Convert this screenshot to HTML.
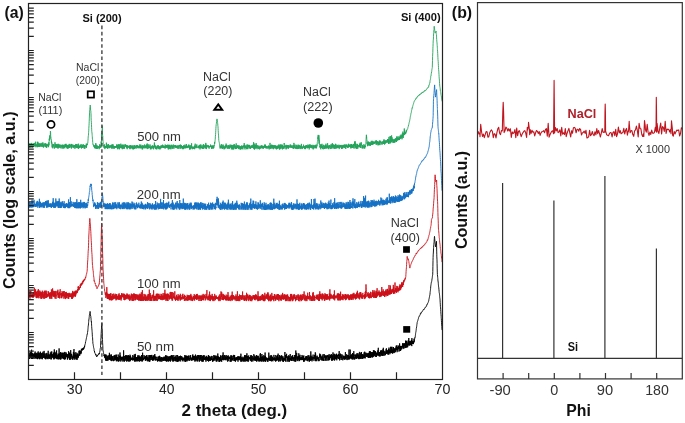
<!DOCTYPE html><html><head><meta charset="utf-8"><style>
html,body{margin:0;padding:0;background:#fff;width:685px;height:423px;overflow:hidden}
svg{display:block;font-family:"Liberation Sans",sans-serif;will-change:transform}
</style></head><body>
<svg width="685" height="423" viewBox="0 0 685 423">
<rect width="685" height="423" fill="#fff"/>
<g fill="none" stroke-linejoin="round" stroke-width="0.9">
<path stroke="#22a35a" d="M28.6,143.8 28.7,145.8 28.8,143.7 29.0,145.2 29.1,143.8 29.2,143.7 29.3,147.1 29.4,146.5 29.6,147.7 29.7,145.0 29.8,145.4 29.9,145.5 30.0,143.3 30.2,146.1 30.3,146.1 30.4,144.1 30.5,144.6 30.6,144.2 30.8,147.6 30.9,145.2 31.0,145.4 31.1,146.3 31.2,143.4 31.4,146.7 31.5,145.3 31.6,145.3 31.7,142.9 31.8,145.9 32.0,143.9 32.1,143.8 32.2,143.8 32.3,147.7 32.4,145.3 32.6,145.9 32.7,146.0 32.8,146.7 32.9,145.2 33.0,144.7 33.2,144.6 33.3,145.7 33.4,145.6 33.5,144.3 33.6,143.4 33.8,146.8 33.9,146.1 34.0,145.2 34.1,144.8 34.2,146.2 34.4,144.5 34.5,144.9 34.6,142.9 34.7,146.2 34.8,145.8 35.0,144.7 35.1,145.7 35.2,144.5 35.3,146.0 35.4,145.0 35.6,144.3 35.7,141.7 35.8,145.4 35.9,147.2 36.0,144.5 36.2,144.7 36.3,146.1 36.4,145.7 36.5,144.6 36.6,144.7 36.8,146.2 36.9,145.4 37.0,145.8 37.1,146.3 37.2,143.7 37.4,147.2 37.5,144.7 37.6,141.9 37.7,146.9 37.8,141.8 38.0,143.4 38.1,145.5 38.2,146.6 38.3,146.0 38.4,145.1 38.6,143.4 38.7,144.2 38.8,146.8 38.9,143.5 39.0,146.4 39.2,144.5 39.3,144.5 39.4,146.8 39.5,146.1 39.6,145.1 39.8,144.1 39.9,143.2 40.0,146.1 40.1,146.9 40.2,145.6 40.4,144.9 40.5,144.0 40.6,145.3 40.7,145.5 40.8,145.5 41.0,146.0 41.1,142.9 41.2,146.2 41.3,145.7 41.4,146.5 41.6,146.2 41.7,144.5 41.8,146.2 41.9,146.4 42.0,144.6 42.2,142.9 42.3,144.4 42.4,145.6 42.5,144.3 42.6,144.3 42.8,146.6 42.9,142.4 43.0,147.1 43.1,145.8 43.2,145.4 43.4,145.1 43.5,147.5 43.6,145.6 43.7,146.9 43.8,145.8 44.0,144.1 44.1,143.5 44.2,145.7 44.3,144.2 44.4,145.1 44.6,144.6 44.7,144.8 44.8,143.9 44.9,143.6 45.0,146.6 45.2,147.1 45.3,144.5 45.4,143.4 45.5,143.4 45.6,146.9 45.8,143.8 45.9,144.8 46.0,144.6 46.1,144.1 46.2,143.8 46.4,147.7 46.5,144.9 46.6,144.2 46.7,147.7 46.8,146.4 47.0,145.9 47.1,145.0 47.2,145.3 47.3,145.5 47.4,144.6 47.6,145.7 47.7,145.8 47.8,146.3 47.9,143.8 48.0,145.8 48.2,145.1 48.3,144.8 48.4,147.2 48.5,146.2 48.6,144.0 48.6,146.5 48.8,142.3 48.9,145.2 49.0,142.9 49.1,141.2 49.2,138.7 49.4,140.1 49.5,140.5 49.6,138.2 49.7,139.0 49.8,135.5 50.0,138.4 50.1,135.1 50.2,134.8 50.3,134.7 50.4,132.1 50.4,131.2 50.6,132.5 50.7,136.2 50.8,136.6 50.9,137.0 51.0,139.6 51.2,139.6 51.2,139.4 51.3,141.0 51.4,142.7 51.5,140.8 51.6,143.6 51.8,142.5 51.9,143.2 52.0,143.4 52.1,144.5 52.2,147.5 52.2,144.1 52.4,147.2 52.5,146.1 52.6,147.1 52.7,147.1 52.8,148.3 53.0,147.8 53.1,147.3 53.2,145.2 53.3,145.4 53.4,144.1 53.6,144.4 53.7,146.4 53.8,146.6 53.9,144.4 54.0,144.9 54.2,146.3 54.3,147.1 54.4,148.6 54.5,146.8 54.6,146.6 54.8,146.5 54.9,145.3 55.0,142.3 55.1,147.1 55.2,146.9 55.4,147.6 55.5,146.6 55.6,144.3 55.7,147.0 55.8,144.6 56.0,145.0 56.1,147.3 56.2,146.7 56.3,145.5 56.4,146.7 56.6,144.2 56.7,147.7 56.8,145.1 56.9,144.7 57.0,147.4 57.2,146.1 57.3,146.3 57.4,145.7 57.5,145.7 57.6,145.4 57.8,147.8 57.9,143.9 58.0,148.7 58.1,144.0 58.2,143.9 58.4,146.2 58.5,147.5 58.6,145.9 58.7,146.6 58.8,144.9 59.0,145.8 59.1,147.9 59.2,146.2 59.3,144.6 59.4,145.1 59.6,146.9 59.7,147.4 59.8,145.9 59.9,145.9 60.0,144.6 60.0,145.9 60.2,145.3 60.3,144.9 60.4,146.1 60.5,146.4 60.6,147.3 60.8,147.9 60.9,146.2 61.0,145.8 61.1,148.5 61.2,147.4 61.4,147.1 61.5,146.1 61.6,146.0 61.7,144.9 61.8,145.7 62.0,145.9 62.1,146.3 62.2,146.6 62.3,144.6 62.4,146.9 62.6,145.1 62.7,145.6 62.8,148.6 62.9,146.2 63.0,148.1 63.2,147.9 63.3,145.6 63.4,147.0 63.5,144.8 63.6,145.3 63.8,146.3 63.9,148.6 64.0,146.7 64.1,146.4 64.2,145.8 64.4,145.9 64.5,147.8 64.6,147.2 64.7,145.3 64.8,147.2 65.0,146.2 65.1,144.0 65.2,146.9 65.3,144.7 65.4,145.4 65.6,146.7 65.7,144.2 65.8,143.9 65.9,146.2 66.0,143.9 66.2,148.3 66.3,147.7 66.4,145.0 66.5,145.7 66.6,146.4 66.8,145.8 66.9,147.2 67.0,146.8 67.1,146.1 67.2,146.9 67.4,145.9 67.5,146.7 67.6,148.7 67.7,144.9 67.8,146.6 68.0,145.3 68.1,148.6 68.2,145.3 68.3,145.5 68.4,147.1 68.6,146.8 68.7,147.8 68.8,147.1 68.9,145.0 69.0,144.6 69.2,145.6 69.3,143.9 69.4,145.0 69.5,147.7 69.6,146.9 69.8,148.0 69.9,147.3 70.0,145.9 70.1,145.8 70.2,146.3 70.4,147.2 70.5,146.4 70.6,145.1 70.7,145.7 70.8,145.1 71.0,145.6 71.1,143.9 71.2,145.2 71.3,144.3 71.4,148.6 71.6,144.4 71.7,145.8 71.8,144.2 71.9,147.5 72.0,147.9 72.2,146.7 72.3,147.0 72.4,146.8 72.5,146.3 72.6,145.1 72.8,144.7 72.9,144.8 73.0,144.7 73.1,146.7 73.2,147.1 73.4,145.6 73.5,145.9 73.6,147.3 73.7,148.1 73.8,146.9 74.0,145.1 74.1,147.3 74.2,145.8 74.3,145.5 74.4,146.5 74.6,146.7 74.7,145.2 74.8,145.8 74.9,148.8 75.0,147.7 75.2,146.5 75.3,146.0 75.4,144.8 75.5,146.0 75.6,147.2 75.8,144.0 75.9,144.0 76.0,144.9 76.1,148.1 76.2,146.6 76.4,145.9 76.5,147.5 76.6,147.2 76.7,144.4 76.8,145.2 77.0,144.1 77.1,147.7 77.2,146.8 77.3,147.8 77.4,146.9 77.6,145.5 77.7,145.9 77.8,147.7 77.9,146.2 78.0,145.9 78.2,148.6 78.3,143.7 78.4,146.2 78.5,145.6 78.6,148.8 78.8,146.7 78.9,145.7 79.0,145.8 79.1,146.1 79.2,147.5 79.4,146.4 79.5,147.2 79.6,147.9 79.7,145.9 79.8,146.7 80.0,146.0 80.1,145.6 80.2,144.7 80.3,147.3 80.4,145.1 80.6,146.8 80.7,146.9 80.8,147.5 80.9,145.8 81.0,146.7 81.2,144.2 81.3,146.3 81.4,146.6 81.5,148.5 81.6,146.2 81.8,147.5 81.9,146.6 82.0,147.4 82.1,147.2 82.2,147.2 82.4,145.0 82.5,147.7 82.6,145.6 82.7,147.7 82.8,147.9 83.0,146.0 83.1,144.2 83.2,145.9 83.3,145.9 83.4,144.8 83.6,145.6 83.7,145.6 83.8,147.5 83.9,148.2 84.0,148.4 84.2,145.6 84.3,146.1 84.4,147.1 84.5,145.0 84.6,145.9 84.8,148.9 84.9,146.9 85.0,145.8 85.1,147.2 85.2,146.6 85.4,145.9 85.5,145.6 85.6,145.3 85.7,145.5 85.8,145.8 86.0,146.6 86.1,147.1 86.2,147.7 86.3,143.6 86.4,147.7 86.5,147.7 86.6,146.0 86.7,145.1 86.8,144.9 86.9,144.0 87.0,145.2 87.2,144.2 87.3,144.7 87.4,143.5 87.5,143.7 87.6,143.4 87.8,143.2 87.8,142.9 87.9,141.4 88.0,140.3 88.1,138.8 88.2,136.9 88.4,135.7 88.5,133.9 88.6,132.6 88.7,131.1 88.8,130.2 88.8,128.7 89.0,125.7 89.1,123.8 89.2,121.7 89.3,118.9 89.4,116.0 89.6,112.9 89.6,112.0 89.7,111.0 89.8,109.8 89.9,107.9 90.0,107.0 90.2,106.2 90.2,105.1 90.3,106.5 90.4,106.5 90.5,107.9 90.6,110.2 90.8,110.8 90.9,111.5 90.9,112.8 91.0,113.4 91.1,117.2 91.2,120.4 91.4,122.3 91.5,124.7 91.6,127.7 91.7,129.8 91.7,130.1 91.8,131.7 92.0,133.0 92.1,134.2 92.2,135.5 92.3,136.7 92.4,139.1 92.6,139.8 92.7,142.1 92.8,142.7 92.9,144.2 93.0,144.4 93.2,144.0 93.3,144.5 93.4,144.9 93.5,146.0 93.6,145.7 93.8,145.6 93.9,146.9 94.0,146.8 94.1,146.8 94.2,146.0 94.4,147.3 94.5,147.9 94.6,145.9 94.7,145.3 94.8,147.8 95.0,145.3 95.1,147.8 95.2,148.7 95.3,146.9 95.4,148.1 95.6,147.0 95.7,145.9 95.8,143.1 95.9,146.1 96.0,144.6 96.2,145.7 96.3,148.2 96.4,147.0 96.5,146.6 96.6,148.9 96.8,145.4 96.9,146.2 97.0,147.4 97.1,147.6 97.2,145.7 97.4,145.8 97.5,148.7 97.6,148.0 97.7,147.8 97.8,148.4 98.0,147.9 98.1,147.3 98.2,147.1 98.3,146.7 98.4,147.5 98.6,146.7 98.7,147.7 98.8,147.0 98.9,146.0 99.0,147.4 99.2,149.2 99.3,147.7 99.4,146.9 99.5,147.7 99.6,144.4 99.8,147.5 99.9,146.1 100.0,146.6 100.1,147.8 100.2,147.2 100.4,144.7 100.5,145.5 100.6,147.4 100.7,145.8 100.8,146.4 101.0,147.4 101.0,147.0 101.1,146.5 101.2,141.6 101.3,143.6 101.4,141.0 101.6,140.1 101.7,134.6 101.7,137.7 101.8,133.2 101.9,135.0 102.0,130.8 102.2,129.7 102.2,128.7 102.3,125.6 102.4,131.3 102.5,133.9 102.6,135.7 102.8,135.9 102.8,138.0 102.9,139.2 103.0,141.2 103.1,141.7 103.2,144.1 103.4,145.6 103.5,145.1 103.6,146.2 103.7,146.5 103.8,145.6 104.0,147.0 104.1,147.8 104.2,147.1 104.3,146.9 104.4,148.0 104.6,144.4 104.7,147.5 104.8,146.4 104.9,149.1 105.0,146.1 105.2,147.9 105.3,147.5 105.4,146.0 105.5,147.5 105.6,147.5 105.8,147.8 105.9,146.4 106.0,146.0 106.1,146.2 106.2,147.1 106.4,142.7 106.5,146.2 106.6,147.9 106.7,147.3 106.8,145.6 107.0,146.1 107.1,147.9 107.2,147.0 107.3,146.7 107.4,148.6 107.6,144.6 107.7,144.8 107.8,148.7 107.9,146.1 108.0,145.8 108.2,147.5 108.3,147.7 108.4,144.0 108.5,145.8 108.6,146.8 108.8,147.3 108.9,147.4 109.0,146.8 109.1,146.9 109.2,146.9 109.4,148.2 109.5,145.7 109.6,145.7 109.7,146.3 109.8,147.8 110.0,146.4 110.1,145.0 110.2,147.1 110.3,146.2 110.4,145.8 110.6,146.4 110.7,146.0 110.8,146.6 110.9,147.4 111.0,148.1 111.2,147.3 111.3,147.0 111.4,144.8 111.5,147.4 111.6,148.4 111.8,145.0 111.9,144.7 112.0,146.7 112.1,146.8 112.2,148.7 112.4,147.0 112.5,144.5 112.6,145.2 112.7,147.7 112.8,147.0 113.0,146.2 113.1,144.4 113.2,147.6 113.3,147.4 113.4,146.7 113.6,146.0 113.7,145.9 113.8,148.6 113.9,147.4 114.0,146.4 114.2,148.7 114.3,146.7 114.4,147.1 114.5,146.1 114.6,147.6 114.8,146.6 114.9,148.0 115.0,148.0 115.1,146.7 115.2,147.0 115.4,146.2 115.5,147.7 115.6,146.5 115.7,146.7 115.8,147.0 116.0,146.1 116.1,146.1 116.2,146.2 116.3,147.5 116.4,147.6 116.6,146.2 116.7,144.4 116.8,147.3 116.9,145.6 117.0,146.9 117.2,148.2 117.3,147.4 117.4,146.3 117.5,149.2 117.6,144.7 117.8,147.6 117.9,147.5 118.0,146.9 118.1,145.6 118.2,148.4 118.4,147.6 118.5,144.5 118.6,147.6 118.7,144.8 118.8,147.6 119.0,144.7 119.1,149.2 119.2,148.6 119.3,144.3 119.4,149.2 119.6,145.9 119.7,147.6 119.8,145.7 119.9,148.1 120.0,147.7 120.2,146.2 120.3,146.8 120.4,146.0 120.5,146.5 120.6,146.2 120.8,143.7 120.9,147.9 121.0,146.2 121.1,148.2 121.2,147.6 121.4,146.1 121.5,148.1 121.6,146.7 121.7,145.3 121.8,147.9 122.0,145.5 122.1,144.4 122.2,144.6 122.3,149.2 122.4,145.6 122.6,148.0 122.7,148.6 122.8,145.3 122.9,146.3 123.0,146.6 123.2,145.1 123.3,147.4 123.4,147.0 123.5,148.4 123.6,148.5 123.8,147.2 123.9,144.5 124.0,145.3 124.1,148.8 124.2,146.7 124.4,148.1 124.5,146.8 124.6,148.2 124.7,146.8 124.8,145.2 125.0,144.6 125.1,144.4 125.2,146.6 125.3,146.6 125.4,146.0 125.6,144.5 125.7,146.3 125.8,146.5 125.9,146.5 126.0,145.9 126.2,146.9 126.3,147.0 126.4,145.3 126.5,147.5 126.6,145.5 126.8,148.3 126.9,145.1 127.0,145.1 127.1,148.3 127.2,149.2 127.4,148.4 127.5,148.2 127.6,145.5 127.7,146.7 127.8,146.9 128.0,146.2 128.1,146.1 128.2,147.1 128.3,147.4 128.4,147.3 128.6,147.3 128.7,146.3 128.8,147.5 128.9,146.7 129.0,145.7 129.2,147.9 129.3,148.2 129.4,145.7 129.5,147.6 129.6,145.8 129.8,148.4 129.9,146.3 130.0,149.2 130.1,146.3 130.2,145.7 130.4,146.8 130.5,145.2 130.6,146.0 130.7,147.3 130.8,146.4 131.0,148.6 131.1,146.3 131.2,147.2 131.3,145.9 131.4,147.4 131.6,145.6 131.7,146.0 131.8,147.8 131.9,147.5 132.0,146.3 132.2,145.9 132.3,148.5 132.4,147.1 132.5,145.8 132.6,147.1 132.8,149.3 132.9,146.2 133.0,147.7 133.1,145.3 133.2,148.1 133.4,147.4 133.5,147.6 133.6,149.3 133.7,147.6 133.8,147.8 134.0,147.7 134.1,148.4 134.2,146.8 134.3,149.0 134.4,145.1 134.6,147.8 134.7,147.1 134.8,146.7 134.9,146.3 135.0,146.7 135.2,146.2 135.3,146.8 135.4,148.1 135.5,147.6 135.6,146.9 135.8,148.1 135.9,145.4 136.0,147.3 136.1,148.7 136.2,148.3 136.4,145.6 136.5,146.7 136.6,146.0 136.7,146.6 136.8,146.7 137.0,145.0 137.1,147.4 137.2,147.0 137.3,145.4 137.4,145.0 137.6,147.7 137.7,147.3 137.8,146.2 137.9,148.1 138.0,148.3 138.2,146.3 138.3,146.1 138.4,147.5 138.5,146.0 138.6,147.8 138.8,145.7 138.9,147.4 139.0,148.2 139.1,147.4 139.2,147.0 139.4,147.4 139.5,146.0 139.6,147.0 139.7,148.1 139.8,144.4 140.0,148.0 140.1,146.6 140.2,146.3 140.3,148.4 140.4,145.4 140.6,146.9 140.7,147.6 140.8,147.4 140.9,144.7 141.0,147.9 141.2,146.7 141.3,146.4 141.4,146.4 141.5,147.8 141.6,146.6 141.8,146.5 141.9,145.8 142.0,145.8 142.1,149.3 142.2,147.3 142.4,148.8 142.5,146.9 142.6,149.3 142.7,146.6 142.8,145.0 143.0,147.6 143.1,146.3 143.2,147.1 143.3,147.4 143.4,147.1 143.6,146.3 143.7,146.7 143.8,148.3 143.9,146.4 144.0,145.6 144.2,147.6 144.3,145.5 144.4,145.9 144.5,145.6 144.6,144.5 144.8,145.3 144.9,148.2 145.0,147.7 145.1,148.3 145.2,147.4 145.4,147.8 145.5,145.7 145.6,147.9 145.7,145.7 145.8,146.2 146.0,146.6 146.1,146.0 146.2,146.1 146.3,146.5 146.4,145.5 146.6,148.2 146.7,144.5 146.8,145.7 146.9,146.0 147.0,147.0 147.2,143.5 147.3,149.1 147.4,145.9 147.5,146.5 147.6,147.1 147.8,144.7 147.9,147.0 148.0,147.7 148.1,148.4 148.2,148.3 148.4,148.5 148.5,146.0 148.6,146.7 148.7,145.9 148.8,144.4 149.0,147.8 149.1,146.6 149.2,147.8 149.3,146.7 149.4,147.9 149.6,147.4 149.7,146.4 149.8,145.7 149.9,145.9 150.0,145.4 150.2,144.6 150.3,149.3 150.4,147.8 150.5,147.0 150.6,148.2 150.8,148.2 150.9,146.4 151.0,147.2 151.1,149.3 151.2,146.6 151.4,146.5 151.5,146.3 151.6,146.6 151.7,147.2 151.8,146.6 152.0,148.4 152.1,147.2 152.2,148.2 152.3,145.2 152.4,146.1 152.6,146.8 152.7,146.1 152.8,146.9 152.9,146.4 153.0,146.9 153.2,148.4 153.3,146.6 153.4,145.9 153.5,148.5 153.6,149.3 153.8,146.0 153.9,148.3 154.0,147.1 154.1,145.6 154.2,145.8 154.4,142.5 154.5,146.5 154.6,144.4 154.7,146.8 154.8,145.3 155.0,146.7 155.1,147.3 155.2,146.9 155.3,147.5 155.4,145.8 155.6,148.9 155.7,147.1 155.8,145.8 155.9,146.7 156.0,147.1 156.2,149.3 156.3,146.9 156.4,148.3 156.5,147.0 156.6,148.6 156.8,146.8 156.9,149.3 157.0,146.6 157.1,147.9 157.2,147.3 157.4,145.4 157.5,146.9 157.6,147.7 157.7,146.1 157.8,147.7 158.0,146.4 158.1,147.3 158.2,145.8 158.3,148.7 158.4,145.3 158.6,145.8 158.7,148.3 158.8,147.0 158.9,147.5 159.0,146.6 159.2,149.3 159.3,146.2 159.4,148.1 159.5,148.4 159.6,148.1 159.8,148.3 159.9,148.2 160.0,146.5 160.1,146.5 160.2,149.3 160.4,146.7 160.5,147.2 160.6,148.0 160.7,147.9 160.8,147.0 161.0,145.4 161.1,147.0 161.2,147.4 161.3,148.2 161.4,146.3 161.6,146.0 161.7,146.5 161.8,145.3 161.9,147.3 162.0,148.0 162.2,146.7 162.3,146.6 162.4,147.1 162.5,144.7 162.6,146.1 162.8,145.2 162.9,146.9 163.0,147.9 163.1,147.0 163.2,146.1 163.4,146.1 163.5,146.4 163.6,147.9 163.7,145.6 163.8,147.7 164.0,147.7 164.1,146.5 164.2,147.4 164.3,146.4 164.4,146.7 164.6,147.6 164.7,146.3 164.8,146.6 164.9,148.4 165.0,148.0 165.2,144.5 165.3,147.0 165.4,148.3 165.5,146.9 165.6,146.0 165.8,145.9 165.9,145.2 166.0,147.1 166.1,146.4 166.2,147.1 166.4,147.9 166.5,145.0 166.6,145.6 166.7,146.9 166.8,145.5 167.0,147.0 167.1,145.8 167.2,146.9 167.3,148.0 167.4,145.0 167.6,146.1 167.7,144.9 167.8,147.2 167.9,146.2 168.0,144.6 168.2,149.3 168.3,147.3 168.4,145.3 168.5,146.6 168.6,146.6 168.8,149.3 168.9,146.6 169.0,146.2 169.1,145.0 169.2,148.3 169.4,148.3 169.5,147.2 169.6,144.8 169.7,148.5 169.8,146.3 170.0,146.8 170.1,147.1 170.2,147.2 170.3,148.7 170.4,145.9 170.6,146.8 170.7,145.8 170.8,145.5 170.9,149.3 171.0,145.8 171.2,144.7 171.3,144.8 171.4,146.7 171.5,145.6 171.6,145.6 171.8,146.6 171.9,147.4 172.0,148.4 172.1,147.3 172.2,147.1 172.4,148.6 172.5,146.4 172.6,147.0 172.7,148.3 172.8,145.3 173.0,147.7 173.1,145.1 173.2,144.7 173.3,144.5 173.4,145.9 173.6,147.0 173.7,146.5 173.8,146.7 173.9,148.8 174.0,147.1 174.2,145.2 174.3,146.4 174.4,147.2 174.5,147.2 174.6,146.7 174.8,146.5 174.9,145.7 175.0,145.2 175.1,146.1 175.2,146.2 175.4,145.4 175.5,147.2 175.6,145.2 175.7,145.9 175.8,147.8 176.0,147.8 176.1,145.8 176.2,147.5 176.3,146.9 176.4,147.9 176.6,145.9 176.7,147.6 176.8,146.3 176.9,145.8 177.0,147.3 177.2,146.3 177.3,148.5 177.4,147.1 177.5,145.6 177.6,145.8 177.8,147.3 177.9,147.2 178.0,145.7 178.1,146.4 178.2,148.8 178.4,146.3 178.5,145.8 178.6,147.1 178.7,145.5 178.8,146.9 179.0,146.7 179.1,146.8 179.2,148.6 179.3,147.7 179.4,146.9 179.6,145.0 179.7,145.8 179.8,145.3 179.9,145.9 180.0,146.1 180.2,146.5 180.3,144.5 180.4,146.0 180.5,146.1 180.6,148.7 180.8,145.6 180.9,146.3 181.0,145.1 181.1,145.1 181.2,147.4 181.4,145.8 181.5,145.5 181.6,147.3 181.7,148.0 181.8,146.6 182.0,146.4 182.1,148.7 182.2,146.2 182.3,147.6 182.4,148.1 182.6,147.1 182.7,146.0 182.8,149.2 182.9,147.2 183.0,147.5 183.2,146.9 183.3,146.0 183.4,149.1 183.5,147.3 183.6,146.4 183.8,145.2 183.9,147.2 184.0,148.3 184.1,147.5 184.2,145.5 184.4,147.1 184.5,147.8 184.6,148.0 184.7,146.7 184.8,148.2 185.0,144.6 185.1,145.8 185.2,148.4 185.3,147.5 185.4,146.3 185.6,146.9 185.7,146.6 185.8,147.8 185.9,145.7 186.0,148.0 186.2,147.3 186.3,147.2 186.4,144.0 186.5,147.4 186.6,147.8 186.8,146.4 186.9,148.2 187.0,146.3 187.1,147.8 187.2,146.9 187.4,147.2 187.5,146.9 187.6,147.5 187.7,145.9 187.8,146.9 188.0,145.7 188.1,145.7 188.2,145.9 188.3,147.6 188.4,145.5 188.6,146.7 188.7,147.0 188.8,144.5 188.9,146.2 189.0,146.3 189.2,147.9 189.3,145.4 189.4,145.8 189.5,147.3 189.6,149.4 189.8,146.8 189.9,147.0 190.0,149.4 190.1,146.1 190.2,149.2 190.4,147.3 190.5,148.7 190.6,146.6 190.7,146.5 190.8,145.1 191.0,147.8 191.1,147.6 191.2,148.1 191.3,147.2 191.4,148.2 191.6,143.3 191.7,146.2 191.8,147.1 191.9,147.4 192.0,148.4 192.2,146.6 192.3,146.8 192.4,149.2 192.5,147.3 192.6,147.1 192.8,147.0 192.9,147.2 193.0,148.0 193.1,146.7 193.2,147.6 193.4,148.5 193.5,148.4 193.6,147.4 193.7,146.9 193.8,148.9 194.0,147.8 194.1,146.8 194.2,146.8 194.3,146.6 194.4,146.4 194.6,149.2 194.7,146.1 194.8,145.5 194.9,146.5 195.0,147.0 195.2,143.7 195.3,146.9 195.4,146.6 195.5,147.6 195.6,147.6 195.8,148.2 195.9,146.2 196.0,146.6 196.1,147.0 196.2,148.1 196.4,147.9 196.5,145.6 196.6,146.9 196.7,146.6 196.8,144.4 197.0,147.3 197.1,147.3 197.2,147.2 197.3,147.3 197.4,146.8 197.6,147.2 197.7,147.5 197.8,147.3 197.9,147.6 198.0,147.9 198.2,148.2 198.3,146.6 198.4,147.0 198.5,146.9 198.6,147.1 198.8,145.8 198.9,147.9 199.0,145.6 199.1,148.2 199.2,147.3 199.4,146.8 199.5,147.0 199.6,144.9 199.7,147.4 199.8,148.1 200.0,149.4 200.1,149.2 200.2,145.9 200.3,148.2 200.4,144.7 200.6,145.8 200.7,145.3 200.8,144.6 200.9,146.4 201.0,146.7 201.2,146.3 201.3,146.3 201.4,147.4 201.5,148.2 201.6,146.9 201.8,148.1 201.9,147.4 202.0,146.3 202.1,144.8 202.2,147.0 202.4,148.7 202.5,146.9 202.6,147.1 202.7,148.3 202.8,148.1 203.0,146.5 203.1,146.2 203.2,148.8 203.3,148.2 203.4,148.7 203.6,144.1 203.7,146.5 203.8,146.8 203.9,145.4 204.0,145.1 204.2,147.2 204.3,146.4 204.4,145.6 204.5,146.1 204.6,146.0 204.8,148.3 204.9,147.6 205.0,147.5 205.1,146.0 205.2,146.6 205.4,144.6 205.5,148.2 205.6,145.6 205.7,147.2 205.8,142.9 206.0,146.8 206.1,148.6 206.2,147.6 206.3,147.2 206.4,149.1 206.6,146.9 206.7,144.8 206.8,146.9 206.9,145.8 207.0,147.1 207.2,147.4 207.3,147.0 207.4,146.7 207.5,146.4 207.6,145.4 207.8,145.8 207.9,145.3 208.0,146.1 208.1,146.4 208.2,147.1 208.4,147.0 208.5,146.6 208.6,145.4 208.7,147.5 208.8,146.6 209.0,147.6 209.1,148.7 209.2,147.4 209.3,147.2 209.4,146.2 209.6,146.0 209.7,147.2 209.8,146.7 209.9,146.6 210.0,146.2 210.2,146.3 210.3,147.1 210.4,146.7 210.5,144.6 210.6,146.2 210.8,146.0 210.9,146.7 211.0,147.1 211.1,145.9 211.2,146.8 211.4,145.7 211.5,148.1 211.6,149.0 211.7,146.2 211.8,147.9 212.0,146.5 212.1,146.6 212.2,145.4 212.3,145.7 212.4,148.2 212.6,146.8 212.7,146.0 212.8,147.6 212.9,145.6 213.0,148.9 213.2,147.7 213.3,146.0 213.4,146.8 213.5,147.5 213.6,146.6 213.8,148.1 213.9,145.4 214.0,145.1 214.1,146.3 214.2,144.9 214.4,144.3 214.5,144.3 214.6,141.9 214.7,143.7 214.8,142.0 215.0,141.6 215.1,140.2 215.2,139.6 215.3,138.0 215.4,136.2 215.6,134.5 215.7,132.3 215.8,130.3 215.9,128.4 216.0,126.4 216.2,124.6 216.2,124.5 216.3,124.1 216.4,123.2 216.5,121.7 216.6,121.2 216.8,119.9 216.9,119.2 217.0,118.9 217.1,119.0 217.2,120.1 217.4,121.1 217.5,122.0 217.6,122.6 217.7,123.8 217.8,123.9 217.8,125.2 218.0,126.6 218.1,128.5 218.2,130.5 218.3,132.2 218.4,133.9 218.6,135.9 218.7,138.2 218.8,140.3 218.9,140.8 219.0,141.5 219.2,142.1 219.3,142.8 219.4,143.4 219.5,144.3 219.6,145.2 219.8,146.4 219.9,146.4 220.0,147.4 220.1,148.5 220.2,145.8 220.4,146.5 220.5,147.7 220.6,147.2 220.7,145.7 220.8,146.1 221.0,148.0 221.1,146.3 221.2,148.4 221.3,144.1 221.4,147.7 221.6,146.9 221.7,146.2 221.8,146.8 221.9,147.6 222.0,146.4 222.2,144.8 222.3,147.2 222.4,148.9 222.5,147.4 222.6,148.0 222.8,146.6 222.9,148.2 223.0,147.2 223.1,146.1 223.2,144.6 223.4,145.2 223.5,147.8 223.6,147.0 223.7,146.6 223.8,148.2 224.0,147.7 224.1,149.4 224.2,147.9 224.3,147.3 224.4,148.5 224.6,146.4 224.7,147.1 224.8,148.9 224.9,147.4 225.0,147.1 225.2,145.7 225.3,145.3 225.4,146.3 225.5,148.2 225.6,147.9 225.8,147.3 225.9,145.6 226.0,147.2 226.1,143.6 226.2,147.5 226.4,145.7 226.5,146.5 226.6,144.9 226.7,147.0 226.8,146.7 227.0,145.2 227.1,145.7 227.2,146.3 227.3,148.9 227.4,147.6 227.6,147.3 227.7,146.8 227.8,147.7 227.9,146.8 228.0,147.0 228.2,145.6 228.3,147.1 228.4,146.9 228.5,148.5 228.6,145.6 228.8,146.5 228.9,145.1 229.0,146.7 229.1,146.9 229.2,149.0 229.4,148.5 229.5,146.1 229.6,147.3 229.7,146.4 229.8,148.1 230.0,144.6 230.1,145.4 230.2,147.4 230.3,146.2 230.4,146.0 230.6,145.7 230.7,146.9 230.8,147.2 230.9,146.7 231.0,144.7 231.2,147.1 231.3,149.1 231.4,149.4 231.5,148.9 231.6,145.0 231.8,147.3 231.9,146.8 232.0,148.4 232.1,146.6 232.2,146.5 232.4,147.4 232.5,149.4 232.6,148.3 232.7,145.0 232.8,148.7 233.0,147.9 233.1,147.4 233.2,147.1 233.3,149.4 233.4,144.7 233.6,146.0 233.7,145.4 233.8,149.3 233.9,148.1 234.0,146.2 234.2,147.2 234.3,144.1 234.4,146.8 234.5,147.1 234.6,147.8 234.8,145.8 234.9,146.0 235.0,146.8 235.1,145.3 235.2,148.6 235.4,147.8 235.5,148.5 235.6,146.0 235.7,149.1 235.8,146.4 236.0,148.6 236.1,147.1 236.2,143.4 236.3,146.2 236.4,148.6 236.6,146.8 236.7,148.3 236.8,146.9 236.9,148.1 237.0,147.1 237.2,146.2 237.3,147.6 237.4,146.6 237.5,148.1 237.6,145.1 237.8,148.0 237.9,147.5 238.0,146.2 238.1,147.8 238.2,146.4 238.4,146.8 238.5,148.5 238.6,146.5 238.7,149.1 238.8,145.0 239.0,145.6 239.1,148.3 239.2,148.4 239.3,147.1 239.4,146.3 239.6,146.5 239.7,146.6 239.8,146.6 239.9,149.4 240.0,146.5 240.2,146.2 240.3,146.2 240.4,146.3 240.5,149.4 240.6,146.8 240.8,147.2 240.9,146.5 241.0,149.4 241.1,148.7 241.2,146.9 241.4,147.0 241.5,148.7 241.6,145.5 241.7,146.4 241.8,147.3 242.0,146.7 242.1,146.4 242.2,146.0 242.3,148.8 242.4,146.0 242.6,146.8 242.7,145.8 242.8,148.7 242.9,149.4 243.0,147.0 243.2,146.6 243.3,146.7 243.4,145.7 243.5,145.9 243.6,147.1 243.8,145.4 243.9,146.0 244.0,147.5 244.1,147.7 244.2,143.1 244.4,147.2 244.5,146.7 244.6,146.1 244.7,144.9 244.8,148.7 245.0,149.4 245.1,146.6 245.2,146.9 245.3,147.9 245.4,147.4 245.6,146.7 245.7,147.4 245.8,145.4 245.9,147.7 246.0,146.6 246.2,146.9 246.3,146.8 246.4,149.2 246.5,147.0 246.6,146.9 246.8,146.3 246.9,144.6 247.0,147.4 247.1,148.3 247.2,148.5 247.4,148.0 247.5,149.0 247.6,148.9 247.7,144.6 247.8,149.2 248.0,145.7 248.1,146.7 248.2,147.5 248.3,145.4 248.4,146.6 248.6,146.5 248.7,145.6 248.8,145.3 248.9,146.7 249.0,144.8 249.2,146.1 249.3,145.0 249.4,148.1 249.5,145.0 249.6,146.7 249.8,147.3 249.9,148.0 250.0,146.9 250.1,149.0 250.2,146.6 250.4,146.7 250.5,148.6 250.6,148.3 250.7,146.5 250.8,148.2 251.0,147.5 251.1,147.8 251.2,145.2 251.3,146.6 251.4,147.1 251.6,146.4 251.7,147.3 251.8,147.3 251.9,147.3 252.0,147.7 252.2,145.5 252.3,147.5 252.4,147.8 252.5,145.9 252.6,145.6 252.8,144.8 252.9,147.9 253.0,146.9 253.1,147.3 253.2,147.7 253.4,144.7 253.5,147.8 253.6,142.2 253.7,147.0 253.8,148.6 254.0,146.7 254.1,148.6 254.2,146.8 254.3,149.4 254.4,145.3 254.6,149.4 254.7,146.3 254.8,143.6 254.9,147.0 255.0,147.5 255.2,147.0 255.3,146.0 255.4,148.1 255.5,144.9 255.6,148.5 255.8,146.3 255.9,145.8 256.0,148.0 256.1,148.2 256.2,143.2 256.4,144.8 256.5,147.9 256.6,145.8 256.7,146.0 256.8,146.1 257.0,146.7 257.1,149.2 257.2,145.0 257.3,145.6 257.4,146.8 257.6,147.7 257.7,147.4 257.8,147.1 257.9,147.4 258.0,145.9 258.2,145.7 258.3,146.2 258.4,146.3 258.5,147.4 258.6,148.9 258.8,145.8 258.9,145.9 259.0,146.1 259.1,147.9 259.2,148.2 259.4,149.4 259.5,148.6 259.6,146.9 259.7,148.6 259.8,147.1 260.0,147.2 260.1,145.7 260.2,145.9 260.3,145.8 260.4,148.5 260.6,147.9 260.7,148.3 260.8,146.7 260.9,146.5 261.0,147.5 261.2,146.8 261.3,146.2 261.4,146.1 261.5,148.2 261.6,145.3 261.8,147.5 261.9,146.1 262.0,148.0 262.1,145.6 262.2,146.6 262.4,146.1 262.5,146.3 262.6,146.8 262.7,148.5 262.8,146.1 263.0,145.8 263.1,147.1 263.2,148.2 263.3,146.7 263.4,148.6 263.6,147.3 263.7,146.1 263.8,146.5 263.9,147.8 264.0,146.6 264.2,146.1 264.3,147.8 264.4,146.0 264.5,145.4 264.6,146.7 264.8,146.9 264.9,144.4 265.0,145.2 265.1,146.1 265.2,147.1 265.4,144.8 265.5,146.4 265.6,148.2 265.7,147.9 265.8,145.7 266.0,147.0 266.1,148.1 266.2,148.2 266.3,146.3 266.4,147.3 266.6,146.0 266.7,147.0 266.8,147.7 266.9,147.2 267.0,148.8 267.2,148.0 267.3,146.9 267.4,146.2 267.5,146.9 267.6,147.2 267.8,147.1 267.9,147.3 268.0,147.8 268.1,148.1 268.2,148.4 268.4,145.5 268.5,147.5 268.6,147.2 268.7,146.1 268.8,148.0 269.0,148.0 269.1,146.3 269.2,149.4 269.3,148.2 269.4,146.5 269.6,146.4 269.7,147.3 269.8,146.5 269.9,146.0 270.0,142.9 270.2,148.3 270.3,148.1 270.4,148.5 270.5,147.0 270.6,148.6 270.8,145.1 270.9,147.9 271.0,146.0 271.1,147.0 271.2,145.0 271.4,147.2 271.5,147.6 271.6,144.7 271.7,145.4 271.8,146.7 272.0,148.9 272.1,147.5 272.2,147.3 272.3,144.9 272.4,147.5 272.6,145.4 272.7,147.7 272.8,147.3 272.9,145.3 273.0,147.4 273.2,145.0 273.3,148.2 273.4,149.2 273.5,146.7 273.6,146.1 273.8,146.6 273.9,147.0 274.0,148.6 274.1,146.1 274.2,147.3 274.4,147.7 274.5,146.2 274.6,145.4 274.7,147.7 274.8,147.7 275.0,145.1 275.1,145.3 275.2,147.5 275.3,145.6 275.4,147.7 275.6,147.9 275.7,147.0 275.8,148.7 275.9,148.9 276.0,146.9 276.2,147.2 276.3,146.1 276.4,149.4 276.5,147.3 276.6,146.3 276.8,145.9 276.9,147.9 277.0,146.6 277.1,146.4 277.2,145.5 277.4,146.2 277.5,148.7 277.6,146.2 277.7,147.4 277.8,147.9 278.0,148.7 278.1,146.4 278.2,146.1 278.3,147.1 278.4,147.9 278.6,145.7 278.7,145.8 278.8,147.2 278.9,144.5 279.0,147.6 279.2,144.8 279.3,148.4 279.4,146.4 279.5,149.4 279.6,147.0 279.8,149.4 279.9,146.9 280.0,146.2 280.1,146.4 280.2,147.9 280.4,148.7 280.5,148.1 280.6,144.5 280.7,148.4 280.8,148.4 281.0,144.7 281.1,146.6 281.2,146.7 281.3,146.8 281.4,146.8 281.6,145.7 281.7,147.6 281.8,148.0 281.9,148.4 282.0,144.5 282.2,148.5 282.3,145.8 282.4,149.4 282.5,145.2 282.6,146.5 282.8,146.0 282.9,148.7 283.0,146.7 283.1,146.5 283.2,146.7 283.4,147.7 283.5,148.4 283.6,147.2 283.7,148.6 283.8,148.0 284.0,145.9 284.1,147.0 284.2,143.0 284.3,146.8 284.4,147.2 284.6,146.4 284.7,147.2 284.8,147.3 284.9,148.5 285.0,146.9 285.2,146.2 285.3,147.0 285.4,146.8 285.5,146.6 285.6,147.0 285.8,145.5 285.9,145.9 286.0,144.8 286.1,149.4 286.2,147.6 286.4,148.3 286.5,146.4 286.6,145.4 286.7,147.6 286.8,145.9 287.0,148.4 287.1,145.6 287.2,147.6 287.3,146.8 287.4,146.2 287.6,145.4 287.7,145.7 287.8,146.0 287.9,145.3 288.0,146.7 288.2,148.5 288.3,145.1 288.4,146.8 288.5,148.5 288.6,146.2 288.8,146.3 288.9,147.3 289.0,146.6 289.1,146.9 289.2,146.5 289.4,146.3 289.5,145.6 289.6,146.9 289.7,147.2 289.8,147.6 290.0,146.5 290.1,146.1 290.2,144.5 290.3,147.7 290.4,146.9 290.6,144.9 290.7,146.7 290.8,144.9 290.9,146.9 291.0,146.2 291.2,146.6 291.3,146.6 291.4,147.2 291.5,147.1 291.6,146.3 291.8,146.3 291.9,148.0 292.0,145.3 292.1,147.7 292.2,147.0 292.4,147.6 292.5,147.1 292.6,146.9 292.7,147.4 292.8,148.3 293.0,146.1 293.1,145.6 293.2,145.1 293.3,148.3 293.4,146.7 293.6,147.3 293.7,145.3 293.8,148.9 293.9,142.9 294.0,144.7 294.2,144.8 294.3,147.0 294.4,146.2 294.5,147.1 294.6,147.9 294.8,145.9 294.9,146.6 295.0,147.0 295.1,144.6 295.2,146.7 295.4,148.3 295.5,147.0 295.6,147.1 295.7,148.6 295.8,147.2 296.0,148.3 296.1,147.6 296.2,147.0 296.3,147.6 296.4,145.3 296.6,146.0 296.7,146.8 296.8,148.9 296.9,146.7 297.0,144.7 297.2,149.1 297.3,146.7 297.4,146.5 297.5,146.5 297.6,146.2 297.8,145.9 297.9,145.8 298.0,146.7 298.1,148.8 298.2,145.6 298.4,145.4 298.5,148.4 298.6,148.1 298.7,144.7 298.8,145.9 299.0,148.5 299.1,148.8 299.2,148.0 299.3,146.4 299.4,146.8 299.6,147.3 299.7,145.2 299.8,147.2 299.9,147.3 300.0,147.3 300.2,146.8 300.3,149.1 300.4,148.6 300.5,145.9 300.6,146.3 300.8,146.5 300.9,145.8 301.0,148.1 301.1,147.5 301.2,146.3 301.4,143.9 301.5,147.5 301.6,147.2 301.7,147.3 301.8,148.5 302.0,149.1 302.1,147.7 302.2,146.5 302.3,148.6 302.4,147.1 302.6,148.2 302.7,147.7 302.8,146.7 302.9,146.5 303.0,146.4 303.2,146.9 303.3,147.2 303.4,147.7 303.5,144.7 303.6,145.5 303.8,145.9 303.9,147.0 304.0,147.8 304.1,146.5 304.2,146.7 304.4,148.8 304.5,147.0 304.6,146.2 304.7,147.7 304.8,148.2 305.0,147.1 305.1,149.2 305.2,145.7 305.3,145.7 305.4,148.5 305.6,146.8 305.7,145.8 305.8,148.4 305.9,148.2 306.0,147.5 306.2,145.4 306.3,146.2 306.4,145.0 306.5,145.4 306.6,145.9 306.8,147.9 306.9,146.5 307.0,146.2 307.1,146.5 307.2,146.0 307.4,146.1 307.5,148.3 307.6,148.1 307.7,145.6 307.8,145.8 308.0,144.5 308.1,146.8 308.2,147.6 308.3,145.2 308.4,147.7 308.6,147.3 308.7,147.7 308.8,146.5 308.9,146.6 309.0,145.3 309.2,149.4 309.3,148.6 309.4,146.9 309.5,145.9 309.6,147.8 309.8,144.5 309.9,146.7 310.0,144.5 310.1,147.5 310.2,147.4 310.4,146.6 310.5,147.5 310.6,147.2 310.7,146.3 310.8,145.9 311.0,145.2 311.1,147.2 311.2,144.9 311.3,147.3 311.4,146.7 311.6,147.6 311.7,146.7 311.8,147.3 311.9,145.4 312.0,147.4 312.2,148.5 312.3,147.8 312.4,147.5 312.5,147.1 312.6,147.3 312.8,145.1 312.9,144.8 313.0,145.3 313.1,148.7 313.2,149.4 313.4,145.3 313.5,148.3 313.6,147.7 313.7,146.8 313.8,147.0 314.0,146.7 314.1,148.4 314.2,146.8 314.3,146.3 314.4,146.4 314.6,146.8 314.7,145.2 314.8,146.4 314.9,146.4 315.0,147.6 315.2,147.1 315.3,147.7 315.4,144.8 315.5,147.8 315.6,146.9 315.8,148.2 315.9,146.0 316.0,147.2 316.1,147.4 316.2,148.4 316.4,146.8 316.5,147.7 316.6,147.4 316.7,146.5 316.8,144.6 316.8,146.4 317.0,145.8 317.1,144.5 317.2,144.6 317.3,142.5 317.4,141.6 317.6,141.4 317.6,141.0 317.7,140.2 317.8,140.3 317.9,137.3 318.0,138.8 318.2,134.9 318.2,136.5 318.3,136.0 318.4,138.7 318.5,137.3 318.6,137.9 318.8,138.8 318.9,140.4 318.9,135.2 319.0,140.1 319.1,143.7 319.2,140.1 319.4,143.1 319.5,144.9 319.6,144.8 319.7,144.6 319.8,147.3 319.8,146.5 320.0,147.0 320.1,146.7 320.2,147.4 320.3,147.7 320.4,147.7 320.6,144.4 320.7,149.0 320.8,149.3 320.9,148.2 321.0,147.9 321.2,144.5 321.3,148.0 321.4,146.6 321.5,145.8 321.6,146.4 321.8,147.5 321.9,144.4 322.0,143.8 322.1,146.0 322.2,146.6 322.4,145.8 322.5,148.5 322.6,148.0 322.7,148.5 322.8,146.3 323.0,146.0 323.1,147.4 323.2,149.3 323.3,146.7 323.4,146.6 323.6,144.8 323.7,146.3 323.8,146.9 323.9,146.9 324.0,147.3 324.2,148.5 324.3,146.3 324.4,148.6 324.5,147.4 324.6,145.6 324.8,146.8 324.9,147.1 325.0,149.0 325.1,145.9 325.2,147.2 325.4,145.0 325.5,146.1 325.6,145.8 325.7,148.2 325.8,145.2 326.0,143.7 326.1,147.5 326.2,146.1 326.3,146.9 326.4,147.4 326.6,148.4 326.7,145.4 326.8,147.4 326.9,146.0 327.0,148.4 327.2,146.2 327.3,147.7 327.4,147.4 327.5,145.8 327.6,143.2 327.8,147.7 327.9,147.5 328.0,147.0 328.1,146.0 328.2,146.2 328.4,148.7 328.5,147.9 328.6,147.0 328.7,145.9 328.8,149.2 329.0,145.0 329.1,146.9 329.2,146.5 329.3,147.6 329.4,147.8 329.6,147.7 329.7,145.8 329.8,145.0 329.9,146.1 330.0,146.9 330.2,146.0 330.3,147.9 330.4,148.9 330.5,148.8 330.6,147.3 330.8,145.2 330.9,144.8 331.0,144.3 331.1,145.9 331.2,148.6 331.4,148.8 331.5,146.3 331.6,145.3 331.7,147.5 331.8,148.0 332.0,146.9 332.1,144.2 332.2,147.0 332.3,143.1 332.4,144.3 332.6,146.8 332.7,146.5 332.8,147.1 332.9,148.5 333.0,147.2 333.2,146.4 333.3,147.2 333.4,144.7 333.5,144.7 333.6,146.3 333.8,145.6 333.9,144.5 334.0,148.6 334.1,147.0 334.2,147.9 334.4,145.0 334.5,145.7 334.6,145.2 334.7,147.2 334.8,149.0 335.0,146.2 335.1,145.2 335.2,145.9 335.3,147.1 335.4,146.9 335.6,143.8 335.7,147.7 335.8,146.3 335.9,148.8 336.0,147.6 336.2,147.4 336.3,146.8 336.4,146.9 336.5,146.7 336.6,148.0 336.8,144.6 336.9,145.3 337.0,148.3 337.1,145.4 337.2,146.9 337.4,146.2 337.5,145.5 337.6,146.3 337.7,145.9 337.8,147.8 338.0,146.3 338.1,146.2 338.2,145.5 338.3,148.0 338.4,146.2 338.6,146.1 338.7,146.0 338.8,145.7 338.9,144.7 339.0,146.5 339.2,149.1 339.3,148.7 339.4,146.1 339.5,147.4 339.6,147.5 339.8,145.2 339.9,147.0 340.0,147.0 340.1,147.3 340.2,145.4 340.4,147.4 340.5,146.3 340.6,146.4 340.7,145.4 340.8,145.9 341.0,146.5 341.1,144.9 341.2,146.5 341.3,145.8 341.4,146.3 341.6,149.0 341.7,147.9 341.8,146.8 341.9,145.6 342.0,145.2 342.2,145.1 342.3,148.1 342.4,147.3 342.5,146.1 342.6,148.6 342.8,145.3 342.9,145.5 343.0,146.5 343.1,147.3 343.2,145.2 343.4,144.9 343.5,146.1 343.6,146.9 343.7,145.9 343.8,145.2 344.0,148.1 344.1,144.8 344.2,146.5 344.3,145.3 344.4,146.7 344.6,147.7 344.7,147.4 344.8,147.0 344.9,147.4 345.0,144.2 345.2,145.5 345.3,146.6 345.4,145.3 345.5,147.1 345.6,148.5 345.8,149.0 345.9,147.6 346.0,145.7 346.1,145.7 346.2,145.0 346.4,146.1 346.5,146.8 346.6,144.5 346.7,144.7 346.8,146.8 347.0,144.7 347.1,147.0 347.2,146.1 347.3,147.9 347.4,147.0 347.6,147.3 347.7,146.1 347.8,147.0 347.9,145.7 348.0,146.0 348.2,146.3 348.3,146.0 348.4,147.7 348.5,143.8 348.6,145.4 348.8,146.4 348.9,145.3 349.0,146.2 349.1,145.7 349.2,146.6 349.4,144.6 349.5,145.5 349.6,147.0 349.7,146.2 349.8,145.7 350.0,146.9 350.1,144.8 350.2,145.9 350.3,147.5 350.4,147.6 350.6,147.0 350.7,146.2 350.8,144.3 350.9,148.5 351.0,147.5 351.2,146.9 351.3,144.0 351.4,146.5 351.5,146.0 351.6,145.0 351.8,147.9 351.9,144.2 352.0,147.8 352.1,146.8 352.2,145.2 352.4,147.5 352.5,145.9 352.6,145.6 352.7,145.8 352.8,147.6 353.0,147.4 353.1,146.3 353.2,145.6 353.3,146.5 353.4,143.9 353.6,146.8 353.7,146.5 353.8,148.4 353.9,146.9 354.0,145.9 354.2,144.2 354.3,145.9 354.4,145.1 354.5,145.0 354.6,141.6 354.8,145.2 354.9,146.3 355.0,148.5 355.1,145.6 355.2,141.3 355.4,147.5 355.5,145.3 355.6,143.9 355.7,145.2 355.8,143.9 356.0,146.9 356.1,146.0 356.2,147.3 356.3,147.7 356.4,147.0 356.6,145.8 356.7,148.8 356.8,146.2 356.9,148.8 357.0,143.8 357.2,147.5 357.3,145.4 357.4,147.4 357.5,146.3 357.6,144.2 357.8,148.6 357.9,147.8 358.0,145.3 358.1,146.0 358.2,146.6 358.4,146.1 358.5,145.9 358.6,145.4 358.7,145.3 358.8,146.3 359.0,146.8 359.1,145.5 359.2,147.3 359.3,145.3 359.4,145.2 359.6,147.0 359.7,144.2 359.8,145.9 359.9,145.8 360.0,142.8 360.2,147.2 360.3,144.5 360.4,147.1 360.5,147.0 360.6,147.9 360.8,144.7 360.9,143.5 361.0,144.5 361.1,144.9 361.2,142.2 361.4,144.8 361.5,145.0 361.6,145.0 361.7,144.5 361.8,146.3 362.0,148.3 362.1,147.4 362.2,145.7 362.3,145.0 362.4,148.0 362.6,146.6 362.7,145.6 362.8,148.2 362.9,148.2 363.0,148.7 363.2,147.4 363.3,147.5 363.4,147.6 363.5,146.4 363.6,146.9 363.8,146.2 363.9,144.2 364.0,145.6 364.1,147.9 364.2,145.9 364.4,145.2 364.5,147.5 364.6,146.4 364.7,148.7 364.8,147.2 365.0,145.6 365.1,146.9 365.2,146.9 365.3,146.3 365.4,147.2 365.6,146.2 365.6,145.2 365.7,145.1 365.8,143.6 365.9,143.3 366.0,141.1 366.2,137.5 366.3,136.7 366.4,134.8 366.5,138.2 366.6,136.6 366.8,139.4 366.9,140.2 367.0,140.1 367.1,144.1 367.2,144.0 367.2,142.4 367.4,143.8 367.5,143.0 367.6,146.2 367.7,144.0 367.8,143.2 368.0,142.2 368.1,141.4 368.2,145.0 368.3,143.1 368.4,141.9 368.6,142.6 368.7,145.6 368.8,145.2 368.9,142.8 369.0,142.1 369.2,143.9 369.3,144.7 369.4,144.0 369.5,143.9 369.6,144.3 369.8,142.6 369.9,144.2 370.0,146.0 370.1,141.9 370.2,145.7 370.4,145.5 370.5,143.3 370.6,143.7 370.7,144.1 370.8,142.9 371.0,144.4 371.1,143.7 371.2,143.8 371.3,140.9 371.4,142.6 371.6,144.2 371.7,144.9 371.8,143.4 371.9,143.0 372.0,144.7 372.2,140.8 372.3,144.9 372.4,141.9 372.5,141.7 372.6,143.1 372.8,142.2 372.9,143.8 373.0,141.8 373.1,144.5 373.2,142.8 373.4,141.6 373.5,143.0 373.6,143.7 373.7,142.5 373.8,142.7 374.0,143.5 374.1,142.9 374.2,141.5 374.3,142.9 374.4,143.6 374.6,142.7 374.7,143.3 374.8,142.2 374.9,142.8 375.0,142.3 375.2,143.1 375.3,140.9 375.4,140.7 375.5,141.1 375.6,142.7 375.8,140.8 375.9,140.8 376.0,144.4 376.1,143.4 376.2,143.2 376.4,144.7 376.5,140.4 376.6,142.9 376.7,143.4 376.8,143.8 377.0,142.0 377.1,144.0 377.2,142.5 377.3,142.8 377.4,141.9 377.6,142.4 377.7,141.0 377.8,142.8 377.9,145.3 378.0,142.3 378.2,143.0 378.3,142.0 378.4,142.5 378.5,142.8 378.6,142.3 378.8,145.2 378.9,142.5 379.0,144.9 379.1,141.9 379.2,140.9 379.4,143.1 379.5,143.5 379.6,142.1 379.7,142.9 379.8,140.4 380.0,145.1 380.0,143.6 380.1,142.8 380.2,143.0 380.3,143.2 380.4,141.9 380.6,141.7 380.7,140.9 380.8,142.0 380.9,141.7 381.0,141.7 381.2,142.8 381.3,142.7 381.4,143.6 381.5,142.5 381.6,142.4 381.8,142.2 381.9,143.7 382.0,144.8 382.1,142.3 382.2,141.9 382.4,142.0 382.5,142.0 382.6,142.8 382.7,141.3 382.8,141.8 383.0,143.8 383.1,142.5 383.2,143.6 383.3,142.6 383.4,144.0 383.6,140.6 383.7,141.4 383.8,141.2 383.9,142.2 384.0,139.3 384.2,142.8 384.3,142.6 384.4,143.0 384.5,144.5 384.6,141.8 384.8,141.5 384.9,144.1 385.0,140.0 385.1,141.0 385.2,142.4 385.4,143.2 385.5,141.6 385.6,142.5 385.7,141.6 385.8,143.2 386.0,142.3 386.1,143.0 386.2,140.7 386.3,140.1 386.4,141.2 386.6,141.1 386.7,141.4 386.8,142.0 386.9,141.3 387.0,142.4 387.2,141.1 387.3,140.5 387.4,140.8 387.5,139.0 387.6,141.5 387.8,140.7 387.9,142.1 388.0,141.2 388.1,143.0 388.2,141.8 388.4,139.2 388.5,144.0 388.6,140.7 388.7,142.2 388.8,140.7 389.0,136.9 389.1,140.8 389.2,142.2 389.3,140.6 389.4,140.9 389.6,142.2 389.7,141.2 389.8,142.8 389.9,143.8 390.0,139.6 390.2,136.0 390.3,141.4 390.4,142.9 390.5,136.7 390.6,139.1 390.8,139.1 390.9,142.6 391.0,142.7 391.1,141.5 391.2,141.1 391.4,138.8 391.5,141.8 391.6,135.4 391.7,141.1 391.8,140.9 392.0,137.3 392.1,141.0 392.2,140.0 392.3,141.5 392.4,141.5 392.6,140.5 392.7,138.9 392.8,140.9 392.9,141.0 393.0,143.0 393.2,141.1 393.3,140.8 393.4,140.6 393.5,142.6 393.6,141.1 393.8,141.1 393.9,139.0 394.0,142.1 394.1,140.1 394.2,141.9 394.4,141.2 394.5,142.6 394.6,140.1 394.7,139.7 394.8,140.7 395.0,142.4 395.0,138.8 395.1,140.2 395.2,141.3 395.3,139.3 395.4,140.0 395.6,139.0 395.7,138.4 395.8,140.9 395.9,138.7 396.0,140.6 396.2,138.4 396.3,141.8 396.4,141.1 396.5,141.9 396.6,140.2 396.8,140.0 396.9,136.5 397.0,139.0 397.1,136.6 397.2,138.3 397.4,140.7 397.5,138.7 397.6,139.0 397.7,139.8 397.8,138.8 398.0,139.9 398.1,140.1 398.2,137.9 398.3,138.9 398.4,138.6 398.6,138.1 398.7,140.1 398.8,136.4 398.9,137.4 399.0,138.1 399.2,139.9 399.3,138.5 399.4,138.5 399.5,139.9 399.6,137.6 399.8,136.8 399.9,137.9 400.0,137.7 400.1,138.2 400.2,135.5 400.4,138.0 400.5,136.6 400.6,138.9 400.7,138.9 400.8,137.7 401.0,134.6 401.1,136.8 401.2,136.2 401.3,137.6 401.4,136.8 401.4,137.5 401.6,137.8 401.7,136.5 401.8,135.3 401.9,136.2 402.0,139.3 402.2,135.3 402.3,133.5 402.4,137.4 402.5,135.1 402.6,136.8 402.8,134.5 402.9,131.6 403.0,134.7 403.1,133.2 403.2,138.0 403.4,133.4 403.5,135.2 403.6,135.7 403.7,135.7 403.8,133.7 404.0,134.7 404.1,134.4 404.2,134.6 404.3,128.5 404.4,135.0 404.6,130.4 404.7,131.3 404.8,131.5 404.9,133.9 405.0,134.3 405.2,132.4 405.3,132.8 405.4,132.5 405.5,133.6 405.6,132.7 405.7,133.8 405.8,132.1 405.9,132.9 406.0,131.4 406.1,131.5 406.2,130.6 406.4,131.2 406.5,131.9 406.6,130.1 406.7,130.6 406.8,130.2 407.0,130.1 407.1,129.9 407.2,129.1 407.3,129.2 407.4,129.1 407.6,128.8 407.7,128.5 407.8,128.2 407.9,127.7 408.0,127.1 408.2,126.8 408.3,126.3 408.4,126.0 408.5,125.0 408.6,124.8 408.8,124.3 408.9,123.7 409.0,123.4 409.1,122.8 409.2,122.5 409.4,122.1 409.5,121.7 409.6,121.0 409.7,120.4 409.8,119.5 410.0,119.3 410.1,118.4 410.2,117.5 410.3,117.3 410.4,116.4 410.6,115.9 410.6,115.5 410.7,115.0 410.8,114.4 410.9,114.0 411.0,113.3 411.2,113.0 411.3,112.4 411.4,111.7 411.5,110.9 411.6,110.4 411.8,109.9 411.9,109.3 412.0,108.8 412.1,108.2 412.1,108.4 412.2,108.0 412.4,107.1 412.5,107.3 412.6,106.8 412.7,106.3 412.8,105.7 413.0,105.4 413.1,105.1 413.2,104.7 413.3,104.3 413.4,104.0 413.6,103.4 413.7,102.8 413.8,102.5 413.9,102.3 414.0,101.8 414.2,101.4 414.2,101.2 414.3,101.2 414.4,100.9 414.5,100.8 414.6,100.8 414.8,100.4 414.9,100.2 415.0,100.1 415.1,99.9 415.2,99.9 415.4,99.4 415.5,99.6 415.6,99.5 415.7,98.9 415.8,98.7 416.0,98.7 416.1,98.9 416.2,98.5 416.3,98.2 416.4,97.8 416.6,98.1 416.7,97.7 416.8,97.7 416.9,97.4 417.0,97.2 417.2,97.2 417.3,96.8 417.4,96.9 417.5,96.6 417.6,96.2 417.7,96.5 417.8,96.2 417.9,96.2 418.0,95.9 418.1,95.8 418.2,95.6 418.4,95.7 418.5,95.4 418.6,95.4 418.7,95.6 418.8,95.3 419.0,95.5 419.1,95.1 419.2,95.1 419.3,94.7 419.4,94.7 419.6,94.7 419.7,94.4 419.8,94.9 419.9,94.6 420.0,94.2 420.2,94.2 420.3,94.0 420.4,94.1 420.5,94.0 420.6,94.0 420.8,93.9 420.9,93.8 421.0,93.4 421.1,93.6 421.2,93.3 421.4,93.6 421.5,93.1 421.6,93.2 421.7,92.9 421.8,93.0 422.0,92.7 422.0,93.0 422.1,92.7 422.2,92.8 422.3,92.8 422.4,92.5 422.6,92.2 422.7,92.4 422.8,92.3 422.9,92.5 423.0,91.9 423.2,92.2 423.3,91.9 423.4,92.0 423.5,91.9 423.6,91.6 423.8,91.7 423.9,91.7 424.0,91.6 424.1,91.6 424.2,91.5 424.4,91.2 424.5,91.1 424.6,90.6 424.7,91.0 424.8,91.0 425.0,90.9 425.1,91.1 425.2,90.8 425.3,90.6 425.4,90.5 425.5,90.5 425.6,90.6 425.7,90.7 425.8,90.2 425.9,89.9 426.0,89.9 426.2,89.8 426.3,89.7 426.4,89.4 426.5,89.5 426.6,89.1 426.8,88.9 426.9,88.8 427.0,88.8 427.1,88.6 427.2,88.3 427.4,88.1 427.5,88.2 427.6,88.0 427.7,87.8 427.8,87.8 428.0,87.7 428.1,87.2 428.2,87.3 428.3,87.0 428.4,87.2 428.4,87.0 428.6,86.6 428.7,85.9 428.8,86.2 428.9,85.3 429.0,84.9 429.2,84.9 429.3,84.7 429.4,84.0 429.5,83.7 429.6,83.4 429.8,82.9 429.8,83.0 429.9,82.4 430.0,81.6 430.1,80.5 430.2,80.1 430.4,79.5 430.5,79.0 430.5,78.8 430.6,78.2 430.7,77.3 430.8,76.2 431.0,76.0 431.1,74.9 431.2,74.2 431.3,73.5 431.4,73.0 431.6,71.9 431.7,71.4 431.8,70.4 431.9,69.7 432.0,68.8 432.2,68.2 432.3,67.5 432.3,67.4 432.4,64.0 432.5,60.4 432.6,56.4 432.8,52.6 432.9,49.0 432.9,48.2 433.0,46.4 433.1,43.7 433.2,40.9 433.4,39.1 433.5,36.3 433.6,33.8 433.7,32.5 433.8,31.0 434.0,29.7 434.1,28.1 434.2,26.3 434.3,27.2 434.4,28.2 434.6,29.1 434.7,30.3 434.8,30.7 434.9,31.6 435.0,32.5 435.1,33.1 435.2,32.9 435.3,32.6 435.4,32.7 435.5,32.5 435.6,32.3 435.8,31.9 435.9,31.6 436.0,31.5 436.1,31.0 436.1,31.8 436.2,33.3 436.4,34.5 436.5,36.1 436.6,37.9 436.7,39.5 436.8,41.1 437.0,42.9 437.1,44.2 437.2,45.4 437.3,47.2 437.4,48.4 437.4,49.4 437.6,51.2 437.7,53.4 437.8,55.1 437.9,57.4 438.0,59.6 438.2,61.5 438.3,63.7 438.4,65.5 438.5,67.6 438.5,67.8 438.6,69.5 438.8,71.1 438.9,72.9 439.0,74.7 439.1,76.3 439.2,78.1 439.4,80.1 439.5,81.8 439.6,83.4 439.7,85.0 439.8,86.2 439.8,86.2 440.0,87.4 440.1,88.0 440.2,88.9 440.3,90.0 440.4,91.0 440.5,91.4 440.6,91.7 440.7,92.6 440.8,92.9 440.9,93.9 441.0,94.6 441.2,95.3 441.2,95.7 441.3,96.0 441.4,96.9 441.5,97.7 441.6,98.7 441.8,99.8 441.9,100.4 442.0,101.3 442.1,101.3"/>
<path stroke="#1470c4" d="M28.6,201.9 28.7,205.2 28.8,206.6 29.0,204.8 29.1,203.7 29.2,202.2 29.3,206.0 29.4,206.4 29.6,207.6 29.7,206.0 29.8,203.7 29.9,203.2 30.0,206.7 30.2,203.5 30.3,205.6 30.4,204.4 30.5,203.7 30.6,207.2 30.8,205.9 30.9,205.1 31.0,202.4 31.1,206.0 31.2,207.7 31.4,205.3 31.5,203.8 31.6,203.2 31.7,204.3 31.8,203.9 32.0,201.2 32.1,199.6 32.2,202.6 32.3,205.7 32.4,202.2 32.6,206.9 32.7,202.4 32.8,207.5 32.9,204.3 33.0,204.3 33.2,204.3 33.3,206.9 33.4,205.9 33.5,204.4 33.6,206.0 33.8,204.0 33.9,205.0 34.0,199.8 34.1,200.9 34.2,201.0 34.4,206.5 34.5,205.0 34.6,203.9 34.7,203.7 34.8,203.7 35.0,203.7 35.1,205.6 35.2,206.2 35.3,207.0 35.4,204.0 35.6,205.1 35.7,206.3 35.8,204.4 35.9,203.8 36.0,204.9 36.2,206.9 36.3,201.7 36.4,201.7 36.5,202.5 36.6,206.1 36.8,203.2 36.9,203.9 37.0,204.5 37.1,204.7 37.2,206.0 37.4,200.9 37.5,205.3 37.6,203.0 37.7,203.1 37.8,207.7 38.0,204.1 38.1,204.1 38.2,203.7 38.3,205.7 38.4,204.4 38.6,203.8 38.7,203.7 38.8,201.7 38.9,204.5 39.0,205.2 39.2,206.1 39.3,207.4 39.4,198.8 39.5,207.8 39.6,205.5 39.8,206.8 39.9,201.8 40.0,204.8 40.1,201.9 40.2,202.5 40.4,207.1 40.5,201.9 40.6,205.0 40.7,202.9 40.8,207.3 41.0,204.4 41.1,204.7 41.2,203.1 41.3,204.5 41.4,205.8 41.6,204.9 41.7,205.5 41.8,207.3 41.9,203.8 42.0,206.2 42.2,203.8 42.3,206.3 42.4,202.6 42.5,203.7 42.6,203.8 42.8,203.4 42.9,206.2 43.0,205.3 43.1,206.3 43.2,207.8 43.4,206.1 43.5,202.9 43.6,207.3 43.7,207.3 43.8,202.1 44.0,203.1 44.1,205.1 44.2,204.5 44.3,203.3 44.4,203.4 44.6,207.8 44.7,203.9 44.8,202.7 44.9,202.9 45.0,202.0 45.2,202.2 45.3,205.5 45.4,201.8 45.5,204.6 45.6,201.1 45.8,205.1 45.9,204.1 46.0,203.0 46.1,205.0 46.2,201.2 46.4,205.6 46.5,201.8 46.6,207.2 46.7,206.9 46.8,207.8 47.0,200.5 47.1,206.9 47.2,203.9 47.3,202.8 47.4,206.1 47.6,207.2 47.7,206.3 47.8,205.4 47.9,201.0 48.0,207.3 48.2,200.1 48.3,201.8 48.4,205.3 48.5,203.9 48.6,206.6 48.8,203.7 48.9,205.1 49.0,204.0 49.1,206.0 49.2,206.7 49.4,206.7 49.5,204.9 49.6,207.0 49.7,204.1 49.8,204.1 50.0,203.3 50.1,204.1 50.2,206.7 50.3,204.9 50.4,205.9 50.6,206.7 50.7,203.8 50.8,206.3 50.9,203.6 51.0,207.5 51.2,204.5 51.3,204.4 51.4,205.0 51.5,207.9 51.6,206.0 51.8,206.8 51.9,205.1 52.0,206.3 52.1,203.1 52.2,203.8 52.4,206.8 52.5,204.2 52.6,204.3 52.7,201.8 52.8,204.7 53.0,202.7 53.1,204.6 53.2,198.2 53.3,205.5 53.4,203.1 53.6,207.2 53.7,207.9 53.8,204.9 53.9,207.0 54.0,206.2 54.2,206.1 54.3,205.9 54.4,203.4 54.5,206.0 54.6,204.6 54.8,207.9 54.9,202.6 55.0,206.6 55.1,207.9 55.2,205.4 55.4,203.6 55.5,207.1 55.6,206.7 55.7,206.5 55.8,198.5 56.0,203.8 56.1,206.6 56.2,202.6 56.3,204.7 56.4,202.7 56.6,204.3 56.7,205.4 56.8,204.8 56.9,201.1 57.0,201.1 57.2,206.0 57.3,202.0 57.4,203.3 57.5,201.5 57.6,204.9 57.8,205.8 57.9,206.1 58.0,204.9 58.1,207.4 58.2,204.6 58.4,208.0 58.5,201.2 58.6,204.2 58.7,203.7 58.8,205.1 59.0,201.4 59.1,205.1 59.2,198.5 59.3,204.5 59.4,205.7 59.6,203.9 59.7,207.3 59.8,208.0 59.9,204.7 60.0,203.3 60.2,208.0 60.3,207.7 60.4,203.9 60.5,208.0 60.6,208.0 60.8,201.8 60.9,206.6 61.0,205.5 61.1,203.0 61.2,208.0 61.4,206.7 61.5,203.8 61.6,205.3 61.7,207.0 61.8,206.3 62.0,202.2 62.1,204.8 62.2,203.6 62.3,201.2 62.4,204.1 62.6,204.5 62.7,205.9 62.8,206.2 62.9,203.9 63.0,203.9 63.2,203.0 63.3,204.9 63.4,208.0 63.5,204.1 63.6,206.6 63.8,207.0 63.9,204.1 64.0,204.5 64.1,201.2 64.2,205.5 64.4,207.6 64.5,204.1 64.6,208.1 64.7,208.1 64.8,206.1 65.0,206.4 65.1,206.1 65.2,204.0 65.3,204.5 65.4,208.1 65.6,204.6 65.7,205.4 65.8,205.8 65.9,207.1 66.0,203.4 66.2,206.8 66.3,204.8 66.4,206.4 66.5,206.5 66.6,203.1 66.8,204.2 66.9,204.3 67.0,206.2 67.1,204.9 67.2,206.3 67.4,204.2 67.5,204.5 67.6,204.2 67.7,206.7 67.8,203.7 68.0,208.1 68.1,203.8 68.2,204.7 68.3,208.1 68.4,202.1 68.6,199.4 68.7,207.9 68.8,204.0 68.9,202.8 69.0,207.1 69.2,208.1 69.3,207.4 69.4,204.0 69.5,202.2 69.6,204.3 69.8,208.1 69.9,204.4 70.0,207.0 70.1,205.7 70.2,206.1 70.4,197.2 70.5,201.3 70.6,204.6 70.7,206.9 70.8,205.1 71.0,205.9 71.1,204.1 71.2,201.3 71.3,205.4 71.4,206.2 71.6,205.0 71.7,204.2 71.8,206.4 71.9,205.9 72.0,205.9 72.2,205.7 72.3,204.2 72.4,205.4 72.5,204.1 72.6,205.8 72.8,205.8 72.9,205.7 73.0,204.9 73.1,201.9 73.2,206.3 73.4,207.0 73.5,205.6 73.6,204.8 73.7,205.9 73.8,205.2 74.0,205.7 74.1,202.7 74.2,206.8 74.3,203.2 74.4,203.5 74.6,203.4 74.7,203.8 74.8,208.0 74.9,202.2 75.0,204.8 75.2,206.4 75.3,207.8 75.4,206.8 75.5,203.9 75.6,203.5 75.8,206.4 75.9,202.1 76.0,208.2 76.1,203.1 76.2,202.7 76.4,208.2 76.5,204.2 76.6,203.3 76.7,204.5 76.8,199.2 77.0,202.8 77.1,206.9 77.2,203.5 77.3,206.7 77.4,208.3 77.6,206.7 77.7,202.6 77.8,205.9 77.9,203.5 78.0,206.2 78.2,205.0 78.3,204.9 78.4,207.8 78.5,205.5 78.6,208.3 78.8,202.1 78.9,206.3 79.0,203.6 79.1,203.6 79.2,202.4 79.4,206.7 79.5,202.6 79.6,207.8 79.7,206.7 79.8,205.8 80.0,208.3 80.1,204.7 80.2,202.7 80.3,205.3 80.4,208.3 80.6,204.7 80.7,199.8 80.8,206.4 80.9,202.9 81.0,206.3 81.2,208.0 81.3,207.3 81.4,202.7 81.5,202.8 81.6,206.2 81.8,203.7 81.9,206.3 82.0,205.3 82.1,206.5 82.2,203.8 82.4,202.5 82.5,207.0 82.6,205.1 82.7,206.4 82.8,204.4 83.0,208.3 83.1,204.9 83.2,204.1 83.3,205.7 83.4,202.9 83.6,207.4 83.7,207.1 83.8,202.5 83.9,205.8 84.0,201.9 84.2,207.5 84.3,203.8 84.4,202.0 84.5,205.3 84.6,207.1 84.8,206.2 84.9,206.2 85.0,206.5 85.1,208.4 85.2,208.0 85.4,205.6 85.5,204.8 85.6,204.8 85.7,203.2 85.8,207.8 86.0,205.4 86.1,203.8 86.2,202.7 86.3,206.9 86.4,204.5 86.6,207.4 86.7,203.4 86.8,203.7 86.9,206.8 87.0,207.9 87.2,204.5 87.3,205.4 87.4,204.9 87.5,206.1 87.5,205.1 87.6,205.1 87.8,205.4 87.9,202.1 88.0,202.9 88.1,201.9 88.2,199.3 88.4,200.8 88.5,199.6 88.6,198.1 88.7,197.5 88.8,196.8 89.0,195.9 89.0,195.5 89.1,194.8 89.2,194.6 89.3,192.8 89.4,192.3 89.6,191.4 89.7,190.7 89.8,190.1 89.9,187.9 90.0,187.6 90.2,185.8 90.2,186.6 90.3,186.3 90.4,185.2 90.5,185.0 90.6,184.7 90.8,184.1 90.8,184.5 90.9,183.8 91.0,185.4 91.1,184.7 91.2,184.2 91.4,184.6 91.5,186.4 91.5,186.7 91.6,186.8 91.7,190.1 91.8,190.6 92.0,192.1 92.1,192.6 92.2,194.6 92.3,195.1 92.4,197.2 92.5,197.1 92.6,199.1 92.7,199.5 92.8,199.6 92.9,200.9 93.0,199.6 93.2,202.6 93.3,203.0 93.4,203.8 93.5,204.7 93.6,204.6 93.8,207.1 93.8,204.8 93.9,205.3 94.0,205.1 94.1,205.9 94.2,204.1 94.4,203.7 94.5,204.9 94.6,205.6 94.7,202.3 94.8,206.0 95.0,205.4 95.1,203.7 95.2,205.8 95.3,205.8 95.4,203.7 95.6,208.8 95.7,205.2 95.8,208.8 95.9,205.8 96.0,206.8 96.2,205.1 96.3,207.2 96.4,206.5 96.5,205.4 96.6,206.2 96.8,205.3 96.9,207.7 97.0,205.8 97.1,208.9 97.2,207.6 97.4,202.4 97.5,207.1 97.6,202.5 97.7,204.8 97.8,206.6 98.0,206.5 98.1,205.0 98.2,208.6 98.3,205.9 98.4,207.9 98.6,208.9 98.7,207.1 98.8,202.9 98.9,204.9 99.0,205.6 99.2,205.0 99.3,206.3 99.4,207.4 99.5,206.1 99.6,205.5 99.8,203.7 99.9,206.1 100.0,202.6 100.1,206.2 100.2,207.5 100.4,205.8 100.5,207.2 100.6,205.4 100.7,201.8 100.8,207.6 101.0,202.1 101.1,206.1 101.2,205.3 101.3,206.5 101.4,206.6 101.6,207.1 101.6,205.5 101.7,205.5 101.8,202.7 101.9,199.5 102.0,197.5 102.1,197.8 102.2,196.4 102.3,194.9 102.4,193.6 102.5,192.8 102.5,193.7 102.6,195.2 102.8,196.7 102.9,198.2 103.0,199.3 103.1,200.6 103.2,200.7 103.4,202.7 103.5,202.8 103.6,205.8 103.7,204.6 103.8,207.2 103.8,205.0 104.0,206.7 104.1,202.9 104.2,203.3 104.3,204.0 104.4,205.5 104.6,207.0 104.7,204.7 104.8,205.4 104.9,205.1 105.0,206.5 105.2,209.1 105.3,204.4 105.4,206.3 105.5,204.4 105.6,203.8 105.8,206.1 105.9,209.1 106.0,203.7 106.1,208.4 106.2,206.7 106.4,204.8 106.5,204.1 106.6,206.7 106.7,208.0 106.8,209.1 107.0,206.9 107.1,206.3 107.2,206.6 107.3,204.2 107.4,209.1 107.6,206.0 107.7,203.1 107.8,207.4 107.9,204.1 108.0,209.1 108.2,205.6 108.3,204.0 108.4,204.8 108.5,209.1 108.6,209.0 108.8,207.5 108.9,207.5 109.0,205.4 109.1,207.5 109.2,207.3 109.4,206.2 109.5,205.1 109.6,203.1 109.7,205.7 109.8,209.2 110.0,207.0 110.1,206.8 110.2,208.9 110.3,203.3 110.4,209.1 110.6,206.6 110.7,206.4 110.8,208.5 110.9,205.1 111.0,205.3 111.2,205.9 111.3,206.1 111.4,209.2 111.5,205.9 111.6,208.2 111.8,209.1 111.9,206.1 112.0,209.2 112.1,204.3 112.2,206.9 112.4,206.5 112.5,205.3 112.6,203.3 112.7,206.7 112.8,202.3 113.0,203.9 113.1,209.2 113.2,205.8 113.3,205.2 113.4,208.9 113.6,206.1 113.7,205.8 113.8,204.2 113.9,202.8 114.0,204.6 114.2,208.0 114.3,208.5 114.4,207.4 114.5,206.8 114.6,207.9 114.8,202.3 114.9,203.7 115.0,207.5 115.1,205.8 115.2,208.3 115.4,208.2 115.5,204.1 115.6,206.9 115.7,202.3 115.8,204.3 116.0,207.8 116.1,204.0 116.2,207.4 116.3,205.0 116.4,206.9 116.6,207.7 116.7,206.6 116.8,209.2 116.9,208.0 117.0,207.9 117.2,206.6 117.3,207.4 117.4,207.0 117.5,207.1 117.6,206.6 117.8,204.2 117.9,202.4 118.0,206.4 118.1,207.0 118.2,207.5 118.4,204.9 118.5,206.5 118.6,204.4 118.7,206.9 118.8,208.3 119.0,206.3 119.1,202.5 119.2,205.7 119.3,202.4 119.4,207.2 119.6,208.7 119.7,206.3 119.8,205.0 119.9,206.8 120.0,204.9 120.2,205.7 120.3,204.9 120.4,207.1 120.5,208.6 120.6,209.2 120.8,204.6 120.9,206.8 121.0,206.1 121.1,206.6 121.2,205.7 121.4,204.8 121.5,204.8 121.6,204.7 121.7,206.4 121.8,208.6 122.0,207.9 122.1,205.9 122.2,206.9 122.3,202.7 122.4,207.8 122.6,208.8 122.7,206.8 122.8,209.1 122.9,208.3 123.0,206.7 123.2,205.5 123.3,206.4 123.4,208.2 123.5,206.9 123.6,202.4 123.8,207.3 123.9,204.6 124.0,206.5 124.1,209.1 124.2,206.3 124.4,202.4 124.5,205.1 124.6,206.3 124.7,207.5 124.8,206.9 125.0,203.2 125.1,203.8 125.2,208.5 125.3,205.7 125.4,205.4 125.6,204.5 125.7,207.5 125.8,207.1 125.9,206.3 126.0,207.1 126.2,202.4 126.3,206.2 126.4,207.7 126.5,209.2 126.6,208.4 126.8,205.6 126.9,208.2 127.0,204.6 127.1,206.1 127.2,206.6 127.4,204.2 127.5,209.2 127.6,205.9 127.7,202.4 127.8,207.3 128.0,205.9 128.1,204.8 128.2,209.2 128.3,205.4 128.4,202.4 128.6,205.6 128.7,206.8 128.8,205.6 128.9,207.8 129.0,207.0 129.2,207.6 129.3,206.0 129.4,209.2 129.5,208.1 129.6,209.2 129.8,202.9 129.9,203.8 130.0,208.1 130.1,204.0 130.2,206.9 130.4,205.4 130.5,204.2 130.6,205.7 130.7,209.3 130.8,203.6 131.0,207.2 131.1,206.2 131.2,205.2 131.3,204.5 131.4,207.6 131.6,205.2 131.7,204.5 131.8,207.3 131.9,208.8 132.0,201.5 132.2,206.4 132.3,204.3 132.4,207.0 132.5,206.5 132.6,203.7 132.8,202.4 132.9,208.7 133.0,208.4 133.1,204.6 133.2,205.8 133.4,206.0 133.5,204.1 133.6,205.2 133.7,207.4 133.8,206.3 134.0,206.2 134.1,202.8 134.2,206.3 134.3,204.3 134.4,207.2 134.6,209.3 134.7,204.8 134.8,205.3 134.9,205.2 135.0,208.0 135.2,205.6 135.3,206.6 135.4,206.9 135.5,206.5 135.6,209.2 135.8,208.4 135.9,209.3 136.0,206.7 136.1,205.0 136.2,203.1 136.4,206.9 136.5,202.5 136.6,206.3 136.7,205.7 136.8,206.0 137.0,207.0 137.1,207.7 137.2,207.8 137.3,206.8 137.4,208.2 137.6,204.7 137.7,203.8 137.8,204.6 137.9,207.8 138.0,207.1 138.2,206.8 138.3,205.8 138.4,205.0 138.5,206.8 138.6,206.8 138.8,202.7 138.9,203.1 139.0,203.5 139.1,206.4 139.2,205.9 139.4,207.9 139.5,207.5 139.6,206.3 139.7,207.8 139.8,206.5 140.0,205.3 140.1,206.4 140.2,208.7 140.3,207.6 140.4,205.1 140.6,206.0 140.7,207.9 140.8,204.1 140.9,205.9 141.0,205.5 141.2,207.4 141.3,201.5 141.4,207.9 141.5,205.5 141.6,203.3 141.8,207.3 141.9,208.9 142.0,208.4 142.1,202.8 142.2,203.5 142.4,204.0 142.5,206.8 142.6,207.5 142.7,208.9 142.8,206.1 143.0,205.2 143.1,208.8 143.2,204.7 143.3,205.3 143.4,207.9 143.6,207.5 143.7,207.4 143.8,209.3 143.9,208.5 144.0,204.9 144.2,206.0 144.3,208.0 144.4,206.2 144.5,205.7 144.6,205.7 144.8,206.3 144.9,207.3 145.0,205.3 145.1,204.5 145.2,209.3 145.4,204.0 145.5,204.6 145.6,207.1 145.7,209.2 145.8,203.8 146.0,204.6 146.1,206.6 146.2,204.9 146.3,205.5 146.4,207.8 146.6,205.5 146.7,207.7 146.8,206.9 146.9,208.3 147.0,207.6 147.2,206.9 147.3,204.7 147.4,204.7 147.5,208.8 147.6,202.1 147.8,203.9 147.9,204.2 148.0,206.6 148.1,205.2 148.2,204.6 148.4,203.4 148.5,207.5 148.6,207.4 148.7,208.3 148.8,207.9 149.0,207.3 149.1,204.5 149.2,203.2 149.3,204.1 149.4,205.4 149.6,206.7 149.7,209.3 149.8,206.4 149.9,209.1 150.0,208.5 150.2,203.4 150.3,207.4 150.4,206.3 150.5,207.5 150.6,205.4 150.8,205.5 150.9,204.6 151.0,207.0 151.1,205.2 151.2,206.8 151.4,208.1 151.5,208.6 151.6,204.8 151.7,209.4 151.8,205.8 152.0,207.6 152.1,205.3 152.2,205.9 152.3,207.5 152.4,203.3 152.6,204.6 152.7,204.1 152.8,204.9 152.9,209.4 153.0,204.6 153.2,208.4 153.3,205.3 153.4,205.5 153.5,206.2 153.6,205.6 153.8,206.5 153.9,206.9 154.0,208.0 154.1,207.2 154.2,208.3 154.4,206.7 154.5,209.4 154.6,204.4 154.7,204.3 154.8,209.4 155.0,206.9 155.1,204.6 155.2,208.4 155.3,209.4 155.4,205.5 155.6,201.0 155.7,204.4 155.8,209.4 155.9,206.3 156.0,204.8 156.2,206.5 156.3,207.6 156.4,209.4 156.5,205.8 156.6,208.1 156.8,205.7 156.9,207.9 157.0,205.5 157.1,206.3 157.2,202.5 157.4,207.1 157.5,205.2 157.6,207.2 157.7,206.8 157.8,203.9 158.0,207.7 158.1,207.4 158.2,209.4 158.3,206.2 158.4,206.5 158.6,207.0 158.7,206.3 158.8,203.4 158.9,208.4 159.0,208.9 159.2,203.4 159.3,208.3 159.4,205.4 159.5,208.2 159.6,208.8 159.8,207.5 159.9,208.1 160.0,205.1 160.1,206.6 160.2,205.3 160.4,207.2 160.5,203.0 160.6,198.9 160.7,208.0 160.8,206.3 161.0,208.8 161.1,206.1 161.2,208.7 161.3,207.3 161.4,206.0 161.6,207.7 161.7,202.5 161.8,205.4 161.9,204.3 162.0,202.5 162.2,203.0 162.3,205.8 162.4,208.8 162.5,205.7 162.6,207.0 162.8,205.4 162.9,206.7 163.0,207.4 163.1,205.6 163.2,202.5 163.4,204.9 163.5,200.0 163.6,209.2 163.7,209.4 163.8,205.0 164.0,205.0 164.1,206.9 164.2,205.4 164.3,206.2 164.4,207.4 164.6,203.9 164.7,207.7 164.8,208.4 164.9,203.6 165.0,205.8 165.2,208.1 165.3,205.1 165.4,206.0 165.5,209.4 165.6,205.5 165.8,205.5 165.9,203.1 166.0,208.9 166.1,204.7 166.2,204.5 166.4,209.4 166.5,203.4 166.6,204.6 166.7,205.3 166.8,202.6 167.0,207.0 167.1,208.8 167.2,205.6 167.3,205.0 167.4,205.2 167.6,207.7 167.7,206.1 167.8,205.6 167.9,203.0 168.0,207.5 168.2,206.0 168.3,203.8 168.4,202.6 168.5,203.5 168.6,206.4 168.8,201.6 168.9,205.3 169.0,205.4 169.1,206.0 169.2,206.3 169.4,204.9 169.5,207.1 169.6,207.9 169.7,206.0 169.8,205.2 170.0,204.9 170.1,205.9 170.2,205.0 170.3,205.2 170.4,206.4 170.6,204.1 170.7,204.0 170.8,204.4 170.9,205.7 171.0,209.4 171.2,207.3 171.3,203.3 171.4,206.6 171.5,205.6 171.6,206.8 171.8,204.7 171.9,204.7 172.0,205.2 172.1,202.6 172.2,202.6 172.4,200.1 172.5,208.7 172.6,202.6 172.7,206.2 172.8,208.8 173.0,209.5 173.1,202.6 173.2,209.5 173.3,208.7 173.4,209.5 173.6,205.2 173.7,205.6 173.8,204.2 173.9,205.2 174.0,208.9 174.2,205.9 174.3,207.2 174.4,205.3 174.5,205.2 174.6,209.5 174.8,209.1 174.9,208.5 175.0,206.8 175.1,205.4 175.2,204.1 175.4,204.7 175.5,202.8 175.6,207.6 175.7,208.4 175.8,208.2 176.0,206.6 176.1,204.7 176.2,202.6 176.3,208.1 176.4,206.7 176.6,205.5 176.7,207.8 176.8,209.5 176.9,206.7 177.0,204.9 177.2,201.0 177.3,206.2 177.4,203.6 177.5,206.7 177.6,203.8 177.8,207.6 177.9,205.8 178.0,205.1 178.1,204.8 178.2,205.1 178.4,203.3 178.5,208.2 178.6,205.3 178.7,204.0 178.8,207.8 179.0,207.6 179.1,206.6 179.2,209.4 179.3,206.5 179.4,207.9 179.6,209.3 179.7,203.4 179.8,200.0 179.9,209.5 180.0,204.6 180.2,206.9 180.3,204.4 180.4,208.4 180.5,203.0 180.6,204.8 180.8,207.5 180.9,207.8 181.0,206.2 181.1,206.0 181.2,206.4 181.4,207.7 181.5,204.5 181.6,207.5 181.7,203.3 181.8,208.3 182.0,209.2 182.1,205.6 182.2,203.2 182.3,208.7 182.4,206.7 182.6,204.8 182.7,206.1 182.8,205.7 182.9,208.8 183.0,208.3 183.2,205.8 183.3,198.6 183.4,208.3 183.5,207.0 183.6,206.1 183.8,207.0 183.9,205.2 184.0,203.7 184.1,207.4 184.2,209.0 184.4,206.1 184.5,209.2 184.6,208.1 184.7,202.8 184.8,209.5 185.0,203.2 185.1,206.7 185.2,209.5 185.3,208.0 185.4,204.8 185.6,209.5 185.7,208.1 185.8,203.3 185.9,204.8 186.0,204.7 186.2,205.5 186.3,205.7 186.4,208.6 186.5,203.7 186.6,204.8 186.8,208.0 186.9,207.1 187.0,209.5 187.1,208.5 187.2,204.4 187.4,203.4 187.5,207.1 187.6,204.9 187.7,207.5 187.8,203.1 188.0,209.5 188.1,206.5 188.2,207.1 188.3,208.4 188.4,205.5 188.6,205.5 188.7,205.4 188.8,205.0 188.9,206.4 189.0,207.4 189.2,205.5 189.3,205.6 189.4,203.8 189.5,209.5 189.6,206.6 189.8,209.5 189.9,209.5 190.0,208.2 190.1,205.7 190.2,202.7 190.4,205.9 190.5,206.6 190.6,206.1 190.7,203.7 190.8,207.7 191.0,208.3 191.1,206.3 191.2,202.7 191.3,209.1 191.4,206.1 191.6,204.9 191.7,205.3 191.8,206.2 191.9,206.9 192.0,207.2 192.2,205.8 192.3,207.2 192.4,207.7 192.5,207.0 192.6,207.6 192.8,207.9 192.9,206.8 193.0,209.5 193.1,208.1 193.2,206.0 193.4,207.0 193.5,205.6 193.6,206.3 193.7,208.9 193.8,205.7 194.0,207.0 194.1,209.6 194.2,205.0 194.3,207.4 194.4,208.0 194.6,207.5 194.7,208.6 194.8,202.7 194.9,208.4 195.0,207.8 195.2,202.7 195.3,207.1 195.4,205.1 195.5,205.1 195.6,208.0 195.8,202.7 195.9,205.1 196.0,202.7 196.1,204.3 196.2,209.0 196.4,204.4 196.5,205.9 196.6,204.5 196.7,207.0 196.8,202.6 197.0,209.6 197.1,206.9 197.2,206.3 197.3,206.3 197.4,204.7 197.6,206.0 197.7,205.4 197.8,206.5 197.9,202.7 198.0,208.2 198.2,208.5 198.3,202.7 198.4,209.6 198.5,205.1 198.6,204.0 198.8,209.6 198.9,206.4 199.0,207.1 199.1,205.2 199.2,204.3 199.4,207.9 199.5,207.4 199.6,203.4 199.7,208.9 199.8,204.9 200.0,209.6 200.1,207.4 200.2,209.3 200.3,205.7 200.4,205.3 200.6,209.6 200.7,202.3 200.8,207.5 200.9,207.6 201.0,202.8 201.2,202.5 201.3,208.2 201.4,205.8 201.5,207.2 201.6,204.6 201.8,205.4 201.9,207.9 202.0,206.5 202.1,207.4 202.2,204.7 202.4,202.9 202.5,208.4 202.6,206.4 202.7,209.5 202.8,209.6 203.0,206.3 203.1,206.5 203.2,209.0 203.3,207.9 203.4,206.4 203.6,204.7 203.7,206.7 203.8,205.5 203.9,203.1 204.0,205.6 204.2,206.9 204.3,206.4 204.4,204.2 204.5,207.3 204.6,204.1 204.8,209.6 204.9,206.6 205.0,207.0 205.1,209.6 205.2,206.4 205.4,204.7 205.5,208.8 205.6,208.2 205.7,203.7 205.8,206.9 206.0,207.3 206.1,206.2 206.2,209.6 206.3,207.9 206.4,209.6 206.6,208.1 206.7,206.5 206.8,207.9 206.9,206.7 207.0,206.6 207.2,208.0 207.3,208.1 207.4,207.4 207.5,204.4 207.6,206.7 207.8,208.0 207.9,205.8 208.0,204.7 208.1,209.6 208.2,207.6 208.4,206.8 208.5,205.1 208.6,202.7 208.7,207.5 208.8,207.2 209.0,206.7 209.1,207.4 209.2,209.6 209.3,205.4 209.4,205.2 209.6,207.4 209.7,209.6 209.8,204.8 209.9,207.0 210.0,209.6 210.2,205.7 210.3,206.7 210.4,207.3 210.5,205.6 210.6,202.7 210.8,207.8 210.9,208.0 211.0,205.8 211.1,206.8 211.2,208.7 211.4,203.7 211.5,208.2 211.6,209.6 211.7,207.6 211.8,205.7 212.0,203.3 212.1,207.1 212.2,208.9 212.3,206.8 212.4,204.1 212.6,202.5 212.7,204.5 212.8,209.5 212.9,208.3 213.0,204.1 213.2,204.8 213.3,205.4 213.4,205.1 213.5,204.8 213.6,206.3 213.8,204.1 213.9,206.7 214.0,205.8 214.1,203.7 214.2,208.5 214.4,208.5 214.5,207.0 214.6,206.6 214.7,209.0 214.8,205.9 215.0,206.5 215.1,207.2 215.2,207.7 215.3,209.6 215.4,205.4 215.6,202.8 215.7,208.5 215.8,207.0 215.9,208.1 216.0,204.2 216.0,205.2 216.2,204.0 216.3,204.7 216.4,203.6 216.5,204.3 216.6,199.2 216.8,200.8 216.9,201.6 217.0,201.3 217.1,200.9 217.1,196.8 217.2,201.0 217.4,202.5 217.5,205.3 217.6,199.3 217.7,203.5 217.8,204.4 218.0,201.7 218.1,206.0 218.2,207.0 218.3,208.0 218.4,198.4 218.6,205.4 218.7,201.6 218.8,207.0 218.9,206.1 219.0,205.4 219.2,205.3 219.3,208.2 219.4,208.9 219.5,208.3 219.6,204.9 219.8,205.7 219.9,207.6 220.0,206.3 220.1,206.4 220.2,209.6 220.4,208.7 220.5,209.7 220.6,208.6 220.7,202.8 220.8,206.0 221.0,209.3 221.1,206.1 221.2,204.5 221.3,207.9 221.4,204.4 221.6,207.8 221.7,206.3 221.8,204.6 221.9,205.8 222.0,209.7 222.2,205.8 222.3,204.5 222.4,202.2 222.5,208.9 222.6,208.0 222.8,202.2 222.9,207.3 223.0,205.6 223.1,200.6 223.2,207.9 223.4,206.5 223.5,208.0 223.6,204.9 223.7,205.4 223.8,209.0 224.0,207.1 224.1,206.4 224.2,207.2 224.3,202.8 224.4,209.7 224.6,204.4 224.7,203.9 224.8,202.8 224.9,205.5 225.0,204.3 225.2,206.8 225.3,202.8 225.4,203.3 225.5,203.4 225.6,207.0 225.8,208.7 225.9,206.9 226.0,209.1 226.1,206.1 226.2,205.7 226.4,209.4 226.5,204.9 226.6,204.7 226.7,207.3 226.8,206.6 227.0,205.8 227.1,203.7 227.2,207.4 227.3,204.7 227.4,209.7 227.6,206.2 227.7,207.6 227.8,207.3 227.9,206.4 228.0,202.6 228.2,206.0 228.3,205.7 228.4,199.7 228.5,207.8 228.6,204.1 228.8,202.8 228.9,206.1 229.0,209.7 229.1,207.4 229.2,204.5 229.4,205.3 229.5,204.8 229.6,206.6 229.7,205.9 229.8,208.5 230.0,205.2 230.1,208.9 230.2,207.4 230.3,209.2 230.4,204.0 230.6,205.7 230.7,209.6 230.8,204.4 230.9,203.5 231.0,206.0 231.2,206.6 231.3,209.6 231.4,207.6 231.5,205.1 231.6,205.1 231.8,208.9 231.9,205.3 232.0,204.7 232.1,205.7 232.2,202.8 232.4,206.4 232.5,207.7 232.6,201.1 232.7,205.8 232.8,209.7 233.0,205.9 233.1,204.5 233.2,205.0 233.3,207.3 233.4,209.6 233.6,207.6 233.7,209.7 233.8,204.9 233.9,205.5 234.0,206.6 234.2,207.1 234.3,209.7 234.4,207.8 234.5,208.4 234.6,204.6 234.8,206.1 234.9,203.7 235.0,208.8 235.1,208.2 235.2,208.0 235.4,202.8 235.5,205.4 235.6,206.9 235.7,209.7 235.8,205.3 236.0,203.7 236.1,205.0 236.2,209.6 236.3,205.9 236.4,207.0 236.6,207.3 236.7,204.4 236.8,200.7 236.9,207.1 237.0,202.8 237.2,207.5 237.3,205.7 237.4,206.3 237.5,208.1 237.6,204.7 237.8,206.4 237.9,205.5 238.0,207.9 238.1,205.0 238.2,206.7 238.4,207.3 238.5,207.9 238.6,209.3 238.7,204.8 238.8,206.5 239.0,209.2 239.1,207.4 239.2,205.9 239.3,206.8 239.4,204.4 239.6,207.5 239.7,208.2 239.8,209.7 239.9,206.8 240.0,206.0 240.2,205.6 240.3,206.5 240.4,206.4 240.5,206.7 240.6,207.3 240.8,207.4 240.9,207.4 241.0,209.5 241.1,206.9 241.2,202.8 241.4,204.6 241.5,203.7 241.6,206.4 241.7,208.9 241.8,208.7 242.0,206.6 242.1,209.7 242.2,205.4 242.3,206.2 242.4,203.2 242.6,205.9 242.7,207.6 242.8,206.7 242.9,204.0 243.0,206.9 243.2,204.8 243.3,203.8 243.4,209.7 243.5,207.3 243.6,204.1 243.8,203.9 243.9,205.4 244.0,208.3 244.1,207.5 244.2,206.7 244.4,201.6 244.5,203.2 244.6,207.2 244.7,208.7 244.8,209.7 245.0,207.3 245.1,205.5 245.2,208.3 245.3,207.0 245.4,209.7 245.6,208.9 245.7,204.4 245.8,208.0 245.9,206.0 246.0,207.9 246.2,209.4 246.3,209.7 246.4,202.8 246.5,206.3 246.6,204.5 246.8,207.0 246.9,203.0 247.0,202.2 247.1,206.9 247.2,202.8 247.4,206.0 247.5,204.5 247.6,209.7 247.7,209.7 247.8,206.7 248.0,206.5 248.1,207.1 248.2,209.7 248.3,207.0 248.4,206.9 248.6,205.2 248.7,207.2 248.8,206.3 248.9,207.1 249.0,207.9 249.2,208.0 249.3,205.4 249.4,203.4 249.5,205.2 249.6,207.2 249.8,204.7 249.9,204.8 250.0,206.3 250.1,204.6 250.2,209.7 250.4,202.0 250.5,208.4 250.6,206.3 250.7,205.5 250.8,198.6 251.0,208.7 251.1,205.8 251.2,206.5 251.3,209.7 251.4,209.5 251.6,204.0 251.7,208.4 251.8,206.4 251.9,207.0 252.0,209.7 252.2,207.2 252.3,207.7 252.4,206.1 252.5,204.8 252.6,206.9 252.8,206.9 252.9,203.3 253.0,206.0 253.1,200.5 253.2,207.6 253.4,206.7 253.5,207.9 253.6,202.3 253.7,201.0 253.8,204.4 254.0,207.5 254.1,207.4 254.2,208.6 254.3,206.5 254.4,204.6 254.6,208.6 254.7,205.1 254.8,204.2 254.9,208.0 255.0,206.9 255.2,208.5 255.3,205.1 255.4,207.3 255.5,204.2 255.6,206.5 255.8,206.4 255.9,201.4 256.0,206.9 256.1,206.9 256.2,204.8 256.4,207.7 256.5,208.8 256.6,206.9 256.7,207.4 256.8,209.1 257.0,204.8 257.1,208.9 257.2,206.9 257.3,208.3 257.4,209.7 257.6,209.0 257.7,206.2 257.8,207.5 257.9,206.9 258.0,202.3 258.2,206.4 258.3,204.9 258.4,206.5 258.5,203.1 258.6,202.8 258.8,209.0 258.9,209.1 259.0,205.0 259.1,207.2 259.2,208.0 259.4,204.5 259.5,204.3 259.6,205.2 259.7,205.5 259.8,206.5 260.0,205.3 260.1,207.5 260.2,205.3 260.3,200.3 260.4,206.3 260.6,206.6 260.7,208.8 260.8,207.9 260.9,205.0 261.0,206.8 261.2,205.8 261.3,207.0 261.4,204.0 261.5,207.1 261.6,206.7 261.8,207.4 261.9,209.7 262.0,206.0 262.1,205.0 262.2,202.8 262.4,206.5 262.5,203.5 262.6,205.9 262.7,207.1 262.8,204.2 263.0,207.0 263.1,207.0 263.2,209.7 263.3,206.9 263.4,206.5 263.6,206.2 263.7,208.6 263.8,208.4 263.9,206.0 264.0,208.0 264.2,202.3 264.3,207.7 264.4,209.7 264.5,203.8 264.6,209.7 264.8,206.4 264.9,207.7 265.0,205.0 265.1,206.8 265.2,208.6 265.4,204.7 265.5,209.7 265.6,205.2 265.7,207.3 265.8,209.7 266.0,202.8 266.1,209.7 266.2,207.5 266.3,209.1 266.4,206.8 266.6,206.1 266.7,205.7 266.8,209.3 266.9,205.5 267.0,205.2 267.2,207.8 267.3,206.6 267.4,205.4 267.5,208.7 267.6,207.7 267.8,205.6 267.9,209.7 268.0,204.1 268.1,206.3 268.2,205.1 268.4,204.4 268.5,205.9 268.6,208.4 268.7,206.7 268.8,206.4 269.0,209.4 269.1,207.4 269.2,205.7 269.3,209.0 269.4,205.8 269.6,206.1 269.7,209.4 269.8,205.7 269.9,207.7 270.0,202.9 270.2,207.1 270.3,205.8 270.4,209.3 270.5,202.6 270.6,206.1 270.8,209.7 270.9,206.7 271.0,205.8 271.1,209.5 271.2,205.5 271.4,209.3 271.5,207.8 271.6,202.8 271.7,208.2 271.8,207.3 272.0,209.7 272.1,206.1 272.2,206.6 272.3,206.9 272.4,209.7 272.6,207.2 272.7,209.7 272.8,206.8 272.9,204.1 273.0,205.8 273.2,206.4 273.3,203.9 273.4,206.6 273.5,204.9 273.6,208.9 273.8,198.7 273.9,205.7 274.0,207.9 274.1,206.7 274.2,207.4 274.4,206.3 274.5,209.2 274.6,207.3 274.7,203.4 274.8,202.8 275.0,207.3 275.1,204.5 275.2,207.4 275.3,207.3 275.4,206.2 275.6,208.3 275.7,206.0 275.8,208.4 275.9,207.2 276.0,204.8 276.2,207.7 276.3,207.9 276.4,205.7 276.5,206.8 276.6,203.1 276.8,206.2 276.9,207.8 277.0,208.1 277.1,202.8 277.2,207.1 277.4,206.2 277.5,204.6 277.6,208.8 277.7,205.9 277.8,208.0 278.0,207.6 278.1,208.7 278.2,208.8 278.3,207.1 278.4,204.4 278.6,206.2 278.7,204.0 278.8,205.0 278.9,209.7 279.0,207.9 279.2,203.7 279.3,207.4 279.4,200.7 279.5,209.7 279.6,203.6 279.8,207.5 279.9,206.5 280.0,208.2 280.1,205.8 280.2,205.3 280.4,209.5 280.5,209.1 280.6,209.0 280.7,208.2 280.8,205.6 281.0,205.9 281.1,208.2 281.2,206.8 281.3,208.2 281.4,206.8 281.6,209.3 281.7,209.5 281.8,205.8 281.9,205.2 282.0,204.3 282.2,204.6 282.3,207.7 282.4,208.7 282.5,209.3 282.6,203.7 282.8,204.4 282.9,206.0 283.0,206.5 283.1,207.4 283.2,205.7 283.4,206.5 283.5,205.5 283.6,208.1 283.7,205.0 283.8,207.5 284.0,203.4 284.1,203.7 284.2,207.9 284.3,205.5 284.4,206.7 284.6,207.9 284.7,209.7 284.8,202.9 284.9,207.9 285.0,203.2 285.2,206.3 285.3,204.2 285.4,209.0 285.5,205.2 285.6,206.7 285.8,204.0 285.9,207.0 286.0,207.4 286.1,206.3 286.2,204.4 286.4,206.5 286.5,209.0 286.6,206.7 286.7,206.7 286.8,205.1 287.0,205.2 287.1,206.0 287.2,206.1 287.3,205.7 287.4,206.6 287.6,207.5 287.7,205.3 287.8,207.1 287.9,205.5 288.0,208.3 288.2,205.1 288.3,206.6 288.4,204.4 288.5,205.1 288.6,206.4 288.8,207.2 288.9,207.0 289.0,202.8 289.1,208.2 289.2,208.6 289.4,202.9 289.5,206.7 289.6,204.2 289.7,207.3 289.8,207.5 290.0,205.8 290.1,206.3 290.2,206.3 290.3,205.0 290.4,206.7 290.6,205.2 290.7,203.6 290.8,204.4 290.9,207.4 291.0,207.0 291.2,206.7 291.3,208.9 291.4,202.0 291.5,209.4 291.6,204.8 291.8,206.8 291.9,205.7 292.0,208.8 292.1,209.4 292.2,206.8 292.4,209.8 292.5,205.4 292.6,207.1 292.7,205.8 292.8,209.8 293.0,207.7 293.1,209.6 293.2,208.8 293.3,203.4 293.4,208.6 293.6,204.9 293.7,206.8 293.8,206.9 293.9,206.0 294.0,208.2 294.2,203.7 294.3,206.0 294.4,206.3 294.5,208.1 294.6,207.5 294.8,207.5 294.9,205.2 295.0,206.1 295.1,209.2 295.2,206.6 295.4,203.8 295.5,204.9 295.6,205.3 295.7,207.4 295.8,206.6 296.0,204.8 296.1,206.6 296.2,206.9 296.3,207.7 296.4,204.6 296.6,205.7 296.7,209.2 296.8,207.6 296.9,202.6 297.0,199.4 297.2,209.3 297.3,203.9 297.4,208.3 297.5,203.6 297.6,206.2 297.8,206.2 297.9,204.8 298.0,207.8 298.1,208.6 298.2,207.1 298.4,204.4 298.5,203.9 298.6,209.8 298.7,204.1 298.8,207.4 299.0,206.2 299.1,209.8 299.2,204.4 299.3,209.3 299.4,206.2 299.6,208.5 299.7,204.9 299.8,202.8 299.9,205.7 300.0,204.7 300.0,208.6 300.2,206.0 300.3,206.5 300.4,208.3 300.5,206.5 300.6,206.0 300.8,206.7 300.9,205.9 301.0,206.9 301.1,208.5 301.2,206.3 301.4,209.7 301.5,207.8 301.6,203.5 301.7,205.1 301.8,208.6 302.0,207.7 302.1,205.2 302.2,209.3 302.3,207.7 302.4,209.2 302.6,207.2 302.7,206.2 302.8,207.5 302.9,206.6 303.0,203.8 303.2,205.6 303.3,203.4 303.4,204.7 303.5,206.0 303.6,203.2 303.8,208.7 303.9,206.6 304.0,206.0 304.1,208.1 304.2,203.4 304.4,204.0 304.5,208.8 304.6,204.5 304.7,209.4 304.8,205.9 305.0,205.1 305.1,208.8 305.2,205.9 305.3,205.0 305.4,205.7 305.6,208.4 305.7,205.5 305.8,204.9 305.9,209.6 306.0,207.1 306.2,208.5 306.3,204.1 306.4,205.1 306.5,206.7 306.6,209.6 306.8,208.4 306.9,208.5 307.0,208.8 307.1,206.9 307.2,206.7 307.4,209.2 307.5,203.5 307.6,205.8 307.7,206.9 307.8,206.2 308.0,203.9 308.1,203.3 308.2,202.9 308.3,206.4 308.4,204.5 308.6,209.4 308.7,204.9 308.8,205.7 308.9,207.2 309.0,204.5 309.2,206.5 309.3,206.2 309.4,202.6 309.5,206.4 309.6,204.9 309.8,203.6 309.9,204.8 310.0,208.4 310.1,206.5 310.2,209.5 310.4,205.4 310.5,209.6 310.6,205.7 310.7,209.5 310.8,204.6 311.0,206.0 311.1,207.8 311.2,204.2 311.3,205.2 311.4,199.0 311.6,203.9 311.7,205.1 311.8,207.9 311.9,207.3 312.0,206.4 312.2,206.6 312.3,206.7 312.4,209.0 312.5,208.8 312.6,205.3 312.8,205.1 312.9,209.0 313.0,205.8 313.1,208.4 313.2,206.5 313.4,204.3 313.5,206.7 313.6,209.5 313.7,208.5 313.8,208.3 314.0,199.0 314.1,205.3 314.2,207.5 314.3,204.4 314.4,206.4 314.6,206.7 314.7,202.9 314.8,207.7 314.9,207.0 315.0,198.6 315.2,204.3 315.3,209.4 315.4,208.6 315.5,204.6 315.6,206.6 315.8,206.4 315.9,205.1 316.0,206.0 316.1,208.8 316.2,205.6 316.4,205.0 316.5,204.3 316.6,206.0 316.7,203.1 316.8,206.8 317.0,209.4 317.1,205.4 317.2,207.6 317.3,205.0 317.4,208.4 317.6,206.6 317.7,203.7 317.8,204.4 317.9,205.4 318.0,208.4 318.2,209.3 318.3,207.7 318.4,206.2 318.5,207.0 318.6,209.4 318.8,205.7 318.9,205.8 319.0,205.3 319.1,205.3 319.2,203.8 319.4,205.4 319.5,208.3 319.6,207.7 319.7,206.5 319.8,205.0 320.0,207.6 320.1,209.3 320.2,208.2 320.3,206.3 320.4,206.5 320.6,207.2 320.7,204.5 320.8,200.5 320.9,204.6 321.0,208.5 321.2,207.0 321.3,205.9 321.4,203.3 321.5,206.0 321.6,207.7 321.8,206.9 321.9,202.3 322.0,206.5 322.1,207.1 322.2,204.9 322.4,205.2 322.5,204.9 322.6,206.4 322.7,208.0 322.8,205.8 323.0,204.0 323.1,204.7 323.2,204.9 323.3,202.9 323.4,207.7 323.6,206.2 323.7,205.9 323.8,206.0 323.9,205.6 324.0,208.2 324.2,203.3 324.3,206.6 324.4,206.6 324.5,209.0 324.6,205.8 324.8,206.5 324.9,203.9 325.0,205.6 325.1,204.3 325.2,208.1 325.4,207.1 325.5,207.8 325.6,202.7 325.7,207.9 325.8,207.5 326.0,203.1 326.1,206.1 326.2,204.2 326.3,204.5 326.4,206.0 326.6,207.8 326.7,205.3 326.8,208.3 326.9,209.2 327.0,206.9 327.2,204.6 327.3,205.1 327.4,204.3 327.5,204.0 327.6,208.7 327.8,209.2 327.9,206.8 328.0,208.2 328.1,208.0 328.2,202.4 328.4,206.4 328.5,208.6 328.6,203.0 328.7,204.2 328.8,205.6 329.0,200.6 329.1,207.2 329.2,203.2 329.3,205.2 329.4,206.3 329.6,208.1 329.7,206.7 329.8,206.3 329.9,205.1 330.0,204.1 330.2,209.1 330.3,204.8 330.4,203.6 330.5,204.0 330.6,203.9 330.8,203.7 330.9,199.5 331.0,207.3 331.1,206.1 331.2,205.8 331.4,208.6 331.5,209.1 331.6,206.0 331.7,209.1 331.8,205.2 332.0,206.5 332.1,205.1 332.2,206.6 332.3,208.2 332.4,206.3 332.6,203.3 332.7,208.7 332.8,204.2 332.9,206.3 333.0,207.6 333.2,205.4 333.3,205.2 333.4,206.7 333.5,205.5 333.6,206.6 333.8,207.4 333.9,206.5 334.0,202.2 334.1,206.0 334.2,205.9 334.4,202.1 334.5,209.0 334.6,198.4 334.7,198.1 334.8,206.5 335.0,204.1 335.1,204.9 335.2,206.3 335.3,204.5 335.4,205.7 335.6,208.0 335.7,206.7 335.8,208.7 335.9,202.8 336.0,203.0 336.2,204.2 336.3,209.0 336.4,209.0 336.5,206.6 336.6,202.8 336.8,204.8 336.9,208.2 337.0,203.1 337.1,206.4 337.2,206.3 337.4,203.6 337.5,206.8 337.6,208.4 337.7,205.2 337.8,204.5 338.0,202.0 338.1,202.0 338.2,206.6 338.3,207.2 338.4,206.1 338.6,208.5 338.7,203.9 338.8,204.3 338.9,203.9 339.0,206.9 339.2,206.5 339.3,207.8 339.4,205.9 339.5,205.5 339.6,206.6 339.8,205.3 339.9,202.7 340.0,202.0 340.1,204.3 340.2,201.9 340.4,204.2 340.5,206.2 340.6,208.2 340.7,205.8 340.8,205.4 341.0,207.8 341.1,208.4 341.2,206.7 341.3,205.5 341.4,207.3 341.6,206.0 341.7,208.6 341.8,201.9 341.9,206.8 342.0,203.1 342.2,204.9 342.3,204.5 342.4,207.5 342.5,207.2 342.6,205.7 342.8,206.9 342.9,206.1 343.0,206.4 343.1,206.4 343.2,206.8 343.4,206.1 343.5,206.8 343.6,205.0 343.7,202.6 343.8,206.9 344.0,207.3 344.1,203.3 344.2,203.1 344.3,205.2 344.4,206.1 344.6,207.4 344.7,204.5 344.8,204.2 344.9,207.0 345.0,208.8 345.2,206.6 345.3,206.5 345.4,205.7 345.5,208.8 345.6,205.6 345.8,208.6 345.9,203.7 346.0,206.3 346.1,204.4 346.2,202.2 346.4,208.6 346.5,206.0 346.6,206.3 346.7,208.8 346.8,203.4 347.0,204.6 347.1,205.4 347.2,206.9 347.3,205.8 347.4,207.4 347.6,205.6 347.7,208.7 347.8,207.6 347.9,201.8 348.0,208.7 348.2,204.2 348.3,206.6 348.4,204.3 348.5,207.7 348.6,202.0 348.8,205.9 348.9,206.4 349.0,203.9 349.1,208.7 349.2,208.2 349.4,204.5 349.5,208.7 349.6,206.3 349.7,202.7 349.8,201.7 350.0,200.0 350.0,208.4 350.1,207.2 350.2,208.7 350.3,204.3 350.4,208.0 350.6,207.5 350.7,202.1 350.8,204.5 350.9,205.7 351.0,204.1 351.2,208.0 351.3,206.1 351.4,207.9 351.5,206.3 351.6,207.1 351.8,207.9 351.9,205.6 352.0,202.9 352.1,205.2 352.2,201.6 352.4,203.4 352.5,202.6 352.6,204.9 352.7,206.0 352.8,208.5 353.0,198.3 353.1,204.6 353.2,201.5 353.3,203.8 353.4,205.4 353.6,206.0 353.7,203.2 353.8,202.9 353.9,204.0 354.0,207.2 354.2,207.7 354.3,206.0 354.4,206.7 354.5,205.7 354.6,207.3 354.8,199.1 354.9,207.9 355.0,207.6 355.1,205.7 355.2,203.7 355.4,205.7 355.5,208.3 355.6,206.4 355.7,205.9 355.8,204.3 356.0,206.0 356.1,207.6 356.2,207.7 356.3,206.5 356.4,205.6 356.6,205.7 356.7,202.2 356.8,204.6 356.9,207.8 357.0,207.9 357.2,205.5 357.3,206.6 357.4,207.7 357.5,206.5 357.6,204.5 357.8,205.4 357.9,203.3 358.0,205.9 358.1,207.1 358.2,202.1 358.4,202.4 358.5,207.0 358.6,203.5 358.7,204.8 358.8,201.6 359.0,205.8 359.1,204.4 359.2,204.5 359.3,204.5 359.4,204.1 359.6,207.2 359.7,205.5 359.8,204.4 359.9,204.3 360.0,206.6 360.2,204.8 360.3,205.5 360.4,203.8 360.5,203.9 360.6,204.2 360.8,201.7 360.9,200.9 361.0,205.2 361.1,204.5 361.2,205.7 361.4,207.9 361.5,204.6 361.6,206.6 361.7,204.8 361.8,205.5 362.0,203.4 362.1,207.5 362.2,203.2 362.3,201.0 362.4,205.3 362.6,204.2 362.7,204.6 362.8,202.3 362.9,203.8 363.0,206.0 363.2,204.7 363.3,206.6 363.4,207.1 363.5,202.8 363.6,196.0 363.8,202.9 363.9,203.9 364.0,197.7 364.1,207.0 364.2,203.4 364.4,204.2 364.5,206.4 364.6,198.5 364.7,205.1 364.8,202.9 365.0,203.8 365.1,204.8 365.2,207.6 365.3,204.5 365.4,202.9 365.6,195.6 365.7,205.5 365.8,201.5 365.9,206.5 366.0,203.9 366.2,204.6 366.3,204.3 366.4,202.5 366.5,201.7 366.6,206.6 366.8,203.6 366.9,203.0 367.0,205.8 367.1,204.5 367.2,207.5 367.4,204.3 367.5,203.8 367.6,201.2 367.7,201.8 367.8,207.4 368.0,202.5 368.1,206.1 368.2,201.9 368.3,207.4 368.4,200.7 368.6,203.5 368.7,205.5 368.8,205.0 368.9,207.4 369.0,201.3 369.2,204.1 369.3,203.7 369.4,206.1 369.5,203.4 369.6,202.9 369.8,206.8 369.9,207.3 370.0,207.3 370.1,205.3 370.2,205.6 370.4,206.4 370.5,203.9 370.6,202.3 370.7,203.5 370.8,204.2 371.0,203.8 371.1,200.0 371.2,201.9 371.3,205.8 371.4,207.1 371.6,207.0 371.7,203.4 371.8,205.4 371.9,201.0 372.0,206.7 372.2,203.8 372.3,200.1 372.4,204.9 372.5,201.8 372.6,204.3 372.8,204.3 372.9,203.7 373.0,205.3 373.1,203.4 373.2,204.6 373.4,201.4 373.5,201.8 373.6,205.1 373.7,202.3 373.8,206.0 374.0,199.7 374.1,202.2 374.2,202.8 374.3,205.7 374.4,206.5 374.6,201.8 374.7,202.5 374.8,204.5 374.9,203.7 375.0,201.6 375.2,204.1 375.3,206.5 375.4,201.5 375.5,203.8 375.6,205.6 375.8,201.5 375.9,203.7 376.0,205.5 376.1,201.7 376.2,200.7 376.4,202.3 376.5,201.8 376.6,201.5 376.7,206.2 376.8,203.5 377.0,202.5 377.1,202.5 377.2,204.8 377.3,202.3 377.4,203.6 377.6,202.5 377.7,203.0 377.8,201.0 377.9,204.8 378.0,202.9 378.2,203.2 378.3,203.3 378.4,203.0 378.5,199.8 378.6,201.2 378.8,201.6 378.9,203.5 379.0,204.9 379.1,201.0 379.2,203.0 379.4,203.6 379.5,202.6 379.6,202.9 379.7,202.4 379.8,205.7 380.0,200.8 380.1,202.9 380.2,204.5 380.3,202.2 380.4,201.2 380.6,202.8 380.7,202.8 380.8,199.6 380.9,197.5 381.0,199.4 381.2,202.3 381.3,200.7 381.4,203.0 381.5,203.5 381.6,202.4 381.8,198.4 381.9,202.4 382.0,201.0 382.1,205.4 382.2,201.7 382.4,202.8 382.5,200.2 382.6,204.3 382.7,203.1 382.8,203.9 383.0,203.7 383.1,204.9 383.2,201.1 383.3,205.2 383.4,199.7 383.6,203.4 383.7,200.8 383.8,203.8 383.9,203.6 384.0,201.4 384.2,200.7 384.3,203.8 384.4,205.0 384.5,203.2 384.6,200.4 384.8,202.5 384.9,204.0 385.0,204.1 385.1,201.8 385.2,203.6 385.4,204.1 385.5,201.4 385.6,203.2 385.7,202.7 385.8,202.0 386.0,198.7 386.1,204.6 386.2,201.4 386.3,200.6 386.4,201.0 386.6,202.4 386.7,201.9 386.8,201.6 386.9,204.3 387.0,197.5 387.2,203.9 387.3,197.4 387.4,200.7 387.5,204.3 387.6,202.9 387.8,200.1 387.9,202.9 388.0,201.2 388.1,201.8 388.2,200.6 388.4,201.2 388.5,201.3 388.6,201.9 388.7,202.8 388.8,202.1 389.0,203.1 389.1,201.5 389.2,201.1 389.3,193.7 389.4,202.7 389.6,200.7 389.7,198.9 389.8,201.3 389.9,199.4 390.0,202.3 390.2,201.3 390.3,200.4 390.4,203.6 390.5,197.3 390.6,199.0 390.8,202.5 390.9,200.1 391.0,199.4 391.1,200.7 391.2,196.9 391.4,200.8 391.5,201.0 391.6,197.2 391.7,196.4 391.8,200.4 392.0,198.4 392.1,203.2 392.2,201.8 392.3,199.4 392.4,201.5 392.6,198.3 392.7,201.4 392.8,200.9 392.9,196.9 393.0,201.2 393.2,201.6 393.3,196.0 393.4,196.8 393.5,198.3 393.6,198.4 393.8,196.8 393.9,202.8 394.0,199.4 394.1,200.8 394.2,197.6 394.4,200.0 394.5,202.7 394.6,202.1 394.7,199.7 394.8,197.1 395.0,199.4 395.1,199.2 395.2,202.5 395.3,199.1 395.4,195.5 395.6,201.0 395.7,202.4 395.8,202.3 395.9,199.3 396.0,198.1 396.2,200.5 396.3,196.4 396.4,201.1 396.5,200.5 396.6,198.6 396.8,200.8 396.9,198.9 397.0,198.8 397.1,201.8 397.2,198.9 397.4,200.5 397.5,201.9 397.6,201.7 397.7,197.0 397.8,198.1 398.0,196.1 398.1,195.2 398.2,198.5 398.3,201.4 398.4,198.0 398.6,201.7 398.7,196.4 398.8,199.0 398.9,198.9 399.0,199.3 399.2,201.5 399.3,198.0 399.4,201.5 399.5,197.2 399.6,194.5 399.8,198.8 399.9,196.3 400.0,197.6 400.1,197.7 400.2,199.6 400.4,195.2 400.5,200.0 400.6,201.1 400.7,197.2 400.8,197.9 401.0,198.0 401.1,198.3 401.2,198.4 401.3,200.7 401.4,197.6 401.6,198.3 401.7,200.5 401.8,195.7 401.9,199.6 402.0,198.8 402.2,199.4 402.3,197.3 402.4,200.2 402.5,196.5 402.6,198.1 402.8,197.7 402.9,198.6 403.0,197.7 403.1,197.4 403.2,196.3 403.4,197.5 403.5,195.8 403.6,192.9 403.7,196.5 403.8,194.8 404.0,199.4 404.1,196.8 404.2,193.8 404.3,196.4 404.4,197.6 404.6,199.1 404.7,193.6 404.8,196.9 404.9,192.1 405.0,196.9 405.2,195.6 405.3,197.1 405.4,195.1 405.5,195.6 405.6,198.2 405.8,196.0 405.9,195.0 406.0,194.1 406.1,194.0 406.2,193.9 406.4,196.1 406.5,195.0 406.6,196.8 406.7,194.8 406.8,192.1 407.0,196.3 407.1,196.9 407.2,196.7 407.3,194.6 407.4,196.1 407.6,197.0 407.7,196.9 407.8,196.5 407.9,196.5 408.0,195.6 408.2,191.9 408.3,194.2 408.4,193.9 408.5,197.2 408.6,192.0 408.8,192.7 408.9,193.7 409.0,195.2 409.1,193.7 409.2,192.2 409.4,193.3 409.5,190.9 409.6,190.9 409.7,190.7 409.8,190.9 410.0,192.1 410.0,190.4 410.1,194.8 410.2,190.8 410.3,191.2 410.4,192.3 410.6,193.3 410.7,190.7 410.8,192.7 410.9,192.9 411.0,192.6 411.2,192.2 411.3,189.1 411.4,192.9 411.5,193.5 411.6,189.1 411.8,189.9 411.9,193.4 412.0,189.8 412.1,190.5 412.2,190.3 412.4,190.0 412.5,189.7 412.6,191.3 412.7,191.1 412.8,189.0 413.0,188.6 413.1,187.8 413.2,190.4 413.3,191.0 413.4,188.4 413.6,188.1 413.7,186.0 413.8,185.5 413.9,187.6 414.0,188.3 414.2,186.1 414.2,188.3 414.3,184.3 414.4,184.1 414.5,184.8 414.6,183.0 414.8,183.0 414.9,182.7 415.0,181.7 415.1,181.2 415.2,180.6 415.4,179.8 415.5,178.9 415.6,178.1 415.7,177.2 415.8,176.6 416.0,176.6 416.1,175.6 416.2,175.1 416.3,174.7 416.4,173.9 416.6,173.6 416.7,173.2 416.8,172.3 416.9,172.0 417.0,171.3 417.1,170.9 417.2,171.0 417.3,170.6 417.4,170.4 417.5,170.2 417.6,169.6 417.8,169.1 417.9,169.1 418.0,168.8 418.1,168.4 418.2,168.0 418.4,167.6 418.5,167.3 418.6,167.2 418.7,166.7 418.8,166.6 419.0,166.1 419.1,165.8 419.2,165.3 419.3,165.2 419.4,165.0 419.6,165.1 419.7,164.9 419.8,164.7 419.9,164.6 420.0,164.1 420.2,164.1 420.3,163.9 420.4,163.7 420.5,163.5 420.6,163.5 420.8,163.1 420.9,163.0 421.0,162.7 421.1,162.7 421.2,162.3 421.4,162.2 421.5,161.8 421.6,162.0 421.7,161.8 421.8,161.4 422.0,161.5 422.0,161.4 422.1,160.8 422.2,160.9 422.3,160.7 422.4,160.8 422.6,160.6 422.7,160.4 422.8,160.0 422.9,160.3 423.0,159.9 423.2,159.6 423.3,159.6 423.4,159.6 423.5,159.5 423.6,159.1 423.8,159.4 423.9,159.2 424.0,159.1 424.1,158.7 424.2,158.3 424.4,158.3 424.5,158.3 424.6,158.2 424.7,157.8 424.8,157.9 425.0,157.9 425.1,157.5 425.2,157.3 425.3,157.4 425.4,157.3 425.6,156.9 425.6,157.2 425.7,156.9 425.8,156.6 425.9,156.4 426.0,156.0 426.2,155.8 426.3,155.3 426.4,155.3 426.5,155.1 426.6,154.9 426.8,154.8 426.9,154.3 427.0,154.1 427.1,154.0 427.2,153.6 427.4,153.5 427.5,153.2 427.6,153.1 427.7,152.7 427.7,152.3 427.8,152.1 428.0,151.2 428.1,151.0 428.2,150.7 428.3,150.3 428.4,149.7 428.6,149.2 428.7,148.9 428.8,148.2 428.9,147.9 429.0,147.2 429.1,147.1 429.2,146.6 429.3,145.5 429.4,144.6 429.5,143.5 429.6,142.6 429.8,141.6 429.8,141.5 429.9,140.3 430.0,139.3 430.1,138.3 430.2,136.8 430.4,135.7 430.5,134.7 430.5,134.2 430.6,133.7 430.7,133.0 430.8,132.4 431.0,131.6 431.1,130.6 431.2,130.0 431.3,129.8 431.4,129.6 431.6,129.4 431.7,129.1 431.8,128.5 431.9,128.3 432.0,128.0 432.2,127.5 432.3,127.5 432.3,127.6 432.4,125.9 432.5,124.7 432.6,123.0 432.8,121.5 432.9,119.8 433.0,118.4 433.1,116.8 433.2,115.5 433.2,112.8 433.4,104.2 433.4,101.2 433.5,99.9 433.6,98.4 433.7,97.0 433.8,95.4 434.0,93.7 434.1,92.1 434.2,90.6 434.3,89.0 434.4,87.0 434.6,85.8 434.6,84.9 434.7,86.5 434.8,87.7 434.9,89.4 435.0,91.2 435.2,92.5 435.3,93.8 435.4,95.6 435.5,96.9 435.5,97.1 435.6,95.9 435.8,95.4 435.9,94.2 436.0,93.9 436.1,92.8 436.2,91.8 436.4,91.2 436.5,90.4 436.6,89.6 436.7,92.4 436.8,95.2 437.0,98.2 437.1,100.7 437.2,103.7 437.3,106.6 437.4,108.5 437.4,109.4 437.6,113.0 437.7,116.1 437.8,119.7 437.9,123.1 438.0,126.5 438.1,127.8 438.2,128.7 438.3,129.3 438.4,130.5 438.5,131.4 438.6,132.6 438.8,133.9 438.8,133.7 438.9,135.3 439.0,137.3 439.1,138.8 439.2,140.8 439.4,142.7 439.5,144.4 439.6,146.5 439.7,148.3 439.8,150.4 440.0,152.2 440.1,153.8 440.2,155.8 440.3,157.6 440.4,159.5 440.6,161.5 440.6,161.9 440.7,163.9 440.8,166.2 440.9,168.5 441.0,171.2 441.2,173.2 441.3,175.9 441.4,178.2 441.5,180.5 441.6,183.1 441.8,185.6 441.9,188.2 442.0,190.6 442.1,190.5"/>
<path stroke="#cc1018" d="M28.6,294.6 28.7,298.2 28.8,295.4 29.0,296.3 29.1,294.7 29.2,293.6 29.3,294.2 29.4,297.1 29.6,296.6 29.7,295.0 29.8,296.3 29.9,291.0 30.0,298.6 30.2,293.6 30.3,291.1 30.4,295.1 30.5,293.3 30.6,296.6 30.8,296.5 30.9,291.2 31.0,291.3 31.1,293.6 31.2,293.5 31.4,295.3 31.5,294.8 31.6,297.3 31.7,296.6 31.8,296.8 32.0,295.6 32.1,296.9 32.2,297.0 32.3,294.2 32.4,296.1 32.6,295.2 32.7,294.0 32.8,293.9 32.9,297.9 33.0,292.2 33.2,292.4 33.3,297.4 33.4,292.0 33.5,292.7 33.6,292.3 33.8,293.4 33.9,293.9 34.0,296.5 34.1,296.1 34.2,295.9 34.4,287.7 34.5,293.9 34.6,295.0 34.7,295.0 34.8,294.3 35.0,296.6 35.1,292.8 35.2,291.0 35.3,290.4 35.4,295.0 35.6,289.3 35.7,293.3 35.8,294.8 35.9,293.2 36.0,294.8 36.2,297.9 36.3,294.6 36.4,291.9 36.5,298.1 36.6,291.6 36.8,295.9 36.9,297.3 37.0,294.4 37.1,297.2 37.2,298.1 37.4,297.6 37.5,294.5 37.6,295.3 37.7,290.7 37.8,296.6 38.0,293.8 38.1,294.7 38.2,297.1 38.3,289.1 38.4,295.8 38.6,294.0 38.7,292.7 38.8,298.3 38.9,292.4 39.0,290.5 39.2,292.3 39.3,296.0 39.4,295.9 39.5,294.3 39.6,296.0 39.8,292.4 39.9,294.7 40.0,290.7 40.1,297.7 40.2,297.2 40.4,295.8 40.5,292.8 40.6,294.6 40.7,293.2 40.8,292.3 41.0,298.8 41.1,291.9 41.2,292.6 41.3,292.4 41.4,298.8 41.6,296.4 41.7,293.2 41.8,293.3 41.9,295.2 42.0,293.6 42.2,294.7 42.3,290.7 42.4,297.7 42.5,297.4 42.6,296.8 42.8,292.3 42.9,295.1 43.0,294.9 43.1,291.8 43.2,298.8 43.4,295.6 43.5,295.5 43.6,295.6 43.7,294.9 43.8,297.6 44.0,294.7 44.1,295.0 44.2,294.2 44.3,296.4 44.4,290.7 44.6,297.2 44.7,298.8 44.8,292.4 44.9,293.6 45.0,291.9 45.2,295.0 45.3,296.3 45.4,298.0 45.5,296.2 45.6,295.8 45.8,290.7 45.9,292.2 46.0,295.1 46.1,290.7 46.2,297.0 46.4,297.9 46.5,293.3 46.6,292.8 46.7,295.4 46.8,297.5 47.0,294.9 47.1,295.1 47.2,294.2 47.3,294.3 47.4,296.8 47.6,296.8 47.7,294.4 47.8,296.0 47.9,295.7 48.0,294.0 48.2,291.0 48.3,296.6 48.4,295.6 48.5,293.3 48.6,292.2 48.8,295.9 48.9,294.1 49.0,292.5 49.1,294.8 49.2,294.5 49.4,292.9 49.5,294.6 49.6,298.0 49.7,294.5 49.8,298.6 50.0,297.5 50.1,298.8 50.2,295.7 50.3,293.7 50.4,294.2 50.6,295.5 50.7,292.1 50.8,296.8 50.9,295.1 51.0,295.3 51.2,298.3 51.3,297.5 51.4,289.4 51.5,295.7 51.6,293.6 51.8,298.9 51.9,295.2 52.0,294.1 52.1,291.6 52.2,291.3 52.4,295.5 52.5,292.6 52.6,288.4 52.7,293.7 52.8,293.6 53.0,296.0 53.1,296.7 53.2,292.7 53.3,292.7 53.4,296.2 53.6,295.0 53.7,290.8 53.8,295.8 53.9,296.7 54.0,295.7 54.2,294.8 54.3,291.1 54.4,296.3 54.5,292.6 54.6,296.4 54.8,296.4 54.9,291.8 55.0,298.5 55.1,296.1 55.2,293.5 55.4,293.8 55.5,296.1 55.6,295.0 55.7,290.9 55.8,296.9 56.0,298.9 56.1,296.7 56.2,297.0 56.3,296.7 56.4,294.7 56.6,295.4 56.7,294.9 56.8,292.7 56.9,291.5 57.0,291.9 57.2,293.4 57.3,290.9 57.4,294.0 57.5,294.3 57.6,295.1 57.8,294.5 57.9,289.7 58.0,295.0 58.1,297.8 58.2,293.2 58.4,293.1 58.5,293.0 58.6,295.4 58.7,297.9 58.8,294.5 59.0,294.9 59.1,296.8 59.2,297.9 59.3,291.8 59.4,296.4 59.6,295.6 59.7,298.5 59.8,294.8 59.9,292.9 60.0,291.5 60.2,289.2 60.3,293.3 60.4,294.2 60.5,294.7 60.6,293.7 60.8,294.5 60.9,295.6 61.0,293.3 61.1,297.6 61.2,296.6 61.4,297.9 61.5,294.8 61.6,293.0 61.7,293.4 61.8,298.3 62.0,295.7 62.1,291.1 62.2,296.5 62.3,295.0 62.4,292.5 62.6,293.7 62.7,294.1 62.8,296.1 62.9,294.9 63.0,295.8 63.2,292.1 63.3,295.9 63.4,294.2 63.5,294.4 63.6,295.2 63.8,291.2 63.9,293.5 64.0,298.8 64.1,291.0 64.2,297.4 64.4,296.6 64.5,295.8 64.6,294.6 64.7,293.9 64.8,295.6 65.0,296.3 65.1,295.8 65.2,297.4 65.3,292.0 65.4,292.8 65.6,299.1 65.7,293.5 65.8,295.5 65.9,296.4 66.0,294.6 66.2,298.1 66.3,292.9 66.4,291.9 66.5,296.6 66.6,296.3 66.8,298.1 66.9,297.1 67.0,294.3 67.1,295.3 67.2,293.2 67.4,295.9 67.5,294.3 67.6,296.1 67.7,294.6 67.8,295.5 68.0,293.0 68.1,298.7 68.2,293.7 68.3,297.7 68.4,296.4 68.6,295.1 68.7,299.0 68.8,293.7 68.9,295.2 69.0,294.4 69.2,292.8 69.3,295.6 69.4,297.0 69.5,293.7 69.6,296.1 69.8,297.1 69.9,294.2 70.0,296.7 70.1,295.4 70.2,296.8 70.4,296.4 70.5,296.7 70.6,295.4 70.7,293.6 70.8,293.3 71.0,294.4 71.1,297.1 71.2,295.7 71.3,294.7 71.4,297.2 71.6,296.5 71.7,299.0 71.8,294.2 71.9,297.8 72.0,292.9 72.0,296.9 72.2,293.7 72.3,295.9 72.4,295.1 72.5,298.8 72.6,290.9 72.8,295.9 72.9,292.5 73.0,297.7 73.1,296.7 73.2,292.9 73.4,294.5 73.5,295.8 73.6,295.8 73.7,295.2 73.8,296.6 74.0,291.5 74.1,296.2 74.2,293.5 74.3,291.7 74.4,294.3 74.6,294.0 74.7,292.1 74.8,295.6 74.9,294.6 75.0,293.8 75.2,296.7 75.3,295.5 75.3,290.7 75.4,296.4 75.5,290.9 75.6,292.2 75.8,295.4 75.9,292.4 76.0,291.8 76.1,293.8 76.2,291.2 76.4,291.1 76.5,291.6 76.6,290.6 76.7,292.9 76.8,290.9 77.0,293.1 77.1,291.3 77.2,292.5 77.3,290.7 77.4,290.7 77.6,291.9 77.7,289.0 77.8,289.8 77.9,290.2 78.0,288.2 78.2,286.6 78.3,288.2 78.4,286.3 78.5,290.4 78.6,288.8 78.8,288.9 78.9,289.3 79.0,287.3 79.1,288.3 79.2,289.7 79.4,287.4 79.5,287.9 79.6,288.0 79.7,288.1 79.8,287.6 80.0,287.9 80.1,286.0 80.1,284.8 80.2,285.4 80.3,286.0 80.4,287.7 80.6,285.5 80.7,284.6 80.8,283.7 80.9,283.7 81.0,285.6 81.2,284.0 81.3,285.3 81.4,283.2 81.5,284.4 81.6,283.9 81.8,283.7 81.9,283.0 82.0,283.1 82.1,284.5 82.2,282.0 82.4,281.7 82.5,282.1 82.6,281.6 82.7,283.5 82.8,283.3 83.0,282.0 83.1,281.2 83.2,280.6 83.3,281.6 83.4,280.5 83.6,281.8 83.6,279.9 83.7,280.1 83.8,280.9 83.9,280.4 84.0,280.7 84.2,280.0 84.3,279.2 84.4,279.8 84.5,280.1 84.6,279.3 84.8,279.9 84.9,278.8 85.0,279.1 85.1,278.8 85.2,278.7 85.4,277.7 85.5,278.0 85.6,278.0 85.7,276.9 85.7,277.3 85.8,276.6 86.0,276.4 86.1,275.9 86.2,275.1 86.3,274.8 86.4,274.2 86.6,273.8 86.7,273.0 86.8,273.1 86.9,272.4 87.0,272.0 87.1,271.4 87.2,270.0 87.3,268.6 87.4,265.9 87.5,264.1 87.6,262.1 87.8,259.7 87.9,257.6 88.0,255.4 88.1,253.4 88.2,251.2 88.3,250.1 88.4,248.4 88.5,245.7 88.6,242.6 88.7,239.4 88.8,236.0 89.0,232.9 89.0,231.9 89.1,230.5 89.2,228.2 89.3,226.4 89.4,224.6 89.6,222.5 89.7,220.8 89.8,218.4 89.9,219.8 90.0,221.7 90.2,222.7 90.3,223.9 90.4,226.0 90.5,226.9 90.6,228.0 90.6,228.9 90.8,231.4 90.9,233.4 91.0,236.1 91.1,238.1 91.2,240.3 91.4,242.8 91.5,245.1 91.5,245.3 91.6,247.4 91.7,249.9 91.8,252.3 92.0,254.5 92.1,256.8 92.2,259.1 92.3,261.7 92.4,264.0 92.5,265.3 92.6,265.5 92.7,266.9 92.8,268.1 92.9,268.9 93.0,270.2 93.2,270.9 93.3,272.2 93.4,273.7 93.5,274.6 93.6,275.8 93.8,277.1 93.9,277.8 94.0,278.8 94.1,280.2 94.2,281.2 94.2,280.6 94.4,281.5 94.5,281.9 94.6,281.7 94.7,282.3 94.8,282.5 95.0,282.8 95.1,283.4 95.2,283.1 95.3,284.3 95.4,284.4 95.6,284.7 95.7,284.9 95.8,285.4 95.9,285.9 96.0,285.4 96.2,286.7 96.3,286.5 96.4,286.8 96.5,287.2 96.6,287.5 96.8,287.8 96.9,288.5 97.0,288.8 97.1,288.6 97.2,288.4 97.4,287.7 97.5,287.8 97.6,287.4 97.7,286.9 97.8,286.8 98.0,286.6 98.1,286.0 98.2,286.2 98.3,285.8 98.4,285.7 98.6,285.1 98.7,285.3 98.8,284.8 98.9,284.5 99.0,284.4 99.2,283.8 99.2,284.2 99.3,282.9 99.4,282.0 99.5,280.2 99.6,278.9 99.8,277.1 99.9,275.8 100.0,274.4 100.1,273.5 100.2,272.0 100.4,270.1 100.4,269.9 100.5,266.5 100.6,261.6 100.7,256.5 100.8,251.5 101.0,246.5 101.0,245.3 101.1,242.3 101.2,237.9 101.3,233.1 101.4,229.3 101.6,224.9 101.6,223.2 101.7,225.4 101.8,228.0 101.9,231.3 102.0,233.7 102.2,236.6 102.3,239.9 102.3,240.0 102.4,243.9 102.5,249.0 102.6,253.4 102.8,258.5 102.9,263.2 103.0,267.9 103.1,269.9 103.2,272.0 103.4,274.1 103.5,276.9 103.6,278.9 103.7,280.7 103.8,283.1 103.9,283.8 104.0,284.5 104.1,285.7 104.2,286.5 104.3,287.6 104.4,288.6 104.6,290.0 104.7,291.2 104.8,291.3 104.9,292.6 105.0,293.0 105.2,294.2 105.2,294.4 105.3,294.5 105.4,295.0 105.5,293.4 105.6,292.5 105.8,295.9 105.9,298.0 106.0,295.9 106.1,293.5 106.2,293.6 106.4,295.7 106.5,293.3 106.6,292.0 106.7,294.3 106.8,287.1 107.0,294.6 107.1,297.1 107.2,295.4 107.3,299.0 107.4,293.7 107.6,298.7 107.7,293.8 107.8,293.8 107.9,296.5 108.0,295.7 108.2,296.5 108.3,294.1 108.4,296.5 108.5,299.2 108.6,296.7 108.8,294.7 108.9,295.5 109.0,298.3 109.1,293.8 109.2,295.4 109.4,294.1 109.5,296.0 109.6,300.1 109.7,295.9 109.8,295.8 110.0,296.6 110.0,294.2 110.1,300.3 110.2,296.2 110.3,299.5 110.4,295.9 110.6,296.4 110.7,293.3 110.8,298.2 110.9,293.5 111.0,299.3 111.2,297.4 111.3,296.2 111.4,299.3 111.5,300.3 111.6,295.9 111.8,297.1 111.9,296.6 112.0,300.3 112.1,300.0 112.2,296.7 112.4,297.7 112.5,295.9 112.6,297.4 112.7,294.1 112.8,299.9 113.0,296.4 113.1,297.4 113.2,295.4 113.3,293.6 113.4,298.4 113.6,296.4 113.7,298.8 113.8,298.0 113.9,297.8 114.0,298.2 114.2,298.8 114.3,297.5 114.4,296.7 114.5,298.2 114.6,297.0 114.8,294.8 114.9,296.3 115.0,297.8 115.1,293.7 115.2,295.8 115.4,297.5 115.5,298.6 115.6,295.7 115.7,296.9 115.8,296.2 116.0,300.4 116.1,296.1 116.2,294.1 116.3,298.6 116.4,296.5 116.6,299.7 116.7,299.4 116.8,294.2 116.9,297.6 117.0,298.9 117.2,299.0 117.3,296.1 117.4,298.3 117.5,299.0 117.6,296.5 117.8,298.4 117.9,297.8 118.0,298.1 118.1,295.6 118.2,300.0 118.4,297.2 118.5,299.1 118.6,298.2 118.7,294.4 118.8,298.8 119.0,296.4 119.1,293.3 119.2,296.0 119.3,297.2 119.4,296.1 119.6,299.3 119.7,296.2 119.8,300.0 119.9,295.1 120.0,298.4 120.2,299.2 120.3,296.8 120.4,298.8 120.5,296.1 120.6,297.1 120.8,295.1 120.9,298.6 121.0,297.0 121.1,300.5 121.2,298.4 121.4,298.9 121.5,296.0 121.6,293.3 121.7,298.3 121.8,296.8 122.0,293.3 122.1,296.6 122.2,294.7 122.3,297.1 122.4,296.6 122.6,294.5 122.7,296.1 122.8,296.1 122.9,295.4 123.0,296.0 123.2,296.9 123.3,297.4 123.4,293.6 123.5,296.6 123.6,296.3 123.8,295.6 123.9,299.9 124.0,296.8 124.1,295.7 124.2,297.9 124.4,293.8 124.5,295.1 124.6,300.2 124.7,295.9 124.8,295.3 125.0,296.4 125.1,298.5 125.2,295.1 125.3,297.7 125.4,299.6 125.6,295.3 125.7,297.4 125.8,294.9 125.9,296.3 126.0,297.2 126.2,294.6 126.3,299.2 126.4,296.1 126.5,295.4 126.6,295.0 126.8,297.0 126.9,297.8 127.0,293.4 127.1,297.4 127.2,298.7 127.4,294.5 127.5,297.6 127.6,297.8 127.7,296.8 127.8,294.6 128.0,298.4 128.1,297.3 128.2,295.7 128.3,299.5 128.4,295.3 128.6,294.9 128.7,297.7 128.8,297.3 128.9,298.6 129.0,296.8 129.2,294.4 129.3,298.7 129.4,295.9 129.5,296.1 129.6,300.5 129.8,299.2 129.9,300.7 130.0,297.1 130.1,296.2 130.2,296.6 130.4,298.7 130.5,298.5 130.6,298.4 130.7,297.9 130.8,299.8 131.0,295.2 131.1,296.7 131.2,298.1 131.3,293.7 131.4,297.5 131.6,297.3 131.7,293.9 131.8,295.5 131.9,299.0 132.0,300.7 132.2,294.2 132.3,297.8 132.4,300.8 132.5,294.9 132.6,295.9 132.8,296.1 132.9,297.8 133.0,300.8 133.1,297.2 133.2,297.0 133.4,296.1 133.5,297.2 133.6,293.5 133.7,300.8 133.8,298.7 134.0,295.2 134.1,299.8 134.2,296.0 134.3,297.0 134.4,293.6 134.6,297.2 134.7,295.5 134.8,297.8 134.9,297.9 135.0,294.4 135.2,300.4 135.3,294.5 135.4,298.1 135.5,299.9 135.6,295.1 135.8,294.2 135.9,298.8 136.0,297.8 136.1,296.8 136.2,299.6 136.4,297.1 136.5,295.7 136.6,296.7 136.7,294.4 136.8,295.4 137.0,296.1 137.1,295.8 137.2,298.3 137.3,294.7 137.4,294.6 137.6,297.6 137.7,299.9 137.8,296.0 137.9,299.2 138.0,298.6 138.2,296.2 138.3,299.7 138.4,299.4 138.5,298.9 138.6,294.6 138.8,295.9 138.9,300.9 139.0,297.5 139.1,299.7 139.2,296.4 139.4,300.2 139.5,298.7 139.6,299.5 139.7,298.2 139.8,293.7 140.0,299.0 140.0,297.8 140.1,295.1 140.2,297.5 140.3,300.9 140.4,294.3 140.6,300.8 140.7,297.6 140.8,299.9 140.9,296.0 141.0,295.9 141.2,298.5 141.3,292.3 141.4,299.1 141.5,297.8 141.6,300.9 141.8,300.0 141.9,295.1 142.0,300.9 142.1,299.6 142.2,294.1 142.4,290.2 142.5,297.7 142.6,300.3 142.7,300.7 142.8,298.6 143.0,297.6 143.1,297.3 143.2,297.7 143.3,297.5 143.4,296.6 143.6,300.9 143.7,297.4 143.8,297.2 143.9,297.2 144.0,293.9 144.2,299.2 144.3,298.8 144.4,298.8 144.5,297.7 144.6,299.6 144.8,295.0 144.9,294.4 145.0,299.7 145.1,297.0 145.2,300.9 145.4,299.1 145.5,300.6 145.6,296.8 145.7,294.7 145.8,296.5 146.0,295.8 146.1,298.1 146.2,297.8 146.3,300.7 146.4,300.1 146.6,297.0 146.7,300.3 146.8,297.6 146.9,298.2 147.0,298.7 147.2,296.0 147.3,298.4 147.4,297.1 147.5,298.0 147.6,300.9 147.8,300.7 147.9,294.6 148.0,294.7 148.1,297.7 148.2,294.0 148.4,294.6 148.5,300.0 148.6,294.5 148.7,299.9 148.8,298.4 149.0,294.7 149.1,295.5 149.2,300.9 149.3,289.6 149.4,296.4 149.6,294.2 149.7,296.9 149.8,298.1 149.9,298.8 150.0,296.2 150.2,293.0 150.3,296.4 150.4,295.5 150.5,296.7 150.6,300.9 150.8,294.9 150.9,295.4 151.0,300.9 151.1,296.9 151.2,296.9 151.4,296.8 151.5,298.2 151.6,297.6 151.7,300.9 151.8,298.4 152.0,298.5 152.1,296.7 152.2,296.9 152.3,295.1 152.4,296.0 152.6,296.2 152.7,298.2 152.8,297.0 152.9,294.5 153.0,296.8 153.2,300.9 153.3,300.9 153.4,297.1 153.5,296.0 153.6,290.2 153.8,296.9 153.9,296.9 154.0,296.7 154.1,300.3 154.2,298.0 154.4,296.3 154.5,295.9 154.6,300.9 154.7,297.2 154.8,298.3 155.0,298.3 155.1,297.5 155.2,296.3 155.3,300.7 155.4,295.8 155.6,296.0 155.7,297.7 155.8,296.8 155.9,296.4 156.0,299.9 156.2,295.1 156.3,293.9 156.4,296.1 156.5,293.8 156.6,296.8 156.8,297.5 156.9,300.8 157.0,295.8 157.1,300.9 157.2,298.5 157.4,297.1 157.5,293.7 157.6,294.8 157.7,297.2 157.8,295.9 158.0,294.0 158.1,295.0 158.2,293.8 158.3,293.8 158.4,296.0 158.6,299.3 158.7,295.6 158.8,298.4 158.9,296.0 159.0,297.1 159.2,297.1 159.3,296.0 159.4,297.1 159.5,299.1 159.6,295.6 159.8,297.1 159.9,295.7 160.0,293.8 160.1,296.3 160.2,298.8 160.4,296.1 160.5,297.5 160.6,297.8 160.7,299.5 160.8,296.9 161.0,295.8 161.1,300.0 161.2,297.3 161.3,297.8 161.4,296.9 161.6,297.9 161.7,293.9 161.8,298.6 161.9,296.1 162.0,299.4 162.2,300.2 162.3,295.5 162.4,296.1 162.5,299.3 162.6,297.8 162.8,296.0 162.9,298.1 163.0,299.6 163.1,293.1 163.2,295.8 163.4,297.2 163.5,296.7 163.6,297.0 163.7,297.9 163.8,299.7 164.0,294.9 164.1,299.2 164.2,296.1 164.3,299.3 164.4,293.2 164.6,297.4 164.7,297.6 164.8,295.4 164.9,289.7 165.0,295.6 165.2,297.4 165.3,294.5 165.4,293.8 165.5,298.5 165.6,298.8 165.8,296.1 165.9,300.8 166.0,295.2 166.1,295.4 166.2,293.8 166.4,299.6 166.5,297.2 166.6,298.7 166.7,295.1 166.8,298.4 167.0,298.4 167.1,293.8 167.2,301.0 167.3,294.6 167.4,299.8 167.6,298.2 167.7,296.8 167.8,293.5 167.9,299.5 168.0,301.0 168.2,296.8 168.3,294.1 168.4,296.8 168.5,296.9 168.6,296.3 168.8,296.4 168.9,295.6 169.0,298.7 169.1,298.1 169.2,296.2 169.4,299.5 169.5,296.5 169.6,296.8 169.7,297.4 169.8,295.4 170.0,297.9 170.1,292.3 170.2,296.3 170.3,298.2 170.4,295.9 170.6,293.8 170.7,291.9 170.8,298.8 170.9,297.0 171.0,298.1 171.2,296.2 171.3,298.0 171.4,297.3 171.5,299.0 171.6,292.2 171.8,298.1 171.9,298.9 172.0,300.5 172.1,298.9 172.2,292.0 172.4,296.8 172.5,299.0 172.6,300.5 172.7,299.1 172.8,298.5 173.0,296.8 173.1,297.0 173.2,296.7 173.3,292.7 173.4,296.0 173.6,297.7 173.7,296.5 173.8,298.3 173.9,297.6 174.0,297.8 174.2,296.5 174.3,298.2 174.4,297.4 174.5,298.6 174.6,297.3 174.8,291.3 174.9,296.6 175.0,299.8 175.1,299.4 175.2,297.6 175.4,298.8 175.5,300.8 175.6,298.3 175.7,299.5 175.8,297.8 176.0,296.5 176.1,296.4 176.2,296.2 176.3,298.0 176.4,297.1 176.6,294.8 176.7,300.1 176.8,296.5 176.9,297.1 177.0,298.2 177.2,298.2 177.3,300.0 177.4,298.2 177.5,296.7 177.6,297.6 177.8,300.0 177.9,297.0 178.0,301.0 178.1,294.2 178.2,297.2 178.4,299.1 178.5,297.8 178.6,295.9 178.7,297.2 178.8,297.1 179.0,298.7 179.1,299.2 179.2,299.2 179.3,295.5 179.4,298.0 179.6,297.1 179.7,296.7 179.8,296.4 179.9,297.7 180.0,295.5 180.2,300.7 180.3,293.8 180.4,299.9 180.5,297.6 180.6,296.7 180.8,295.7 180.9,295.2 181.0,295.2 181.1,298.1 181.2,297.3 181.4,297.9 181.5,297.1 181.6,299.4 181.7,297.0 181.8,298.0 182.0,299.5 182.1,298.1 182.2,297.8 182.3,298.3 182.4,294.7 182.6,296.2 182.7,297.4 182.8,298.4 182.9,293.8 183.0,297.5 183.2,298.2 183.3,297.8 183.4,297.2 183.5,299.0 183.6,296.8 183.8,297.5 183.9,297.9 184.0,297.3 184.1,296.3 184.2,298.4 184.4,301.0 184.5,294.8 184.6,297.3 184.7,297.0 184.8,295.3 185.0,297.3 185.1,297.2 185.2,296.5 185.3,296.0 185.4,296.5 185.6,297.4 185.7,300.5 185.8,298.1 185.9,298.2 186.0,300.3 186.2,298.7 186.3,300.2 186.4,296.8 186.5,296.9 186.6,297.4 186.8,297.2 186.9,298.8 187.0,300.4 187.1,297.3 187.2,294.8 187.4,297.5 187.5,296.0 187.6,296.2 187.7,300.8 187.8,298.7 188.0,296.3 188.1,297.4 188.2,295.4 188.3,296.5 188.4,300.3 188.6,296.7 188.7,295.3 188.8,296.8 188.9,299.0 189.0,299.0 189.2,296.7 189.3,298.8 189.4,300.2 189.5,297.8 189.6,295.3 189.8,297.5 189.9,298.9 190.0,296.8 190.1,299.2 190.2,299.9 190.4,300.3 190.5,295.0 190.6,298.3 190.7,295.6 190.8,293.9 191.0,294.5 191.1,295.8 191.2,296.0 191.3,300.6 191.4,297.3 191.6,297.2 191.7,299.1 191.8,295.6 191.9,297.7 192.0,298.3 192.2,298.0 192.3,301.0 192.4,298.3 192.5,297.5 192.6,301.0 192.8,301.0 192.9,298.0 193.0,298.6 193.1,298.1 193.2,299.1 193.4,296.5 193.5,296.0 193.6,297.8 193.7,299.0 193.8,296.1 194.0,299.8 194.1,300.0 194.2,294.1 194.3,298.9 194.4,297.6 194.6,300.6 194.7,296.9 194.8,295.4 194.9,297.3 195.0,298.4 195.2,296.4 195.3,296.4 195.4,295.6 195.5,297.6 195.6,299.0 195.8,297.3 195.9,296.8 196.0,295.9 196.1,299.3 196.2,294.7 196.4,298.0 196.5,295.7 196.6,294.0 196.7,300.0 196.8,297.1 197.0,295.3 197.1,299.4 197.2,295.7 197.3,293.9 197.4,298.4 197.6,299.1 197.7,298.1 197.8,296.7 197.9,297.2 198.0,297.6 198.2,297.4 198.3,297.2 198.4,298.4 198.5,299.0 198.6,298.7 198.8,295.5 198.9,301.0 199.0,297.5 199.1,297.4 199.2,295.3 199.4,298.3 199.5,296.6 199.6,298.9 199.7,297.0 199.8,298.3 200.0,298.2 200.1,301.0 200.2,296.7 200.3,299.0 200.4,296.1 200.6,295.5 200.7,299.0 200.8,296.2 200.9,299.1 201.0,296.8 201.2,298.4 201.3,300.9 201.4,295.9 201.5,301.0 201.6,298.5 201.8,297.9 201.9,295.9 202.0,298.8 202.1,294.8 202.2,298.3 202.4,298.4 202.5,296.0 202.6,299.7 202.7,298.4 202.8,297.4 203.0,300.2 203.1,294.9 203.2,293.9 203.3,298.2 203.4,300.2 203.6,295.8 203.7,297.0 203.8,298.5 203.9,297.2 204.0,298.3 204.2,297.2 204.3,294.6 204.4,295.6 204.5,297.2 204.6,295.4 204.8,298.0 204.9,297.5 205.0,296.4 205.1,299.9 205.2,300.5 205.4,298.5 205.5,298.4 205.6,299.5 205.7,296.4 205.8,296.7 206.0,293.9 206.1,295.6 206.2,297.1 206.3,298.2 206.4,295.7 206.6,298.2 206.7,296.4 206.8,296.3 206.9,290.1 207.0,296.8 207.2,299.6 207.3,297.1 207.4,296.6 207.5,298.2 207.6,297.8 207.8,297.8 207.9,296.6 208.0,298.0 208.1,300.4 208.2,297.2 208.4,299.7 208.5,297.8 208.6,299.5 208.7,295.8 208.8,299.5 209.0,297.6 209.1,294.5 209.2,294.3 209.3,299.0 209.4,297.8 209.6,291.6 209.7,300.7 209.8,299.1 209.9,298.5 210.0,298.0 210.2,296.2 210.3,296.7 210.4,301.1 210.5,298.2 210.6,299.9 210.8,294.8 210.9,296.0 211.0,299.4 211.1,296.1 211.2,297.5 211.4,298.6 211.5,298.7 211.6,298.7 211.7,296.3 211.8,296.7 212.0,298.1 212.1,299.5 212.2,293.9 212.3,299.9 212.4,296.0 212.6,297.7 212.7,297.4 212.8,299.4 212.9,301.1 213.0,296.9 213.2,296.1 213.3,298.5 213.4,296.7 213.5,296.9 213.6,297.3 213.8,300.1 213.9,297.2 214.0,301.1 214.1,297.9 214.2,297.8 214.4,298.6 214.5,299.1 214.6,296.7 214.7,293.9 214.8,297.0 215.0,297.2 215.1,296.0 215.2,298.5 215.3,298.4 215.4,300.2 215.6,297.0 215.7,297.4 215.8,296.4 215.9,297.7 216.0,295.3 216.2,298.2 216.3,297.0 216.4,298.7 216.5,297.7 216.6,296.5 216.8,297.3 216.9,298.6 217.0,297.5 217.1,299.0 217.2,298.5 217.4,298.1 217.5,297.1 217.6,298.2 217.7,297.5 217.8,297.9 218.0,298.4 218.1,297.0 218.2,299.8 218.3,297.2 218.4,298.4 218.6,296.5 218.7,298.2 218.8,301.1 218.9,299.5 219.0,296.8 219.2,295.3 219.3,296.6 219.4,297.2 219.5,297.0 219.6,300.3 219.8,300.2 219.9,294.2 220.0,296.6 220.1,301.1 220.2,300.7 220.4,296.5 220.5,297.6 220.6,299.0 220.7,298.0 220.8,298.7 221.0,291.4 221.1,294.3 221.2,293.9 221.3,296.4 221.4,294.3 221.6,297.2 221.7,292.2 221.8,296.5 221.9,299.8 222.0,298.9 222.2,297.7 222.3,298.4 222.4,297.5 222.5,299.8 222.6,297.7 222.8,298.2 222.9,293.8 223.0,298.2 223.1,295.8 223.2,294.5 223.4,300.2 223.5,298.3 223.6,299.2 223.7,297.3 223.8,294.6 224.0,299.2 224.1,298.7 224.2,298.0 224.3,299.2 224.4,295.3 224.6,298.9 224.7,298.3 224.8,297.0 224.9,298.1 225.0,297.3 225.2,296.7 225.3,296.2 225.4,297.8 225.5,298.6 225.6,300.2 225.8,295.9 225.9,298.8 226.0,300.3 226.1,296.3 226.2,294.6 226.4,298.9 226.5,297.1 226.6,300.4 226.7,299.0 226.8,297.8 227.0,297.1 227.1,296.8 227.2,299.9 227.3,299.2 227.4,298.1 227.6,297.4 227.7,295.3 227.8,295.2 227.9,300.4 228.0,292.1 228.2,297.4 228.3,300.8 228.4,297.6 228.5,297.7 228.6,297.5 228.8,297.9 228.9,299.6 229.0,297.6 229.1,299.9 229.2,298.2 229.4,299.6 229.5,300.3 229.6,298.0 229.7,297.4 229.8,300.5 230.0,297.4 230.1,297.7 230.2,295.6 230.3,297.7 230.4,297.3 230.6,298.0 230.7,297.2 230.8,301.1 230.9,297.6 231.0,297.8 231.2,298.5 231.3,295.7 231.4,298.5 231.5,295.6 231.6,300.0 231.8,294.9 231.9,298.7 232.0,300.1 232.1,294.0 232.2,291.6 232.4,300.5 232.5,299.3 232.6,296.9 232.7,295.7 232.8,298.0 233.0,295.2 233.1,296.2 233.2,296.6 233.3,298.5 233.4,295.2 233.6,297.0 233.7,299.5 233.8,296.3 233.9,296.6 234.0,297.1 234.2,296.9 234.3,297.9 234.4,297.5 234.5,298.8 234.6,297.5 234.8,299.3 234.9,298.3 235.0,295.9 235.1,300.4 235.2,299.9 235.4,298.4 235.5,298.4 235.6,297.8 235.7,298.8 235.8,298.2 236.0,294.4 236.1,298.2 236.2,301.1 236.3,297.3 236.4,296.0 236.6,298.0 236.7,298.1 236.8,298.4 236.9,297.6 237.0,301.0 237.2,297.3 237.3,297.1 237.4,291.3 237.5,296.2 237.6,296.9 237.8,301.0 237.9,296.9 238.0,298.3 238.1,300.5 238.2,297.8 238.4,297.4 238.5,299.3 238.6,296.1 238.7,299.4 238.8,301.1 239.0,297.0 239.1,296.3 239.2,298.2 239.3,300.1 239.4,294.5 239.6,298.3 239.7,299.6 239.8,301.1 239.9,299.3 240.0,295.3 240.2,296.2 240.3,295.5 240.4,297.3 240.5,297.2 240.6,297.5 240.8,299.3 240.9,296.8 241.0,297.0 241.1,295.0 241.2,299.0 241.4,299.8 241.5,297.4 241.6,298.6 241.7,296.8 241.8,297.3 242.0,298.4 242.1,295.6 242.2,299.7 242.3,297.7 242.4,296.2 242.6,291.5 242.7,298.0 242.8,295.4 242.9,297.1 243.0,296.9 243.2,295.4 243.3,295.9 243.4,299.4 243.5,298.8 243.6,297.7 243.8,297.7 243.9,298.1 244.0,298.4 244.1,300.5 244.2,297.9 244.4,300.8 244.5,301.0 244.6,297.7 244.7,295.7 244.8,300.2 245.0,295.9 245.1,296.0 245.2,295.3 245.3,298.7 245.4,298.2 245.6,298.1 245.7,299.6 245.8,299.5 245.9,300.5 246.0,297.9 246.2,296.9 246.3,300.1 246.4,297.9 246.5,301.1 246.6,292.8 246.8,297.5 246.9,294.5 247.0,295.3 247.1,297.6 247.2,298.2 247.4,298.3 247.5,294.6 247.6,297.8 247.7,297.0 247.8,297.2 248.0,300.3 248.1,296.9 248.2,296.8 248.3,297.4 248.4,298.0 248.6,296.3 248.7,297.5 248.8,301.1 248.9,298.1 249.0,294.7 249.2,297.2 249.3,296.7 249.4,299.1 249.5,299.5 249.6,295.1 249.8,298.7 249.9,296.9 250.0,296.5 250.1,295.1 250.2,296.5 250.4,299.7 250.5,300.7 250.6,298.7 250.7,296.7 250.8,301.1 251.0,296.9 251.1,297.3 251.2,295.9 251.3,298.5 251.4,297.6 251.6,298.9 251.7,298.5 251.8,301.2 251.9,299.6 252.0,297.1 252.2,299.4 252.3,300.0 252.4,299.6 252.5,298.1 252.6,299.0 252.8,296.4 252.9,298.8 253.0,296.3 253.1,295.0 253.2,296.7 253.4,297.1 253.5,298.2 253.6,296.5 253.7,296.8 253.8,295.5 254.0,297.5 254.1,295.3 254.2,299.4 254.3,297.4 254.4,298.9 254.6,296.1 254.7,300.0 254.8,296.1 254.9,297.0 255.0,295.1 255.2,300.3 255.3,297.6 255.4,297.5 255.5,294.4 255.6,297.6 255.8,295.7 255.9,298.8 256.0,297.3 256.1,295.9 256.2,297.5 256.4,298.4 256.5,298.9 256.6,294.7 256.7,295.4 256.8,299.5 257.0,298.1 257.1,296.6 257.2,298.0 257.3,299.5 257.4,297.3 257.6,299.6 257.7,299.6 257.8,296.3 257.9,301.2 258.0,291.3 258.2,297.4 258.3,300.9 258.4,298.4 258.5,299.4 258.6,300.4 258.8,300.4 258.9,296.2 259.0,297.5 259.1,298.0 259.2,298.1 259.4,299.9 259.5,300.4 259.6,298.2 259.7,296.5 259.8,298.7 260.0,300.0 260.1,299.1 260.2,300.8 260.3,297.9 260.4,299.4 260.6,296.4 260.7,298.7 260.8,295.8 260.9,298.1 261.0,299.3 261.2,298.5 261.3,300.1 261.4,297.6 261.5,298.8 261.6,297.9 261.8,298.5 261.9,294.8 262.0,298.6 262.1,300.0 262.2,300.2 262.4,294.1 262.5,294.3 262.6,299.2 262.7,294.1 262.8,297.0 263.0,295.7 263.1,296.4 263.2,300.5 263.3,295.3 263.4,296.8 263.6,301.1 263.7,296.9 263.8,297.0 263.9,296.7 264.0,299.3 264.2,296.7 264.3,295.9 264.4,301.2 264.5,299.1 264.6,297.5 264.8,292.8 264.9,294.8 265.0,296.5 265.1,300.6 265.2,297.8 265.4,298.1 265.5,296.4 265.6,296.9 265.7,298.5 265.8,298.3 266.0,297.1 266.1,294.4 266.2,297.7 266.3,298.7 266.4,295.7 266.6,297.0 266.7,297.3 266.8,298.2 266.9,294.4 267.0,298.0 267.2,298.9 267.3,296.4 267.4,293.4 267.5,292.7 267.6,296.9 267.8,299.8 267.9,297.4 268.0,298.1 268.1,292.4 268.2,297.4 268.4,298.5 268.5,298.2 268.6,301.2 268.7,294.6 268.8,298.1 269.0,296.4 269.1,297.4 269.2,297.3 269.3,300.3 269.4,299.0 269.6,297.1 269.7,296.4 269.8,297.4 269.9,298.1 270.0,300.6 270.2,301.2 270.3,294.7 270.4,299.6 270.5,298.3 270.6,295.6 270.8,294.7 270.9,301.2 271.0,299.3 271.1,298.4 271.2,297.5 271.4,298.7 271.5,300.4 271.6,297.7 271.7,299.2 271.8,292.9 272.0,295.5 272.1,299.6 272.2,296.4 272.3,298.9 272.4,298.0 272.6,298.2 272.7,298.7 272.8,298.9 272.9,295.9 273.0,299.7 273.2,299.0 273.3,296.7 273.4,296.1 273.5,299.9 273.6,296.5 273.8,301.2 273.9,298.1 274.0,296.0 274.1,298.3 274.2,297.2 274.4,294.1 274.5,298.6 274.6,297.5 274.7,294.1 274.8,297.2 275.0,298.0 275.1,297.4 275.2,296.6 275.3,300.5 275.4,297.1 275.6,299.0 275.7,300.6 275.8,297.9 275.9,298.5 276.0,294.8 276.2,296.8 276.3,297.6 276.4,295.9 276.5,299.4 276.6,297.2 276.8,297.5 276.9,297.8 277.0,298.8 277.1,294.2 277.2,298.4 277.4,298.3 277.5,299.9 277.6,299.3 277.7,294.0 277.8,296.7 278.0,297.3 278.1,297.7 278.2,299.6 278.3,294.1 278.4,295.0 278.6,296.0 278.7,295.7 278.8,298.5 278.9,301.2 279.0,296.1 279.2,297.2 279.3,299.4 279.4,295.1 279.5,297.9 279.6,296.0 279.8,297.0 279.9,295.2 280.0,298.2 280.1,298.2 280.2,298.3 280.4,296.9 280.5,299.8 280.6,296.7 280.7,297.6 280.8,299.7 281.0,296.8 281.1,301.0 281.2,294.6 281.3,299.4 281.4,296.3 281.6,295.9 281.7,298.0 281.8,299.0 281.9,296.8 282.0,296.8 282.2,299.4 282.3,294.7 282.4,298.1 282.5,298.6 282.6,292.9 282.8,297.4 282.9,299.1 283.0,297.5 283.1,297.5 283.2,299.1 283.4,295.7 283.5,299.0 283.6,298.4 283.7,299.7 283.8,295.7 284.0,294.6 284.1,295.3 284.2,299.1 284.3,294.2 284.4,299.1 284.6,297.4 284.7,296.3 284.8,298.9 284.9,295.6 285.0,296.1 285.2,297.0 285.3,295.4 285.4,300.5 285.5,299.2 285.6,300.5 285.8,301.2 285.9,294.5 286.0,298.6 286.1,297.5 286.2,300.8 286.4,296.8 286.5,300.4 286.6,295.2 286.7,298.2 286.8,297.7 287.0,298.5 287.1,298.6 287.2,300.6 287.3,294.6 287.4,295.3 287.6,296.6 287.7,294.6 287.8,298.6 287.9,297.4 288.0,297.6 288.2,301.2 288.3,301.0 288.4,296.4 288.5,296.7 288.6,298.2 288.8,297.8 288.9,297.0 289.0,298.6 289.1,298.5 289.2,298.7 289.4,297.7 289.5,297.2 289.6,301.2 289.7,298.8 289.8,300.7 290.0,299.0 290.1,297.4 290.2,299.5 290.3,296.5 290.4,294.8 290.6,294.1 290.7,301.2 290.8,295.8 290.9,298.6 291.0,293.9 291.2,296.7 291.3,299.4 291.4,298.4 291.5,297.5 291.6,294.1 291.8,299.4 291.9,294.7 292.0,299.0 292.1,297.4 292.2,298.9 292.4,301.2 292.5,297.1 292.6,296.7 292.7,296.8 292.8,297.5 293.0,296.8 293.1,300.6 293.2,296.4 293.3,298.2 293.4,297.8 293.6,294.7 293.7,295.6 293.8,299.3 293.9,298.8 294.0,296.9 294.2,294.2 294.3,294.2 294.4,295.1 294.5,296.9 294.6,298.5 294.8,294.9 294.9,295.6 295.0,297.9 295.1,297.2 295.2,299.1 295.4,297.5 295.5,301.2 295.6,297.1 295.7,297.2 295.8,298.7 296.0,297.7 296.1,296.9 296.2,295.4 296.3,296.9 296.4,298.8 296.6,300.2 296.7,299.4 296.8,296.7 296.9,297.5 297.0,295.1 297.2,295.2 297.3,295.7 297.4,297.0 297.5,297.4 297.6,297.0 297.8,297.6 297.9,299.9 298.0,298.5 298.1,294.2 298.2,297.6 298.4,298.2 298.5,301.1 298.6,298.9 298.7,295.4 298.8,297.1 299.0,298.8 299.1,297.2 299.2,299.0 299.3,298.3 299.4,297.4 299.6,297.5 299.7,297.2 299.8,301.3 299.9,295.4 300.0,296.0 300.0,297.9 300.2,299.1 300.3,295.0 300.4,294.6 300.5,299.8 300.6,295.1 300.8,296.9 300.9,298.0 301.0,297.7 301.1,295.1 301.2,299.8 301.4,301.1 301.5,298.5 301.6,299.4 301.7,298.2 301.8,295.9 302.0,300.0 302.1,298.6 302.2,294.1 302.3,297.7 302.4,298.7 302.6,296.7 302.7,298.5 302.8,300.2 302.9,298.5 303.0,298.0 303.2,298.3 303.3,298.1 303.4,295.6 303.5,294.3 303.6,297.1 303.8,297.8 303.9,298.3 304.0,298.8 304.1,291.4 304.2,294.6 304.4,297.8 304.5,299.0 304.6,300.5 304.7,299.9 304.8,299.7 305.0,299.0 305.1,294.7 305.2,299.3 305.3,299.8 305.4,299.1 305.6,296.5 305.7,296.9 305.8,301.1 305.9,301.1 306.0,298.8 306.2,295.7 306.3,296.2 306.4,296.3 306.5,299.6 306.6,297.6 306.8,296.3 306.9,301.1 307.0,296.4 307.1,299.2 307.2,299.0 307.4,298.1 307.5,295.2 307.6,297.9 307.7,292.7 307.8,297.8 308.0,298.7 308.1,298.0 308.2,298.9 308.3,297.4 308.4,297.2 308.6,299.2 308.7,296.1 308.8,296.4 308.9,297.6 309.0,299.2 309.2,297.7 309.3,296.1 309.4,297.3 309.5,292.0 309.6,297.0 309.8,299.0 309.9,300.5 310.0,299.5 310.1,295.5 310.2,295.2 310.4,299.0 310.5,298.4 310.6,297.7 310.7,297.6 310.8,297.4 311.0,296.1 311.1,300.5 311.2,301.0 311.3,297.6 311.4,300.2 311.6,297.0 311.7,300.8 311.8,297.4 311.9,300.5 312.0,296.8 312.2,296.4 312.3,301.0 312.4,297.8 312.5,294.9 312.6,297.6 312.8,295.5 312.9,292.9 313.0,296.5 313.1,293.9 313.2,292.1 313.4,295.6 313.5,299.9 313.6,300.6 313.7,297.8 313.8,296.7 314.0,295.3 314.1,298.2 314.2,298.9 314.3,300.9 314.4,296.0 314.6,295.9 314.7,298.0 314.8,298.4 314.9,300.4 315.0,297.1 315.2,297.3 315.3,297.3 315.4,297.7 315.5,297.5 315.6,297.9 315.8,297.3 315.9,297.9 316.0,297.6 316.1,295.7 316.2,295.3 316.4,297.2 316.5,299.1 316.6,296.7 316.7,298.7 316.8,295.5 317.0,294.7 317.1,294.5 317.2,298.2 317.3,299.8 317.4,294.9 317.6,295.1 317.7,298.9 317.8,295.8 317.9,296.5 318.0,298.7 318.2,298.6 318.3,296.7 318.4,298.7 318.5,300.8 318.6,297.6 318.8,294.9 318.9,295.3 319.0,294.0 319.1,296.5 319.2,300.8 319.4,296.9 319.5,300.8 319.6,293.7 319.7,298.9 319.8,291.3 320.0,297.0 320.1,299.0 320.2,296.5 320.3,294.0 320.4,294.5 320.6,297.1 320.7,297.4 320.8,294.0 320.9,296.7 321.0,297.4 321.2,296.4 321.3,299.2 321.4,298.8 321.5,297.4 321.6,298.7 321.8,295.5 321.9,297.1 322.0,293.6 322.1,295.5 322.2,300.4 322.4,295.3 322.5,295.6 322.6,295.7 322.7,293.6 322.8,298.4 323.0,296.8 323.1,294.2 323.2,294.8 323.3,299.1 323.4,298.3 323.6,295.9 323.7,297.9 323.8,297.6 323.9,295.6 324.0,296.2 324.2,296.3 324.3,295.7 324.4,300.7 324.5,296.4 324.6,295.9 324.8,300.7 324.9,293.3 325.0,299.0 325.1,297.1 325.2,298.4 325.4,299.4 325.5,293.9 325.6,294.2 325.7,298.2 325.8,299.0 326.0,298.2 326.1,294.0 326.2,297.3 326.3,298.7 326.4,299.5 326.6,295.1 326.7,295.2 326.8,299.9 326.9,297.0 327.0,298.2 327.2,294.1 327.3,298.9 327.4,297.4 327.5,294.7 327.6,298.8 327.8,298.1 327.9,299.7 328.0,298.6 328.1,296.6 328.2,296.7 328.4,297.9 328.5,296.9 328.6,298.4 328.7,296.9 328.8,298.7 329.0,296.0 329.1,299.0 329.2,299.4 329.3,293.5 329.4,297.5 329.6,295.1 329.7,300.5 329.8,295.4 329.9,289.3 330.0,297.7 330.2,296.0 330.3,296.3 330.4,297.4 330.5,298.7 330.6,297.4 330.8,293.8 330.9,295.8 331.0,298.1 331.1,294.6 331.2,297.2 331.4,297.4 331.5,297.5 331.6,297.0 331.7,297.3 331.8,298.7 332.0,295.1 332.1,295.8 332.2,295.7 332.3,296.7 332.4,298.0 332.6,297.4 332.7,296.3 332.8,296.9 332.9,296.0 333.0,298.8 333.2,297.7 333.3,297.4 333.4,297.7 333.5,294.7 333.6,299.4 333.8,298.4 333.9,296.3 334.0,296.7 334.1,294.2 334.2,299.1 334.4,290.4 334.5,296.5 334.6,298.7 334.7,300.4 334.8,299.3 335.0,296.4 335.1,296.0 335.2,297.3 335.3,295.6 335.4,297.4 335.6,295.9 335.7,297.2 335.8,296.8 335.9,298.2 336.0,298.4 336.2,295.9 336.3,296.3 336.4,295.5 336.5,296.4 336.6,296.7 336.8,296.4 336.9,298.1 337.0,298.0 337.1,295.3 337.2,294.2 337.4,293.5 337.5,297.2 337.6,297.1 337.7,300.3 337.8,297.0 338.0,293.8 338.1,295.1 338.2,296.9 338.3,293.3 338.4,293.3 338.6,296.5 338.7,300.3 338.8,298.4 338.9,295.6 339.0,300.3 339.2,297.3 339.3,298.1 339.4,296.3 339.5,293.8 339.6,296.6 339.8,296.3 339.9,299.2 340.0,300.3 340.1,299.7 340.2,294.0 340.4,300.3 340.5,295.8 340.6,291.7 340.7,295.3 340.8,296.7 341.0,296.5 341.1,296.8 341.2,299.6 341.3,298.8 341.4,296.4 341.6,298.4 341.7,297.7 341.8,296.9 341.9,299.5 342.0,297.5 342.2,296.5 342.3,294.1 342.4,294.7 342.5,297.1 342.6,299.5 342.8,296.3 342.9,295.3 343.0,300.2 343.1,299.1 343.2,295.8 343.4,295.7 343.5,297.4 343.6,298.1 343.7,294.5 343.8,296.5 344.0,296.2 344.1,298.3 344.2,296.3 344.3,296.8 344.4,295.8 344.6,298.8 344.7,298.6 344.8,297.8 344.9,295.6 345.0,294.2 345.2,298.2 345.3,298.0 345.4,300.2 345.5,294.4 345.6,297.1 345.8,294.8 345.9,298.2 346.0,294.3 346.1,298.3 346.2,295.0 346.4,299.6 346.5,296.0 346.6,298.2 346.7,296.3 346.8,297.3 347.0,295.9 347.1,297.6 347.2,296.6 347.3,296.6 347.4,298.4 347.6,294.5 347.7,295.3 347.8,296.8 347.9,297.2 348.0,298.1 348.2,298.0 348.3,294.4 348.4,295.4 348.5,298.6 348.6,295.8 348.8,297.0 348.9,300.1 349.0,295.3 349.1,295.7 349.2,295.1 349.4,298.5 349.5,300.1 349.6,296.2 349.7,296.4 349.8,296.9 350.0,297.2 350.0,299.9 350.1,296.5 350.2,296.9 350.3,298.1 350.4,297.3 350.6,294.6 350.7,297.1 350.8,297.1 350.9,298.8 351.0,295.9 351.2,294.1 351.3,299.7 351.4,297.8 351.5,296.5 351.6,295.2 351.8,299.9 351.9,296.9 352.0,296.4 352.1,295.3 352.2,295.1 352.4,298.0 352.5,294.8 352.6,294.2 352.7,293.7 352.8,298.5 353.0,294.8 353.1,299.8 353.2,296.0 353.3,295.6 353.4,293.7 353.6,298.0 353.7,294.8 353.8,296.1 353.9,292.8 354.0,295.1 354.2,295.2 354.3,298.5 354.4,296.1 354.5,297.4 354.6,296.7 354.8,295.0 354.9,296.4 355.0,293.9 355.1,294.3 355.2,297.3 355.4,297.9 355.5,296.6 355.6,299.5 355.7,294.8 355.8,295.8 356.0,295.2 356.1,294.4 356.2,296.4 356.3,298.8 356.4,296.4 356.6,292.6 356.7,296.0 356.8,296.2 356.9,295.5 357.0,298.3 357.2,296.2 357.3,297.5 357.4,290.8 357.5,297.0 357.6,293.6 357.8,296.6 357.9,294.9 358.0,293.1 358.1,296.1 358.2,295.8 358.4,296.7 358.5,295.3 358.6,296.9 358.7,298.5 358.8,294.5 359.0,295.3 359.1,297.5 359.2,297.5 359.3,294.9 359.4,297.8 359.6,299.4 359.7,299.4 359.8,292.4 359.9,296.7 360.0,297.3 360.2,296.8 360.3,292.8 360.4,297.0 360.5,292.3 360.6,294.2 360.8,295.6 360.9,292.4 361.0,294.5 361.1,296.4 361.2,298.2 361.4,296.5 361.5,297.4 361.6,297.4 361.7,294.4 361.8,297.6 362.0,295.6 362.1,298.9 362.2,297.8 362.3,297.4 362.4,298.4 362.6,295.9 362.7,296.3 362.8,292.9 362.9,294.8 363.0,295.9 363.2,296.2 363.3,295.9 363.4,295.4 363.5,295.5 363.6,296.6 363.8,297.3 363.9,295.4 364.0,296.2 364.1,297.4 364.2,298.6 364.4,299.1 364.5,295.3 364.6,295.9 364.7,294.3 364.8,295.4 365.0,295.7 365.1,298.0 365.2,291.9 365.3,298.4 365.3,294.3 365.4,297.0 365.6,291.1 365.7,293.4 365.8,290.0 365.9,286.7 366.0,284.4 366.0,285.0 366.2,287.8 366.3,289.8 366.4,291.6 366.5,293.3 366.6,293.7 366.8,297.1 366.8,296.9 366.9,295.4 367.0,295.4 367.1,295.6 367.2,294.2 367.4,293.3 367.5,294.7 367.6,296.2 367.7,294.9 367.8,296.0 368.0,293.1 368.1,292.1 368.2,295.9 368.3,294.0 368.4,297.5 368.6,295.0 368.7,295.7 368.8,298.1 368.9,295.4 369.0,293.4 369.2,294.1 369.3,295.5 369.4,295.4 369.5,298.3 369.6,294.6 369.8,295.6 369.9,293.4 370.0,297.0 370.1,294.1 370.2,295.6 370.4,293.3 370.5,291.8 370.6,294.9 370.7,297.8 370.8,295.6 371.0,294.9 371.1,298.2 371.2,297.6 371.3,296.6 371.4,297.5 371.6,297.4 371.7,296.5 371.8,295.8 371.9,292.3 372.0,293.5 372.2,294.4 372.3,294.2 372.4,296.9 372.5,292.9 372.6,294.6 372.8,290.1 372.9,291.0 373.0,296.8 373.1,291.8 373.2,295.5 373.4,296.3 373.5,297.6 373.6,297.9 373.7,293.3 373.8,294.3 374.0,295.9 374.1,293.4 374.2,290.4 374.3,295.8 374.4,293.8 374.6,296.6 374.7,292.4 374.8,297.8 374.9,294.8 375.0,292.7 375.2,297.8 375.3,294.6 375.4,296.0 375.5,297.8 375.6,294.7 375.8,296.3 375.9,292.6 376.0,290.7 376.1,297.7 376.2,297.7 376.4,291.5 376.5,297.6 376.6,294.2 376.7,294.1 376.8,297.0 377.0,292.2 377.1,288.2 377.2,292.9 377.3,293.8 377.4,292.8 377.6,296.2 377.7,292.2 377.8,293.1 377.9,293.8 378.0,295.0 378.2,295.4 378.3,293.7 378.4,292.0 378.5,294.0 378.6,295.1 378.8,291.8 378.9,292.9 379.0,290.4 379.1,292.4 379.2,293.4 379.4,292.7 379.5,295.2 379.6,291.9 379.7,297.1 379.8,292.2 380.0,292.9 380.1,292.1 380.2,293.9 380.3,296.3 380.4,296.1 380.6,295.6 380.7,293.0 380.8,296.6 380.9,294.8 381.0,296.4 381.2,291.6 381.3,295.5 381.4,294.9 381.5,295.7 381.6,293.2 381.8,287.0 381.9,293.5 382.0,295.8 382.1,295.3 382.2,291.0 382.4,294.0 382.5,295.1 382.6,294.3 382.7,294.4 382.8,294.2 383.0,295.1 383.1,293.1 383.2,289.4 383.3,293.4 383.4,292.9 383.6,293.2 383.7,296.0 383.8,292.7 383.9,292.3 384.0,291.2 384.2,295.5 384.3,296.0 384.4,292.5 384.5,292.1 384.6,297.0 384.8,293.8 384.9,291.8 385.0,291.3 385.1,295.0 385.2,293.6 385.4,295.0 385.5,291.6 385.6,294.5 385.7,292.0 385.8,289.6 386.0,296.4 386.1,292.9 386.2,291.3 386.3,295.2 386.4,291.9 386.6,294.6 386.7,291.9 386.8,292.1 386.9,290.0 387.0,289.2 387.2,293.2 387.3,290.6 387.4,292.8 387.5,288.9 387.6,296.0 387.8,291.6 387.9,293.1 388.0,293.3 388.1,290.5 388.2,295.3 388.4,291.0 388.5,293.7 388.6,292.7 388.7,292.6 388.8,293.9 389.0,285.0 389.1,291.7 389.2,290.9 389.3,292.8 389.4,289.8 389.6,294.3 389.7,290.8 389.8,291.6 389.9,294.8 390.0,290.7 390.2,288.1 390.3,293.0 390.4,285.5 390.5,293.4 390.6,289.6 390.8,293.9 390.9,290.0 391.0,292.8 391.1,291.5 391.2,290.7 391.4,293.9 391.5,291.9 391.6,290.9 391.7,293.5 391.8,289.4 392.0,290.3 392.1,292.5 392.2,292.4 392.3,288.8 392.4,291.1 392.6,291.5 392.7,291.3 392.8,289.8 392.9,292.0 393.0,290.4 393.2,292.4 393.3,284.9 393.4,290.9 393.5,294.0 393.6,287.1 393.8,292.0 393.9,290.2 394.0,292.9 394.1,291.9 394.2,292.4 394.4,292.5 394.5,291.0 394.6,293.3 394.7,290.3 394.8,293.5 395.0,282.5 395.1,289.0 395.2,291.1 395.3,288.9 395.4,288.4 395.6,289.4 395.7,292.0 395.8,290.2 395.9,288.3 396.0,291.0 396.2,289.6 396.3,288.6 396.4,289.0 396.5,292.8 396.6,290.3 396.8,285.9 396.9,288.1 397.0,289.8 397.1,291.4 397.2,291.3 397.4,290.7 397.5,290.6 397.6,288.1 397.7,286.3 397.8,290.8 398.0,292.3 398.1,289.9 398.2,291.0 398.3,290.2 398.4,290.6 398.6,287.9 398.6,288.6 398.7,289.8 398.8,289.9 398.9,290.6 399.0,288.8 399.2,287.6 399.3,290.4 399.4,286.0 399.5,288.5 399.6,289.8 399.8,289.1 399.9,284.4 400.0,290.3 400.1,286.4 400.2,285.5 400.4,285.5 400.5,287.4 400.6,285.5 400.7,289.6 400.8,288.8 401.0,288.8 401.1,284.6 401.2,284.6 401.3,286.3 401.4,287.8 401.6,283.2 401.7,287.1 401.8,287.0 401.9,282.1 402.0,284.5 402.2,286.1 402.3,286.9 402.4,285.8 402.5,286.1 402.6,283.5 402.7,286.9 402.8,284.7 402.9,284.2 403.0,284.5 403.1,281.9 403.2,282.1 403.4,284.9 403.5,283.3 403.6,280.5 403.7,282.7 403.8,281.4 404.0,280.9 404.1,281.3 404.2,280.4 404.3,281.2 404.4,279.8 404.6,280.0 404.7,279.4 404.8,279.9 404.9,280.2 405.0,279.8 405.2,278.0 405.3,278.8 405.4,277.6 405.5,277.8 405.6,277.5 405.7,277.5 405.8,276.6 405.9,274.7 406.0,273.1 406.1,271.4 406.2,269.9 406.4,267.8 406.5,266.3 406.5,266.0 406.6,264.6 406.7,263.0 406.8,261.4 407.0,259.8 407.1,258.1 407.2,256.4 407.3,257.3 407.4,257.7 407.6,258.5 407.7,259.1 407.8,259.3 407.9,259.5 408.0,259.4 408.2,258.9 408.3,259.1 408.4,258.9 408.5,259.7 408.6,260.3 408.8,261.2 408.9,261.8 409.0,263.0 409.1,263.4 409.2,264.3 409.4,264.8 409.5,265.8 409.6,266.5 409.7,267.2 409.8,268.1 409.8,267.8 410.0,267.2 410.1,267.2 410.2,266.5 410.3,266.3 410.4,265.8 410.6,265.5 410.7,265.2 410.8,264.7 410.9,264.4 411.0,264.0 411.2,263.7 411.3,263.2 411.4,262.9 411.5,262.9 411.6,262.5 411.6,262.4 411.8,262.3 411.9,261.8 412.0,261.8 412.1,261.4 412.2,261.4 412.4,261.0 412.5,260.6 412.6,260.3 412.7,260.3 412.8,259.9 413.0,259.7 413.1,259.7 413.2,258.9 413.3,258.8 413.4,258.4 413.6,258.4 413.7,258.0 413.8,257.7 413.9,257.8 414.0,257.7 414.2,257.1 414.3,256.8 414.4,256.7 414.5,256.5 414.5,256.6 414.6,256.4 414.8,256.3 414.9,256.0 415.0,255.5 415.1,255.7 415.2,255.6 415.4,255.3 415.5,254.9 415.6,254.9 415.7,254.8 415.8,254.5 416.0,254.3 416.1,254.0 416.2,253.3 416.3,254.0 416.4,253.4 416.6,253.6 416.7,253.4 416.8,253.0 416.9,253.1 417.0,252.5 417.2,252.3 417.3,252.3 417.4,252.4 417.5,251.9 417.6,251.7 417.8,251.5 417.9,251.3 418.0,251.5 418.1,251.2 418.2,250.8 418.4,250.5 418.5,250.7 418.5,250.5 418.6,250.5 418.7,250.0 418.8,250.2 419.0,250.1 419.1,249.9 419.2,249.7 419.3,249.7 419.4,249.7 419.6,249.5 419.7,249.4 419.8,249.3 419.9,249.0 420.0,249.0 420.2,248.9 420.3,248.4 420.4,248.5 420.5,248.6 420.6,248.8 420.8,248.4 420.9,248.0 421.0,248.2 421.1,248.0 421.2,247.7 421.4,248.0 421.5,247.6 421.6,247.3 421.7,247.5 421.8,247.5 422.0,247.3 422.1,247.0 422.2,246.8 422.3,247.2 422.4,246.7 422.6,246.7 422.7,246.6 422.8,246.4 422.9,246.5 423.0,246.2 423.2,245.9 423.3,246.1 423.4,246.0 423.5,245.7 423.6,245.8 423.8,245.2 423.9,245.3 424.0,245.2 424.1,244.9 424.2,244.8 424.4,244.9 424.5,244.8 424.6,244.5 424.7,244.3 424.8,244.0 425.0,244.2 425.0,243.9 425.1,243.9 425.2,243.8 425.3,243.8 425.4,243.6 425.6,243.5 425.7,243.4 425.8,243.2 425.9,242.8 426.0,242.8 426.2,242.7 426.3,242.7 426.3,242.4 426.4,242.3 426.5,242.1 426.6,241.9 426.8,241.6 426.9,241.3 427.0,241.1 427.1,240.8 427.2,240.3 427.4,240.5 427.5,239.9 427.6,240.1 427.7,239.7 427.8,239.5 428.0,239.1 428.0,239.2 428.1,238.8 428.2,238.4 428.3,238.0 428.4,237.4 428.6,237.0 428.7,236.6 428.8,236.2 428.9,235.5 429.0,235.1 429.2,234.9 429.3,234.3 429.4,233.5 429.5,233.3 429.6,232.6 429.7,232.3 429.8,232.3 429.9,231.5 430.0,230.9 430.1,230.4 430.2,229.7 430.4,228.6 430.5,228.1 430.6,227.9 430.7,226.7 430.8,226.4 431.0,225.7 431.0,225.3 431.1,224.8 431.2,223.6 431.3,222.0 431.4,220.7 431.6,219.5 431.6,219.1 431.7,219.0 431.8,218.9 431.9,218.6 432.0,218.1 432.2,217.8 432.3,217.9 432.4,217.8 432.5,216.4 432.6,214.9 432.8,214.0 432.9,212.5 433.0,211.3 433.1,209.9 433.2,208.1 433.4,206.7 433.5,205.1 433.6,203.7 433.7,202.1 433.8,200.6 434.0,198.9 434.1,197.4 434.1,197.2 434.2,194.7 434.3,192.2 434.4,189.4 434.6,186.7 434.7,184.5 434.8,181.6 434.9,179.0 435.0,176.3 435.1,174.8 435.2,175.5 435.3,176.8 435.4,178.1 435.5,178.9 435.6,180.2 435.8,181.8 435.8,181.8 435.9,181.7 436.0,181.3 436.1,181.2 436.2,180.9 436.4,180.7 436.5,180.2 436.6,180.0 436.7,183.0 436.8,185.5 437.0,188.3 437.1,191.0 437.2,193.9 437.3,196.0 437.4,198.9 437.6,201.7 437.7,204.3 437.7,205.2 437.8,208.2 437.9,212.4 438.0,216.4 438.2,220.1 438.3,223.8 438.4,228.0 438.5,229.2 438.6,230.5 438.8,232.0 438.9,233.3 439.0,234.7 439.1,235.8 439.2,236.4 439.2,237.4 439.4,238.3 439.5,239.5 439.6,240.8 439.7,242.1 439.8,243.0 440.0,244.3 440.1,245.2 440.2,246.5 440.3,248.0 440.4,248.6 440.4,248.8 440.6,249.6 440.7,250.5 440.8,251.6 440.9,252.8 441.0,253.5 441.2,254.2 441.3,255.3 441.4,256.1 441.5,257.1 441.5,256.9 441.6,258.2 441.8,259.3 441.9,260.8 442.0,261.9 442.1,262.2"/>
<path stroke="#000" d="M28.6,358.1 28.7,357.6 28.8,355.3 29.0,357.1 29.1,354.4 29.2,358.6 29.3,356.6 29.4,356.6 29.6,355.3 29.7,359.0 29.8,352.5 29.9,354.5 30.0,356.9 30.2,356.9 30.3,357.7 30.4,355.2 30.5,352.1 30.6,352.8 30.8,353.0 30.9,353.9 31.0,357.4 31.1,353.7 31.2,356.3 31.4,359.0 31.5,355.9 31.6,349.7 31.7,357.5 31.8,357.3 32.0,354.5 32.1,353.1 32.2,352.9 32.3,356.7 32.4,355.9 32.6,359.0 32.7,357.6 32.8,353.2 32.9,357.7 33.0,354.8 33.2,357.1 33.3,355.0 33.4,353.9 33.5,353.8 33.6,357.4 33.8,356.0 33.9,354.6 34.0,359.0 34.1,356.8 34.2,355.9 34.4,356.8 34.5,354.4 34.6,357.1 34.7,354.7 34.8,352.9 35.0,354.5 35.1,351.5 35.2,355.4 35.3,358.2 35.4,354.9 35.6,358.2 35.7,354.1 35.8,353.7 35.9,356.0 36.0,356.6 36.2,358.8 36.3,353.1 36.4,356.5 36.5,355.5 36.6,357.7 36.8,355.8 36.9,356.8 37.0,354.9 37.1,354.3 37.2,352.6 37.4,359.1 37.5,357.7 37.6,356.3 37.7,359.1 37.8,353.9 38.0,358.1 38.1,354.6 38.2,351.4 38.3,358.3 38.4,356.4 38.6,355.3 38.7,357.1 38.8,352.9 38.9,356.2 39.0,353.2 39.2,357.3 39.3,355.4 39.4,359.1 39.5,355.7 39.6,359.1 39.8,353.7 39.9,353.8 40.0,352.6 40.1,359.1 40.2,354.7 40.4,351.7 40.5,355.1 40.6,357.8 40.7,356.7 40.8,352.9 41.0,357.2 41.1,355.9 41.2,356.2 41.3,353.7 41.4,357.4 41.6,355.9 41.7,357.4 41.8,359.1 41.9,353.2 42.0,354.5 42.2,352.9 42.3,356.3 42.4,359.2 42.5,356.6 42.6,357.6 42.8,353.8 42.9,354.3 43.0,351.7 43.1,355.8 43.2,355.0 43.4,354.9 43.5,357.9 43.6,354.3 43.7,354.7 43.8,353.5 44.0,357.0 44.1,350.9 44.2,356.8 44.3,356.2 44.4,355.0 44.6,357.8 44.7,354.6 44.8,357.4 44.9,353.4 45.0,358.9 45.2,357.6 45.3,356.0 45.4,357.0 45.5,359.2 45.6,356.1 45.8,357.9 45.9,356.2 46.0,353.5 46.1,359.2 46.2,357.6 46.4,354.6 46.5,355.0 46.6,353.9 46.7,357.6 46.8,353.0 47.0,352.9 47.1,358.1 47.2,357.3 47.3,357.7 47.4,357.3 47.6,358.7 47.7,357.1 47.8,357.4 47.9,354.7 48.0,359.2 48.2,350.8 48.3,356.6 48.4,355.9 48.5,357.9 48.6,357.4 48.8,357.8 48.9,354.7 49.0,354.1 49.1,356.8 49.2,359.0 49.4,354.9 49.5,358.3 49.6,354.9 49.7,355.9 49.8,357.6 50.0,357.0 50.1,356.9 50.2,356.2 50.3,352.5 50.4,354.9 50.6,354.3 50.7,356.9 50.8,359.3 50.9,355.9 51.0,355.7 51.2,351.6 51.3,355.8 51.4,359.3 51.5,357.2 51.6,352.1 51.8,351.6 51.9,351.6 52.0,355.8 52.1,355.6 52.2,355.5 52.4,354.3 52.5,356.7 52.6,356.0 52.7,355.6 52.8,358.1 53.0,355.3 53.1,354.3 53.2,357.3 53.3,355.4 53.4,354.2 53.6,356.3 53.7,352.5 53.8,359.3 53.9,354.3 54.0,353.2 54.2,359.2 54.3,349.4 54.4,357.3 54.5,352.5 54.6,356.1 54.8,355.1 54.9,354.6 55.0,351.8 55.1,358.5 55.2,352.8 55.4,355.0 55.5,357.8 55.6,356.4 55.7,356.7 55.8,355.2 56.0,357.5 56.1,356.1 56.2,354.6 56.3,358.3 56.4,356.2 56.6,350.4 56.7,356.9 56.8,356.1 56.9,359.0 57.0,356.2 57.2,359.3 57.3,356.9 57.4,355.3 57.5,357.4 57.6,358.1 57.8,355.6 57.9,356.6 58.0,353.5 58.1,355.7 58.2,358.4 58.4,355.3 58.5,357.2 58.6,354.1 58.7,359.4 58.8,356.0 59.0,356.0 59.1,348.4 59.2,355.6 59.3,359.2 59.4,357.6 59.6,354.4 59.7,354.8 59.8,355.2 59.9,356.7 60.0,353.1 60.2,358.9 60.3,355.4 60.4,353.1 60.5,359.4 60.6,352.0 60.8,356.2 60.9,359.4 61.0,359.4 61.1,358.9 61.2,356.9 61.4,355.8 61.5,357.1 61.6,355.0 61.7,352.7 61.8,357.0 62.0,355.3 62.1,358.6 62.2,357.4 62.3,353.2 62.4,358.1 62.6,352.7 62.7,357.6 62.8,355.3 62.9,357.0 63.0,357.5 63.2,356.8 63.3,357.3 63.4,357.1 63.5,359.1 63.6,352.7 63.8,358.1 63.9,355.1 64.0,356.2 64.1,355.7 64.2,356.4 64.4,359.5 64.5,352.6 64.6,354.0 64.7,358.7 64.8,351.9 65.0,359.3 65.1,357.6 65.2,359.2 65.3,353.8 65.4,358.3 65.6,356.7 65.7,355.9 65.8,357.3 65.9,352.2 66.0,352.6 66.2,354.2 66.3,357.2 66.4,355.6 66.5,355.3 66.6,353.5 66.8,354.3 66.9,356.4 67.0,355.4 67.1,354.0 67.2,356.7 67.4,359.5 67.5,355.5 67.6,357.1 67.7,359.3 67.8,354.3 68.0,356.3 68.1,358.1 68.2,357.4 68.3,356.8 68.4,356.6 68.6,351.2 68.7,355.0 68.8,354.1 68.9,357.6 69.0,355.7 69.2,353.1 69.3,355.6 69.4,354.9 69.5,359.6 69.6,352.6 69.8,352.7 69.9,359.6 70.0,358.6 70.1,357.2 70.2,357.6 70.4,359.6 70.5,354.4 70.6,357.5 70.7,350.1 70.8,356.1 71.0,354.0 71.1,356.9 71.2,354.7 71.3,353.8 71.4,354.0 71.6,357.2 71.7,354.3 71.8,358.4 71.9,359.2 72.0,355.6 72.2,355.9 72.3,356.6 72.4,359.0 72.5,359.7 72.6,358.3 72.8,357.1 72.9,357.8 73.0,356.6 73.1,357.0 73.2,358.4 73.4,352.1 73.5,357.1 73.6,354.0 73.7,357.9 73.8,351.2 74.0,349.1 74.1,359.7 74.2,352.7 74.3,356.3 74.4,356.4 74.6,357.3 74.7,356.9 74.8,358.2 74.9,355.1 75.0,359.0 75.2,359.4 75.3,354.6 75.4,356.7 75.5,355.7 75.6,356.6 75.8,352.2 75.9,354.4 76.0,355.1 76.1,358.5 76.2,356.5 76.4,356.9 76.5,359.5 76.6,354.9 76.7,356.1 76.8,357.9 77.0,352.9 77.1,354.0 77.2,359.8 77.3,353.9 77.4,356.2 77.6,354.3 77.7,355.2 77.8,356.2 77.9,356.6 78.0,358.1 78.0,354.8 78.2,355.3 78.3,355.6 78.4,354.9 78.5,357.3 78.6,354.8 78.8,354.5 78.9,355.2 79.0,355.7 79.1,350.8 79.1,354.8 79.2,353.0 79.4,350.5 79.5,352.7 79.6,353.5 79.7,355.7 79.8,352.5 80.0,352.4 80.1,351.2 80.2,351.3 80.3,352.1 80.4,351.7 80.6,351.4 80.7,354.2 80.8,351.7 80.9,350.4 81.0,352.6 81.2,353.4 81.3,353.2 81.4,348.8 81.5,349.8 81.6,349.7 81.8,349.3 81.9,349.9 82.0,350.0 82.1,350.7 82.2,350.0 82.4,348.3 82.5,349.6 82.6,350.0 82.7,349.2 82.8,349.6 83.0,348.9 83.1,348.6 83.2,349.5 83.3,349.2 83.4,347.8 83.6,349.3 83.7,349.0 83.8,348.4 83.9,348.8 84.0,347.3 84.2,347.9 84.3,347.8 84.4,347.3 84.5,345.8 84.6,346.8 84.8,345.5 84.9,345.2 85.0,344.8 85.1,344.0 85.2,343.9 85.4,343.3 85.5,342.0 85.6,341.8 85.7,341.3 85.8,340.9 86.0,340.2 86.1,339.9 86.2,339.1 86.3,338.8 86.4,337.9 86.6,337.3 86.7,337.0 86.8,336.3 86.9,335.7 87.0,335.0 87.2,334.1 87.3,334.2 87.4,333.9 87.5,332.5 87.6,332.2 87.6,332.2 87.8,330.8 87.9,329.7 88.0,328.7 88.1,327.4 88.2,326.2 88.4,325.1 88.5,323.9 88.6,322.4 88.7,321.5 88.8,320.0 89.0,319.0 89.1,318.1 89.1,317.8 89.2,317.3 89.3,316.4 89.4,315.3 89.6,315.0 89.7,313.7 89.8,312.9 89.9,312.5 90.0,311.4 90.1,311.5 90.2,311.6 90.3,312.9 90.4,313.6 90.5,314.7 90.6,316.1 90.8,316.4 90.9,318.0 91.0,318.3 91.1,319.5 91.2,320.7 91.4,322.0 91.4,321.7 91.5,323.2 91.6,325.1 91.7,326.7 91.8,328.1 92.0,330.2 92.1,331.7 92.2,332.8 92.3,334.9 92.4,336.7 92.6,337.8 92.7,340.2 92.8,341.4 92.9,343.2 92.9,343.3 93.0,344.2 93.2,344.4 93.3,345.5 93.4,346.0 93.5,346.7 93.6,347.5 93.8,347.9 93.9,348.5 94.0,349.2 94.1,349.5 94.2,350.8 94.4,351.2 94.5,351.9 94.5,351.2 94.6,352.5 94.7,352.4 94.8,352.8 95.0,352.8 95.1,353.0 95.2,353.5 95.3,353.7 95.4,353.8 95.6,354.7 95.7,354.3 95.8,354.7 95.9,354.3 96.0,355.7 96.2,355.6 96.3,356.1 96.4,356.3 96.5,356.6 96.5,356.6 96.6,356.2 96.8,356.5 96.9,355.7 97.0,356.3 97.1,355.8 97.2,355.6 97.4,355.5 97.5,355.1 97.6,355.7 97.7,355.3 97.8,355.2 98.0,355.1 98.1,354.5 98.2,354.5 98.3,354.6 98.4,354.4 98.6,354.6 98.7,354.1 98.8,354.3 98.9,353.6 99.0,354.1 99.2,353.6 99.3,353.0 99.4,353.7 99.5,353.9 99.5,353.6 99.6,352.5 99.8,351.9 99.9,351.0 100.0,350.5 100.1,349.5 100.2,348.8 100.4,347.9 100.5,347.3 100.5,347.3 100.6,345.2 100.7,343.0 100.8,340.6 101.0,337.7 101.1,335.0 101.1,334.9 101.2,333.4 101.3,331.3 101.4,329.5 101.6,327.2 101.7,324.8 101.8,323.2 101.9,325.3 102.0,328.3 102.2,331.0 102.3,333.0 102.4,336.3 102.5,339.4 102.6,342.8 102.8,345.6 102.9,348.8 102.9,349.4 103.0,349.9 103.1,350.5 103.2,351.1 103.4,352.2 103.5,352.7 103.6,353.2 103.7,354.2 103.8,354.5 104.0,354.8 104.0,355.8 104.1,355.1 104.2,355.2 104.3,356.3 104.4,354.6 104.6,356.5 104.7,354.8 104.8,358.1 104.9,356.0 105.0,356.0 105.2,354.8 105.3,356.9 105.4,357.3 105.5,360.1 105.6,357.8 105.8,354.5 105.9,360.7 106.0,354.8 106.1,360.4 106.2,359.0 106.4,358.6 106.5,359.3 106.6,358.5 106.7,359.0 106.8,360.9 107.0,359.8 107.1,355.6 107.2,360.7 107.3,356.4 107.4,357.7 107.6,358.1 107.7,357.0 107.8,357.8 107.9,360.1 108.0,360.3 108.2,360.5 108.3,358.3 108.4,355.4 108.5,356.9 108.6,357.5 108.8,359.5 108.9,358.7 109.0,358.2 109.1,359.2 109.2,357.6 109.4,352.8 109.5,356.6 109.6,356.5 109.7,359.8 109.8,354.9 110.0,358.8 110.1,359.2 110.2,357.5 110.3,358.8 110.4,359.5 110.6,358.9 110.7,358.5 110.8,360.6 110.9,354.6 111.0,358.4 111.2,358.6 111.3,356.3 111.4,354.6 111.5,359.0 111.6,361.1 111.8,356.4 111.9,358.1 112.0,356.2 112.1,358.4 112.2,358.2 112.4,359.6 112.5,358.0 112.6,356.3 112.7,358.9 112.8,360.7 113.0,360.7 113.1,358.8 113.2,359.4 113.3,359.7 113.4,361.0 113.6,361.2 113.7,355.7 113.8,357.5 113.9,358.6 114.0,358.4 114.2,359.6 114.3,359.4 114.4,358.3 114.5,355.3 114.6,360.4 114.8,360.0 114.9,359.6 115.0,360.3 115.1,358.8 115.2,354.8 115.4,354.8 115.5,359.0 115.6,359.8 115.7,357.7 115.8,358.8 116.0,356.9 116.1,356.4 116.2,357.7 116.3,357.1 116.4,361.3 116.6,354.6 116.7,360.9 116.8,360.0 116.9,358.4 117.0,358.2 117.2,357.4 117.3,357.5 117.4,360.5 117.5,357.1 117.6,358.5 117.8,358.8 117.9,357.2 118.0,361.4 118.1,356.7 118.2,354.5 118.4,357.6 118.5,361.4 118.6,361.2 118.7,361.4 118.8,360.5 119.0,358.1 119.1,360.2 119.2,360.9 119.3,356.2 119.4,355.8 119.6,357.5 119.7,357.9 119.8,358.2 119.9,358.7 120.0,352.5 120.0,355.7 120.2,357.8 120.3,361.5 120.4,356.7 120.5,355.6 120.6,357.7 120.8,358.8 120.9,357.1 121.0,358.9 121.1,357.9 121.2,360.3 121.4,357.7 121.5,357.8 121.6,356.8 121.7,360.1 121.8,359.1 122.0,359.8 122.1,359.2 122.2,361.5 122.3,357.1 122.4,358.0 122.6,358.9 122.7,357.2 122.8,357.1 122.9,357.7 123.0,356.6 123.2,358.5 123.3,359.1 123.4,356.2 123.5,360.0 123.6,350.3 123.8,361.5 123.9,359.9 124.0,359.2 124.1,360.8 124.2,359.6 124.4,358.5 124.5,361.5 124.6,356.0 124.7,357.1 124.8,360.3 125.0,360.5 125.1,360.9 125.2,360.8 125.3,359.6 125.4,355.8 125.6,356.9 125.7,359.6 125.8,355.1 125.9,358.9 126.0,359.0 126.2,357.4 126.3,355.7 126.4,361.0 126.5,361.5 126.6,360.3 126.8,360.6 126.9,356.7 127.0,355.0 127.1,360.5 127.2,356.9 127.4,360.4 127.5,360.3 127.6,356.1 127.7,357.9 127.8,360.4 128.0,356.8 128.1,361.5 128.2,359.8 128.3,355.3 128.4,355.0 128.6,359.1 128.7,360.0 128.8,360.8 128.9,356.0 129.0,361.5 129.2,357.2 129.3,357.0 129.4,356.2 129.5,357.3 129.6,358.0 129.8,355.9 129.9,361.5 130.0,354.7 130.1,359.6 130.2,357.6 130.4,360.8 130.5,358.0 130.6,355.8 130.7,360.0 130.8,360.1 131.0,358.7 131.1,357.4 131.2,359.8 131.3,360.0 131.4,358.0 131.6,358.8 131.7,358.2 131.8,358.7 131.9,358.5 132.0,360.1 132.2,358.9 132.3,359.5 132.4,357.8 132.5,360.4 132.6,358.9 132.8,355.0 132.9,358.7 133.0,359.3 133.1,359.6 133.2,358.4 133.4,358.0 133.5,359.0 133.6,360.3 133.7,359.0 133.8,358.0 134.0,359.9 134.1,356.0 134.2,358.1 134.3,354.3 134.4,359.7 134.6,361.3 134.7,359.5 134.8,361.5 134.9,357.8 135.0,360.2 135.2,359.3 135.3,356.8 135.4,353.9 135.5,358.5 135.6,357.9 135.8,361.5 135.9,357.4 136.0,360.4 136.1,358.2 136.2,359.9 136.4,357.3 136.5,357.6 136.6,360.7 136.7,357.1 136.8,359.1 137.0,360.4 137.1,361.5 137.2,359.2 137.3,359.9 137.4,360.9 137.6,356.6 137.7,359.2 137.8,358.2 137.9,359.2 138.0,355.0 138.2,359.1 138.3,356.5 138.4,359.1 138.5,360.9 138.6,360.0 138.8,361.3 138.9,359.3 139.0,357.5 139.1,359.4 139.2,355.5 139.4,360.3 139.5,361.5 139.6,361.5 139.7,358.2 139.8,357.0 140.0,359.4 140.1,357.4 140.2,356.4 140.3,360.2 140.4,361.1 140.6,359.6 140.7,358.7 140.8,357.4 140.9,358.6 141.0,357.1 141.2,360.7 141.3,356.3 141.4,355.8 141.5,355.0 141.6,357.0 141.8,360.8 141.9,361.5 142.0,357.8 142.1,360.1 142.2,355.1 142.4,361.3 142.5,359.3 142.6,352.7 142.7,358.0 142.8,356.8 143.0,359.5 143.1,358.4 143.2,360.2 143.3,358.1 143.4,358.0 143.6,358.0 143.7,360.1 143.8,359.2 143.9,357.1 144.0,355.0 144.2,358.2 144.3,358.3 144.4,358.8 144.5,358.5 144.6,357.2 144.8,358.8 144.9,356.2 145.0,358.5 145.1,358.5 145.2,358.1 145.4,360.9 145.5,359.0 145.6,357.2 145.7,359.7 145.8,356.0 146.0,358.0 146.1,356.3 146.2,360.4 146.3,358.4 146.4,355.0 146.6,357.4 146.7,357.4 146.8,358.8 146.9,356.5 147.0,359.0 147.2,360.1 147.3,357.2 147.4,361.3 147.5,357.8 147.6,360.4 147.8,358.4 147.9,358.8 148.0,356.8 148.1,355.0 148.2,356.7 148.4,358.0 148.5,358.8 148.6,361.1 148.7,358.9 148.8,358.2 149.0,359.6 149.1,361.5 149.2,356.1 149.3,359.2 149.4,361.5 149.6,359.1 149.7,355.0 149.8,358.4 149.9,361.5 150.0,357.0 150.2,355.2 150.3,357.8 150.4,357.7 150.5,357.6 150.6,357.8 150.8,355.0 150.9,360.1 151.0,358.4 151.1,356.8 151.2,359.9 151.4,358.4 151.5,355.0 151.6,356.7 151.7,355.6 151.8,354.9 152.0,356.0 152.1,356.9 152.2,359.4 152.3,359.3 152.4,357.2 152.6,357.1 152.7,360.9 152.8,358.8 152.9,360.1 153.0,359.7 153.2,355.6 153.3,360.1 153.4,360.4 153.5,355.6 153.6,358.1 153.8,357.6 153.9,359.2 154.0,359.5 154.1,360.1 154.2,356.0 154.4,358.6 154.5,355.4 154.6,357.5 154.7,358.1 154.8,354.0 155.0,357.8 155.1,356.3 155.2,357.7 155.3,360.6 155.4,358.5 155.6,358.4 155.7,357.0 155.8,358.4 155.9,357.1 156.0,360.3 156.2,360.2 156.3,359.9 156.4,360.0 156.5,359.3 156.6,359.7 156.8,360.0 156.9,356.7 157.0,357.5 157.1,357.1 157.2,360.6 157.4,359.1 157.5,359.9 157.6,361.6 157.7,359.0 157.8,360.1 158.0,358.8 158.1,359.0 158.2,358.6 158.3,361.1 158.4,356.4 158.6,358.5 158.7,360.6 158.8,358.8 158.9,360.4 159.0,360.8 159.2,358.4 159.3,356.8 159.4,358.9 159.5,355.8 159.6,356.1 159.8,361.5 159.9,356.5 160.0,359.0 160.1,357.4 160.2,360.9 160.4,358.3 160.5,361.1 160.6,358.6 160.7,359.0 160.8,358.5 161.0,361.6 161.1,359.1 161.2,359.2 161.3,357.3 161.4,357.6 161.6,359.7 161.7,357.1 161.8,359.7 161.9,361.6 162.0,360.0 162.2,358.6 162.3,357.5 162.4,359.8 162.5,358.4 162.6,360.7 162.8,357.9 162.9,358.2 163.0,359.3 163.1,359.1 163.2,357.8 163.4,361.0 163.5,360.5 163.6,358.4 163.7,358.3 163.8,356.8 164.0,360.5 164.1,358.4 164.2,359.1 164.3,357.3 164.4,356.7 164.6,359.8 164.7,357.7 164.8,360.6 164.9,360.2 165.0,360.7 165.2,358.0 165.3,357.0 165.4,358.3 165.5,361.1 165.6,355.2 165.8,358.4 165.9,359.4 166.0,358.0 166.1,356.3 166.2,357.9 166.4,357.8 166.5,358.0 166.6,361.6 166.7,355.5 166.8,361.1 167.0,358.6 167.1,361.2 167.2,359.7 167.3,359.7 167.4,360.8 167.6,361.1 167.7,360.0 167.8,356.0 167.9,358.0 168.0,360.5 168.2,357.0 168.3,359.3 168.4,361.6 168.5,356.7 168.6,359.9 168.8,357.9 168.9,359.0 169.0,360.1 169.1,357.1 169.2,358.9 169.4,357.7 169.5,356.6 169.6,360.3 169.7,358.5 169.8,361.1 170.0,356.0 170.1,359.5 170.2,360.6 170.3,357.0 170.4,361.6 170.6,359.4 170.7,356.3 170.8,357.7 170.9,357.2 171.0,359.0 171.2,355.3 171.3,357.4 171.4,357.4 171.5,355.4 171.6,357.2 171.8,359.0 171.9,360.6 172.0,355.4 172.1,358.7 172.2,358.5 172.4,359.1 172.5,355.5 172.6,359.4 172.7,358.3 172.8,361.6 173.0,357.5 173.1,358.6 173.2,360.1 173.3,358.1 173.4,361.0 173.6,358.6 173.7,361.4 173.8,355.0 173.9,357.7 174.0,358.8 174.2,357.1 174.3,358.1 174.4,357.4 174.5,357.2 174.6,360.5 174.8,360.9 174.9,359.5 175.0,358.2 175.1,358.6 175.2,356.5 175.4,357.1 175.5,359.4 175.6,361.3 175.7,356.6 175.8,360.2 176.0,360.2 176.1,357.6 176.2,355.0 176.3,358.4 176.4,360.2 176.6,361.6 176.7,359.3 176.8,357.5 176.9,358.9 177.0,358.1 177.2,359.2 177.3,358.0 177.4,359.3 177.5,361.6 177.6,355.0 177.8,361.6 177.9,360.2 178.0,358.0 178.1,361.6 178.2,359.3 178.4,358.8 178.5,357.3 178.6,360.8 178.7,357.2 178.8,356.3 179.0,357.5 179.1,360.1 179.2,358.5 179.3,356.2 179.4,356.4 179.6,356.2 179.7,358.5 179.8,360.8 179.9,356.4 180.0,357.4 180.2,361.5 180.3,357.6 180.4,358.5 180.5,355.7 180.6,356.2 180.8,358.6 180.9,358.0 181.0,358.0 181.1,359.7 181.2,356.0 181.4,357.2 181.5,358.8 181.6,358.4 181.7,359.2 181.8,359.9 182.0,357.2 182.1,356.7 182.2,357.2 182.3,361.3 182.4,358.4 182.6,359.5 182.7,357.7 182.8,357.7 182.9,357.8 183.0,359.8 183.2,358.8 183.3,359.9 183.4,357.8 183.5,358.2 183.6,358.1 183.8,358.4 183.9,361.3 184.0,360.3 184.1,360.3 184.2,357.4 184.4,357.6 184.5,359.5 184.6,360.2 184.7,359.0 184.8,355.0 185.0,357.6 185.1,361.6 185.2,360.2 185.3,361.6 185.4,355.6 185.6,361.6 185.7,357.1 185.8,360.0 185.9,361.0 186.0,360.3 186.2,356.1 186.3,359.7 186.4,355.6 186.5,359.7 186.6,360.4 186.8,358.9 186.9,361.5 187.0,357.9 187.1,360.2 187.2,359.9 187.4,355.9 187.5,359.7 187.6,357.5 187.7,360.4 187.8,360.6 188.0,358.1 188.1,358.0 188.2,357.5 188.3,359.2 188.4,355.9 188.6,359.3 188.7,360.4 188.8,356.6 188.9,355.4 189.0,359.1 189.2,359.2 189.3,358.0 189.4,360.7 189.5,360.8 189.6,359.2 189.8,359.0 189.9,358.4 190.0,356.9 190.1,355.8 190.2,358.6 190.4,358.0 190.5,358.4 190.6,355.0 190.7,356.6 190.8,359.8 191.0,359.1 191.1,359.6 191.2,360.6 191.3,357.8 191.4,360.4 191.6,360.3 191.7,357.7 191.8,358.9 191.9,359.0 192.0,358.8 192.2,358.4 192.3,360.4 192.4,359.4 192.5,355.0 192.6,359.4 192.8,354.4 192.9,358.9 193.0,358.0 193.1,358.7 193.2,360.2 193.4,358.5 193.5,356.0 193.6,358.8 193.7,360.0 193.8,358.2 194.0,358.2 194.1,355.7 194.2,359.4 194.3,356.1 194.4,360.0 194.6,359.1 194.7,357.8 194.8,357.4 194.9,361.6 195.0,358.0 195.2,360.6 195.3,358.2 195.4,359.6 195.5,354.6 195.6,359.3 195.8,357.7 195.9,359.6 196.0,356.9 196.1,361.3 196.2,357.8 196.4,356.5 196.5,359.9 196.6,356.7 196.7,357.2 196.8,358.2 197.0,359.0 197.1,357.4 197.2,356.8 197.3,355.0 197.4,361.0 197.6,356.6 197.7,360.3 197.8,361.6 197.9,361.6 198.0,356.9 198.2,359.3 198.3,358.5 198.4,355.0 198.5,356.6 198.6,355.6 198.8,357.9 198.9,357.8 199.0,355.0 199.1,357.6 199.2,360.8 199.4,358.1 199.5,361.6 199.6,358.4 199.7,357.7 199.8,355.9 200.0,356.4 200.1,357.6 200.2,355.0 200.3,359.1 200.4,355.2 200.6,355.5 200.7,360.7 200.8,357.4 200.9,357.1 201.0,358.4 201.2,356.5 201.3,355.0 201.4,358.6 201.5,359.1 201.6,359.3 201.8,361.6 201.9,356.7 202.0,357.4 202.1,360.8 202.2,358.9 202.4,360.6 202.5,361.6 202.6,355.7 202.7,356.9 202.8,358.0 203.0,358.5 203.1,356.9 203.2,359.2 203.3,361.6 203.4,359.1 203.6,357.4 203.7,355.2 203.8,360.1 203.9,356.3 204.0,357.0 204.2,355.3 204.3,358.1 204.4,358.8 204.5,358.3 204.6,358.3 204.8,359.7 204.9,357.7 205.0,360.0 205.1,357.8 205.2,357.9 205.4,360.0 205.5,357.0 205.6,357.0 205.7,358.6 205.8,361.6 206.0,361.6 206.1,361.6 206.2,355.8 206.3,358.9 206.4,356.5 206.6,359.6 206.7,356.9 206.8,358.0 206.9,358.3 207.0,360.0 207.2,357.4 207.3,361.0 207.4,359.8 207.5,358.0 207.6,359.4 207.8,358.5 207.9,356.8 208.0,356.8 208.1,358.1 208.2,357.7 208.4,355.0 208.5,360.7 208.6,361.6 208.7,355.5 208.8,356.0 209.0,361.0 209.1,358.3 209.2,356.0 209.3,358.9 209.4,359.1 209.6,357.9 209.7,360.4 209.8,359.0 209.9,361.0 210.0,357.7 210.2,361.0 210.3,357.3 210.4,356.6 210.5,359.9 210.6,358.6 210.8,358.5 210.9,358.8 211.0,358.9 211.1,358.0 211.2,358.5 211.4,360.1 211.5,359.8 211.6,357.5 211.7,355.9 211.8,360.0 212.0,357.2 212.1,356.9 212.2,356.3 212.3,358.7 212.4,360.9 212.6,361.6 212.7,359.0 212.8,361.6 212.9,361.4 213.0,361.1 213.2,358.2 213.3,359.6 213.4,358.3 213.5,359.6 213.6,360.6 213.8,359.7 213.9,355.0 214.0,359.2 214.1,360.8 214.2,355.7 214.4,358.8 214.5,357.1 214.6,358.4 214.7,359.7 214.8,358.1 215.0,356.8 215.1,359.4 215.2,359.2 215.3,355.5 215.4,358.8 215.6,356.8 215.7,356.7 215.8,357.1 215.9,360.5 216.0,361.3 216.2,358.3 216.3,359.0 216.4,358.4 216.5,361.3 216.6,358.1 216.8,355.7 216.9,361.6 217.0,358.3 217.1,356.7 217.2,357.1 217.4,356.3 217.5,359.0 217.6,360.4 217.7,355.4 217.8,353.5 218.0,359.5 218.1,358.6 218.2,359.3 218.3,359.2 218.4,359.3 218.6,356.4 218.7,358.5 218.8,359.5 218.9,361.7 219.0,361.3 219.2,357.8 219.3,361.6 219.4,359.5 219.5,357.5 219.6,361.7 219.8,359.5 219.9,357.2 220.0,357.5 220.1,361.1 220.2,357.8 220.4,359.1 220.5,358.5 220.6,355.3 220.7,360.2 220.8,356.0 221.0,359.8 221.1,361.4 221.2,359.1 221.3,359.8 221.4,358.9 221.6,358.6 221.7,361.7 221.8,359.1 221.9,355.7 222.0,356.0 222.2,357.6 222.3,358.2 222.4,357.8 222.5,359.6 222.6,355.0 222.8,358.2 222.9,356.9 223.0,360.0 223.1,352.4 223.2,359.8 223.4,357.3 223.5,356.6 223.6,358.0 223.7,358.7 223.8,360.3 224.0,360.1 224.1,358.6 224.2,357.0 224.3,355.0 224.4,357.9 224.6,359.6 224.7,359.7 224.8,359.5 224.9,355.3 225.0,357.2 225.2,356.9 225.3,360.0 225.4,359.2 225.5,359.0 225.6,356.5 225.8,359.3 225.9,360.3 226.0,358.9 226.1,356.8 226.2,355.0 226.4,359.3 226.5,356.7 226.6,358.3 226.7,358.0 226.8,358.6 227.0,358.4 227.1,358.2 227.2,360.3 227.3,358.1 227.4,358.1 227.6,356.0 227.7,361.7 227.8,358.1 227.9,356.1 228.0,356.2 228.2,355.3 228.3,359.3 228.4,360.8 228.5,359.2 228.6,357.0 228.8,356.4 228.9,358.8 229.0,357.5 229.1,357.6 229.2,358.1 229.4,357.1 229.5,357.4 229.6,359.0 229.7,357.8 229.8,358.2 230.0,357.6 230.1,361.7 230.2,359.1 230.3,356.4 230.4,360.5 230.6,361.4 230.7,359.5 230.8,359.7 230.9,358.9 231.0,355.0 231.2,361.7 231.3,359.4 231.4,359.0 231.5,360.0 231.6,355.8 231.8,360.5 231.9,360.2 232.0,359.0 232.1,355.9 232.2,359.8 232.4,357.9 232.5,359.5 232.6,359.8 232.7,359.3 232.8,359.3 233.0,359.8 233.1,360.8 233.2,359.5 233.3,355.5 233.4,356.7 233.6,356.9 233.7,354.9 233.8,358.3 233.9,359.4 234.0,358.0 234.2,358.9 234.3,361.1 234.4,356.7 234.5,360.7 234.6,355.0 234.8,360.8 234.9,358.8 235.0,359.4 235.1,359.5 235.2,358.7 235.4,361.7 235.5,361.7 235.6,359.3 235.7,357.6 235.8,359.5 236.0,359.7 236.1,357.3 236.2,360.4 236.3,359.6 236.4,357.6 236.6,359.9 236.7,357.9 236.8,358.2 236.9,357.9 237.0,357.1 237.2,358.9 237.3,357.6 237.4,356.6 237.5,356.6 237.6,356.5 237.8,360.2 237.9,356.8 238.0,361.7 238.1,358.3 238.2,357.2 238.4,358.2 238.5,356.3 238.6,357.8 238.7,358.5 238.8,360.0 239.0,359.2 239.1,359.6 239.2,359.2 239.3,357.1 239.4,359.4 239.6,357.4 239.7,357.0 239.8,356.7 239.9,357.0 240.0,360.3 240.2,356.1 240.3,358.2 240.4,356.2 240.5,358.9 240.6,358.0 240.8,361.7 240.9,353.7 241.0,359.1 241.1,359.4 241.2,358.2 241.4,360.5 241.5,357.4 241.6,358.8 241.7,358.9 241.8,361.7 242.0,357.6 242.1,359.0 242.2,361.2 242.3,358.7 242.4,360.0 242.6,359.3 242.7,358.2 242.8,359.7 242.9,356.7 243.0,360.1 243.2,358.0 243.3,358.1 243.4,359.6 243.5,357.6 243.6,358.4 243.8,361.4 243.9,358.4 244.0,361.7 244.1,359.1 244.2,360.6 244.4,359.6 244.5,355.2 244.6,356.0 244.7,360.6 244.8,356.6 245.0,357.8 245.1,355.2 245.2,357.4 245.3,361.6 245.4,358.6 245.6,359.5 245.7,357.3 245.8,355.7 245.9,355.4 246.0,358.1 246.2,355.5 246.3,360.5 246.4,359.4 246.5,361.2 246.6,359.7 246.8,359.6 246.9,353.3 247.0,357.5 247.1,358.6 247.2,356.5 247.4,359.6 247.5,361.0 247.6,356.1 247.7,361.4 247.8,358.8 248.0,359.7 248.1,358.0 248.2,358.6 248.3,361.7 248.4,357.7 248.6,355.5 248.7,357.9 248.8,358.2 248.9,358.1 249.0,357.1 249.2,358.0 249.3,359.1 249.4,359.2 249.5,359.0 249.6,357.5 249.8,358.2 249.9,357.2 250.0,358.2 250.1,358.9 250.2,360.6 250.4,355.3 250.5,359.3 250.6,359.1 250.7,360.4 250.8,359.0 251.0,358.5 251.1,358.4 251.2,361.0 251.3,357.5 251.4,361.7 251.6,355.2 251.7,356.3 251.8,358.8 251.9,357.7 252.0,358.6 252.2,358.9 252.3,356.0 252.4,360.0 252.5,360.3 252.6,360.6 252.8,361.5 252.9,358.1 253.0,358.6 253.1,357.8 253.2,360.5 253.4,359.6 253.5,359.0 253.6,357.7 253.7,358.7 253.8,354.1 254.0,356.7 254.1,360.0 254.2,358.8 254.3,359.5 254.4,360.0 254.6,357.9 254.7,357.9 254.8,355.5 254.9,360.9 255.0,357.7 255.2,359.8 255.3,356.4 255.4,360.5 255.5,358.6 255.6,360.6 255.8,357.2 255.9,359.5 256.0,357.9 256.1,359.8 256.2,357.0 256.4,360.7 256.5,355.0 256.6,359.7 256.7,361.7 256.8,360.4 257.0,361.1 257.1,359.7 257.2,357.0 257.3,359.9 257.4,360.2 257.6,358.7 257.7,356.1 257.8,359.5 257.9,355.6 258.0,357.6 258.2,356.2 258.3,360.7 258.4,360.5 258.5,358.2 258.6,357.7 258.8,359.4 258.9,360.0 259.0,361.7 259.1,357.6 259.2,360.3 259.4,358.6 259.5,361.2 259.6,359.2 259.7,359.2 259.8,358.5 260.0,360.6 260.1,357.0 260.2,353.9 260.3,357.8 260.4,353.1 260.6,361.0 260.7,358.0 260.8,361.4 260.9,358.3 261.0,359.6 261.2,358.9 261.3,360.5 261.4,357.6 261.5,361.5 261.6,356.9 261.8,359.5 261.9,354.0 262.0,361.0 262.1,360.2 262.2,358.3 262.4,356.2 262.5,358.9 262.6,359.8 262.7,357.7 262.8,358.8 263.0,361.7 263.1,359.5 263.2,357.4 263.3,359.2 263.4,360.7 263.6,358.1 263.7,359.9 263.8,355.1 263.9,361.6 264.0,357.7 264.2,359.5 264.3,356.2 264.4,358.0 264.5,361.0 264.6,361.1 264.8,357.0 264.9,357.2 265.0,361.0 265.1,352.5 265.2,358.5 265.4,361.5 265.5,356.0 265.6,358.1 265.7,361.7 265.8,358.0 266.0,358.2 266.1,357.6 266.2,358.5 266.3,359.8 266.4,360.0 266.6,357.8 266.7,358.9 266.8,357.8 266.9,360.5 267.0,359.2 267.2,358.3 267.3,358.0 267.4,358.4 267.5,361.6 267.6,360.7 267.8,358.9 267.9,360.0 268.0,361.7 268.1,359.7 268.2,360.1 268.4,357.7 268.5,359.3 268.6,358.1 268.7,357.5 268.8,352.6 269.0,360.1 269.1,359.9 269.2,359.8 269.3,357.9 269.4,359.3 269.6,360.8 269.7,357.8 269.8,359.3 269.9,359.2 270.0,355.8 270.2,356.6 270.3,359.3 270.4,358.3 270.5,361.0 270.6,358.0 270.8,355.3 270.9,360.8 271.0,359.6 271.1,358.9 271.2,358.6 271.4,361.4 271.5,358.3 271.6,355.3 271.7,360.8 271.8,359.1 272.0,359.3 272.1,361.0 272.2,358.0 272.3,356.9 272.4,360.2 272.6,356.8 272.7,357.4 272.8,360.2 272.9,361.3 273.0,359.6 273.2,357.9 273.3,358.6 273.4,359.9 273.5,358.4 273.6,358.3 273.8,359.4 273.9,354.9 274.0,356.6 274.1,356.8 274.2,359.5 274.4,360.4 274.5,359.9 274.6,357.4 274.7,359.4 274.8,359.3 275.0,360.5 275.1,360.5 275.2,358.0 275.3,358.5 275.4,359.4 275.6,361.0 275.7,361.7 275.8,355.0 275.9,356.9 276.0,360.7 276.2,359.4 276.3,358.3 276.4,360.6 276.5,359.8 276.6,356.3 276.8,357.7 276.9,358.8 277.0,360.4 277.1,360.5 277.2,358.7 277.4,360.2 277.5,355.1 277.6,359.1 277.7,360.0 277.8,357.6 278.0,356.5 278.1,353.6 278.2,357.6 278.3,359.2 278.4,359.9 278.6,357.3 278.7,360.2 278.8,361.8 278.9,358.5 279.0,361.0 279.2,359.3 279.3,358.3 279.4,355.0 279.5,357.3 279.6,360.4 279.8,357.4 279.9,359.3 280.0,357.7 280.1,357.4 280.2,355.8 280.4,361.4 280.5,359.8 280.6,360.9 280.7,359.4 280.8,358.0 281.0,358.0 281.1,356.3 281.2,357.2 281.3,358.4 281.4,355.3 281.6,358.1 281.7,359.1 281.8,360.5 281.9,358.2 282.0,355.7 282.2,356.4 282.3,358.4 282.4,357.5 282.5,361.3 282.6,357.7 282.8,360.0 282.9,357.7 283.0,356.3 283.1,358.0 283.2,361.8 283.4,358.9 283.5,361.8 283.6,361.1 283.7,360.9 283.8,357.8 284.0,360.1 284.1,359.3 284.2,358.0 284.3,359.2 284.4,359.5 284.6,359.1 284.7,360.0 284.8,360.7 284.9,352.0 285.0,358.8 285.2,360.1 285.3,358.8 285.4,359.5 285.5,360.7 285.6,355.1 285.8,361.8 285.9,360.9 286.0,358.6 286.1,356.7 286.2,355.1 286.4,357.9 286.5,357.4 286.6,353.8 286.7,357.0 286.8,356.2 287.0,357.0 287.1,356.6 287.2,358.0 287.3,361.6 287.4,360.1 287.6,357.7 287.7,357.4 287.8,356.6 287.9,359.5 288.0,356.9 288.2,356.8 288.3,358.7 288.4,360.9 288.5,361.5 288.6,360.3 288.8,355.1 288.9,356.9 289.0,359.2 289.1,356.0 289.2,358.7 289.4,361.8 289.5,358.8 289.6,358.1 289.7,360.1 289.8,361.0 290.0,358.7 290.1,359.3 290.2,354.0 290.3,359.8 290.4,358.4 290.6,358.8 290.7,357.9 290.8,360.1 290.9,360.4 291.0,359.3 291.2,359.2 291.3,359.7 291.4,360.7 291.5,356.6 291.6,360.8 291.8,360.6 291.9,358.1 292.0,355.8 292.1,361.0 292.2,359.0 292.4,357.9 292.5,356.7 292.6,358.7 292.7,355.1 292.8,358.2 293.0,358.6 293.1,358.9 293.2,357.0 293.3,359.3 293.4,358.2 293.6,357.9 293.7,360.1 293.8,360.9 293.9,359.3 294.0,359.5 294.2,361.3 294.3,359.6 294.4,356.5 294.5,355.1 294.6,356.1 294.8,358.5 294.9,357.4 295.0,361.6 295.1,356.9 295.2,358.4 295.4,355.9 295.5,360.1 295.6,355.1 295.7,361.7 295.8,350.5 296.0,359.9 296.1,360.1 296.2,359.7 296.3,358.2 296.4,358.1 296.6,358.3 296.7,352.9 296.8,356.9 296.9,358.3 297.0,357.7 297.2,361.1 297.3,360.2 297.4,359.7 297.5,359.6 297.6,356.6 297.8,360.6 297.9,360.1 298.0,356.3 298.1,359.2 298.2,359.2 298.4,357.2 298.5,356.4 298.6,357.7 298.7,359.5 298.8,353.3 299.0,356.2 299.1,361.2 299.2,360.8 299.3,355.8 299.4,360.9 299.6,359.9 299.7,357.1 299.8,360.4 299.9,357.1 300.0,354.8 300.0,358.9 300.2,357.4 300.3,359.7 300.4,358.6 300.5,359.1 300.6,358.5 300.8,359.3 300.9,357.9 301.0,359.9 301.1,359.9 301.2,357.6 301.4,358.1 301.5,357.1 301.6,357.6 301.7,360.1 301.8,359.8 302.0,355.0 302.1,355.0 302.2,360.0 302.3,359.4 302.4,359.8 302.6,357.2 302.7,356.3 302.8,356.7 302.9,359.6 303.0,360.1 303.2,360.2 303.3,358.6 303.4,356.0 303.5,361.7 303.6,356.2 303.8,355.4 303.9,355.7 304.0,359.7 304.1,359.0 304.2,360.8 304.4,361.6 304.5,359.9 304.6,358.3 304.7,359.7 304.8,359.6 305.0,359.2 305.1,357.9 305.2,359.3 305.3,360.1 305.4,358.8 305.6,357.5 305.7,359.2 305.8,359.4 305.9,356.2 306.0,358.2 306.2,360.7 306.3,356.0 306.4,356.4 306.5,359.2 306.6,359.2 306.8,359.0 306.9,356.3 307.0,358.4 307.1,356.5 307.2,357.4 307.4,360.0 307.5,360.7 307.6,358.9 307.7,359.4 307.8,359.8 308.0,361.3 308.1,355.1 308.2,357.4 308.3,357.5 308.4,357.8 308.6,359.8 308.7,359.7 308.8,358.7 308.9,356.3 309.0,355.4 309.2,357.6 309.3,361.5 309.4,357.7 309.5,361.4 309.6,357.6 309.8,358.9 309.9,357.3 310.0,359.2 310.1,360.6 310.2,359.8 310.4,355.8 310.5,360.5 310.6,357.4 310.7,358.2 310.8,351.4 311.0,360.2 311.1,355.7 311.2,360.2 311.3,358.0 311.4,357.9 311.6,356.9 311.7,357.2 311.8,357.5 311.9,359.0 312.0,361.4 312.2,357.8 312.3,356.7 312.4,359.1 312.5,359.7 312.6,357.6 312.8,357.7 312.9,356.8 313.0,355.7 313.1,354.6 313.2,357.8 313.4,357.0 313.5,358.6 313.6,358.4 313.7,357.5 313.8,360.7 314.0,360.7 314.1,360.6 314.2,357.3 314.3,358.7 314.4,357.4 314.6,354.9 314.7,358.5 314.8,358.0 314.9,357.8 315.0,357.6 315.2,358.5 315.3,352.3 315.4,361.2 315.5,356.2 315.6,353.6 315.8,358.5 315.9,360.6 316.0,359.8 316.1,359.1 316.2,359.9 316.4,357.9 316.5,359.2 316.6,359.2 316.7,361.2 316.8,356.3 317.0,359.4 317.1,355.6 317.2,356.2 317.3,356.7 317.4,357.5 317.6,358.5 317.7,357.3 317.8,359.1 317.9,358.1 318.0,359.6 318.2,360.2 318.3,361.1 318.4,361.1 318.5,357.3 318.6,358.7 318.8,359.7 318.9,358.9 319.0,359.4 319.1,359.9 319.2,361.1 319.4,356.7 319.5,355.8 319.6,357.3 319.7,353.6 319.8,356.5 320.0,357.3 320.1,356.7 320.2,354.8 320.3,357.6 320.4,357.2 320.6,354.4 320.7,356.5 320.8,358.8 320.9,359.7 321.0,357.7 321.2,360.0 321.3,360.3 321.4,356.5 321.5,357.7 321.6,357.6 321.8,357.0 321.9,357.9 322.0,358.3 322.1,360.4 322.2,355.5 322.4,358.2 322.5,358.5 322.6,359.0 322.7,360.3 322.8,358.1 323.0,359.8 323.1,354.1 323.2,360.4 323.3,361.0 323.4,359.2 323.6,359.2 323.7,359.1 323.8,360.7 323.9,360.9 324.0,357.3 324.2,358.0 324.3,354.2 324.4,357.2 324.5,355.9 324.6,356.1 324.8,356.7 324.9,356.1 325.0,357.9 325.1,357.7 325.2,360.9 325.4,357.1 325.5,359.7 325.6,355.4 325.7,359.2 325.8,356.5 326.0,358.2 326.1,356.6 326.2,358.1 326.3,355.5 326.4,357.5 326.6,356.9 326.7,356.5 326.8,360.8 326.9,355.8 327.0,357.1 327.2,356.7 327.3,357.0 327.4,355.1 327.5,355.0 327.6,356.6 327.8,356.2 327.9,360.0 328.0,360.5 328.1,357.4 328.2,357.1 328.4,358.3 328.5,360.1 328.6,359.3 328.7,356.0 328.8,355.2 329.0,360.3 329.1,354.1 329.2,357.0 329.3,359.8 329.4,357.4 329.6,358.2 329.7,358.1 329.8,359.6 329.9,358.1 330.0,358.1 330.2,356.1 330.3,356.8 330.4,358.0 330.5,354.8 330.6,357.8 330.8,358.1 330.9,355.3 331.0,357.8 331.1,355.8 331.2,356.1 331.4,354.1 331.5,357.5 331.6,360.7 331.7,359.0 331.8,358.4 332.0,360.2 332.1,356.0 332.2,356.3 332.3,356.5 332.4,358.7 332.6,355.3 332.7,360.6 332.8,356.6 332.9,356.4 333.0,352.4 333.2,359.8 333.3,359.3 333.4,357.4 333.5,357.4 333.6,357.3 333.8,354.2 333.9,357.2 334.0,358.8 334.1,358.6 334.2,359.7 334.4,358.3 334.5,355.7 334.6,360.6 334.7,353.8 334.8,354.0 335.0,357.5 335.1,357.1 335.2,354.8 335.3,355.2 335.4,358.8 335.6,358.3 335.7,356.8 335.8,359.3 335.9,357.6 336.0,359.1 336.2,358.7 336.3,354.2 336.4,358.8 336.5,357.9 336.6,353.7 336.8,360.3 336.9,355.6 337.0,355.0 337.1,355.3 337.2,356.5 337.4,354.9 337.5,357.1 337.6,356.3 337.7,356.1 337.8,357.7 338.0,356.8 338.1,358.7 338.2,356.9 338.3,358.9 338.4,354.2 338.6,356.0 338.7,355.7 338.8,354.9 338.9,354.4 339.0,356.2 339.2,351.1 339.3,359.2 339.4,359.0 339.5,358.5 339.6,360.4 339.8,355.3 339.9,358.6 340.0,359.1 340.1,359.8 340.2,356.8 340.4,353.6 340.5,355.8 340.6,354.6 340.7,354.3 340.8,357.1 341.0,358.1 341.1,357.6 341.2,354.3 341.3,358.1 341.4,356.4 341.6,357.2 341.7,360.0 341.8,359.3 341.9,358.8 342.0,359.0 342.2,356.6 342.3,355.7 342.4,355.4 342.5,354.7 342.6,355.6 342.8,360.3 342.9,358.8 343.0,358.5 343.1,359.1 343.2,358.3 343.4,356.3 343.5,358.4 343.6,356.2 343.7,356.0 343.8,355.6 344.0,358.3 344.1,357.6 344.2,359.3 344.3,358.8 344.4,356.4 344.6,359.2 344.7,357.9 344.8,359.7 344.9,356.8 345.0,356.1 345.2,358.4 345.3,354.5 345.4,352.1 345.5,359.2 345.6,358.6 345.8,356.0 345.9,356.2 346.0,358.6 346.1,357.1 346.2,358.1 346.4,356.8 346.5,356.4 346.6,355.0 346.7,354.2 346.8,359.8 347.0,360.1 347.1,357.8 347.2,356.8 347.3,356.7 347.4,356.1 347.6,355.3 347.7,359.7 347.8,359.5 347.9,357.0 348.0,355.0 348.2,357.3 348.3,355.6 348.4,355.4 348.5,355.8 348.6,359.5 348.8,356.1 348.9,356.6 349.0,349.5 349.1,357.1 349.2,358.5 349.4,357.1 349.5,357.3 349.6,359.4 349.7,359.0 349.8,356.9 350.0,357.8 350.0,356.0 350.1,357.1 350.2,349.6 350.3,356.1 350.4,358.0 350.6,355.9 350.7,358.6 350.8,355.2 350.9,355.6 351.0,355.8 351.2,357.3 351.3,356.7 351.4,355.2 351.5,358.5 351.6,354.4 351.8,354.4 351.9,359.0 352.0,359.4 352.1,358.6 352.2,354.5 352.4,358.1 352.5,353.0 352.6,354.5 352.7,359.0 352.8,357.1 353.0,359.7 353.1,357.5 353.2,354.2 353.3,357.3 353.4,354.3 353.6,358.6 353.7,352.8 353.8,351.2 353.9,355.9 354.0,354.5 354.2,355.8 354.3,357.4 354.4,357.2 354.5,357.2 354.6,359.5 354.8,357.3 354.9,359.1 355.0,359.2 355.1,354.7 355.2,356.4 355.4,355.0 355.5,355.2 355.6,354.9 355.7,357.7 355.8,354.6 356.0,358.6 356.1,355.6 356.2,355.8 356.3,357.1 356.4,356.4 356.6,358.8 356.7,358.9 356.8,353.4 356.9,357.4 357.0,354.8 357.2,356.2 357.3,357.1 357.4,358.3 357.5,358.1 357.6,354.6 357.8,355.7 357.9,353.0 358.0,354.4 358.1,355.0 358.2,354.4 358.4,358.1 358.5,358.3 358.6,355.1 358.7,355.1 358.8,359.1 359.0,357.7 359.1,355.4 359.2,359.1 359.3,356.6 359.4,351.9 359.6,352.5 359.7,356.4 359.8,358.2 359.9,356.4 360.0,357.3 360.2,356.6 360.3,355.0 360.4,358.8 360.5,355.5 360.6,353.9 360.8,352.6 360.9,357.1 361.0,354.9 361.1,358.0 361.2,358.8 361.4,357.5 361.5,352.0 361.6,356.3 361.7,355.8 361.8,354.1 362.0,357.3 362.1,358.8 362.2,355.7 362.3,357.9 362.4,355.7 362.6,354.4 362.7,358.7 362.8,354.6 362.9,357.3 363.0,358.5 363.2,354.5 363.3,354.6 363.4,357.5 363.5,355.7 363.6,355.9 363.8,355.1 363.9,357.7 364.0,355.2 364.1,352.4 364.2,357.4 364.4,356.1 364.5,358.1 364.6,354.5 364.7,351.7 364.8,355.7 365.0,355.9 365.1,358.4 365.2,358.4 365.3,358.1 365.4,357.9 365.6,356.2 365.7,352.6 365.8,355.2 365.9,356.4 366.0,354.4 366.2,355.7 366.3,356.2 366.4,356.4 366.5,357.0 366.6,355.8 366.8,352.9 366.9,355.0 367.0,355.3 367.1,355.7 367.2,355.2 367.4,354.3 367.5,355.8 367.6,357.3 367.7,355.1 367.8,353.3 368.0,353.1 368.1,355.9 368.2,353.6 368.3,353.5 368.4,353.0 368.6,356.2 368.7,357.9 368.8,355.3 368.9,358.0 369.0,355.9 369.2,355.1 369.3,351.6 369.4,356.3 369.5,357.3 369.6,351.2 369.8,355.3 369.9,354.6 370.0,354.6 370.1,353.4 370.2,357.9 370.4,351.3 370.5,354.6 370.6,354.6 370.7,353.9 370.8,357.8 371.0,352.0 371.1,355.4 371.2,356.1 371.3,354.4 371.4,356.9 371.6,355.6 371.7,355.0 371.8,356.5 371.9,352.0 372.0,354.7 372.2,354.7 372.3,352.1 372.4,357.5 372.5,353.8 372.6,356.4 372.8,352.7 372.9,354.8 373.0,357.1 373.1,353.8 373.2,356.7 373.4,350.2 373.5,352.0 373.6,355.6 373.7,354.8 373.8,353.4 374.0,355.0 374.1,351.0 374.2,352.4 374.3,350.4 374.4,351.4 374.6,356.2 374.7,355.6 374.8,353.2 374.9,352.6 375.0,352.3 375.2,351.3 375.3,353.2 375.4,351.6 375.5,353.8 375.6,351.6 375.8,356.4 375.9,353.9 376.0,357.0 376.1,355.6 376.2,356.9 376.4,352.8 376.5,354.1 376.6,354.1 376.7,352.8 376.8,355.3 377.0,353.9 377.1,354.2 377.2,352.7 377.3,355.3 377.4,355.6 377.6,354.0 377.7,352.2 377.8,350.4 377.9,352.0 378.0,353.2 378.2,350.3 378.3,347.8 378.4,354.9 378.5,355.5 378.6,354.1 378.8,353.8 378.9,353.3 379.0,356.2 379.1,352.4 379.2,353.6 379.4,353.6 379.5,352.3 379.6,352.2 379.7,356.4 379.8,352.7 380.0,352.6 380.1,352.2 380.2,354.2 380.3,356.3 380.4,350.7 380.6,352.0 380.7,352.5 380.8,350.6 380.9,354.0 381.0,352.4 381.2,352.1 381.3,352.8 381.4,353.0 381.5,355.3 381.6,350.3 381.8,350.3 381.9,352.4 382.0,356.0 382.1,350.7 382.2,351.9 382.4,354.4 382.5,355.2 382.6,353.8 382.7,355.9 382.8,352.1 383.0,349.2 383.1,350.1 383.2,353.3 383.3,347.8 383.4,352.0 383.6,350.1 383.7,355.7 383.8,350.8 383.9,351.3 384.0,352.0 384.2,351.7 384.3,351.9 384.4,352.6 384.5,351.8 384.6,352.8 384.8,355.6 384.9,353.2 385.0,353.8 385.1,351.5 385.2,351.4 385.4,352.2 385.5,354.9 385.6,353.7 385.7,353.5 385.8,353.4 386.0,351.1 386.1,349.3 386.2,351.4 386.3,352.4 386.4,348.3 386.6,353.7 386.7,351.8 386.8,353.7 386.9,351.6 387.0,351.3 387.2,350.8 387.3,351.8 387.4,352.6 387.5,353.5 387.6,350.3 387.8,351.8 387.9,351.3 388.0,354.7 388.1,353.2 388.2,350.8 388.4,349.4 388.5,352.2 388.6,349.0 388.7,354.5 388.8,352.1 389.0,347.6 389.1,352.9 389.2,352.5 389.3,350.3 389.4,350.9 389.6,350.7 389.7,352.6 389.8,349.5 389.9,354.2 390.0,353.6 390.2,350.6 390.3,352.4 390.4,349.7 390.5,346.8 390.6,348.0 390.8,349.4 390.9,352.6 391.0,350.1 391.1,347.0 391.2,352.7 391.4,350.1 391.5,353.0 391.6,346.9 391.7,351.0 391.8,350.4 392.0,346.8 392.1,351.5 392.2,352.5 392.3,353.5 392.4,352.7 392.6,350.2 392.7,353.4 392.8,351.6 392.9,349.4 393.0,348.7 393.2,351.6 393.3,349.7 393.4,350.6 393.5,347.0 393.6,350.7 393.8,352.6 393.9,350.1 394.0,353.1 394.1,348.4 394.2,349.6 394.4,349.2 394.5,348.6 394.6,351.0 394.7,349.3 394.8,352.4 395.0,352.1 395.1,348.7 395.2,350.6 395.3,352.1 395.4,351.7 395.6,350.9 395.7,347.8 395.8,347.6 395.9,350.5 396.0,349.3 396.2,345.7 396.3,348.3 396.4,348.8 396.5,345.6 396.6,349.8 396.8,347.7 396.9,347.4 397.0,350.3 397.1,352.2 397.2,351.7 397.4,347.0 397.5,350.2 397.6,348.1 397.7,350.2 397.8,349.6 398.0,345.3 398.1,345.4 398.2,348.1 398.3,348.9 398.4,346.0 398.6,347.2 398.7,348.1 398.8,346.6 398.9,349.4 399.0,351.6 399.2,350.4 399.3,347.4 399.4,348.6 399.5,347.1 399.6,343.4 399.8,346.6 399.9,349.4 400.0,350.8 400.1,350.4 400.2,350.9 400.4,346.3 400.5,347.3 400.6,351.0 400.7,345.9 400.8,347.0 401.0,346.1 401.1,347.1 401.2,346.6 401.3,346.2 401.4,347.5 401.6,349.5 401.7,346.3 401.8,346.0 401.9,345.9 402.0,346.5 402.2,348.5 402.3,345.9 402.4,345.9 402.5,343.4 402.6,345.6 402.8,346.9 402.9,346.9 403.0,344.8 403.1,346.3 403.2,343.1 403.4,348.0 403.5,346.4 403.6,343.9 403.7,348.9 403.8,348.8 404.0,345.7 404.1,344.8 404.2,345.3 404.3,343.9 404.4,345.6 404.6,343.2 404.7,346.0 404.8,346.0 404.9,348.1 405.0,346.7 405.0,346.0 405.2,344.5 405.3,347.2 405.4,347.9 405.5,344.5 405.6,340.7 405.8,347.1 405.9,346.3 406.0,344.2 406.1,340.7 406.2,347.6 406.4,347.5 406.5,341.7 406.6,343.8 406.7,341.0 406.8,344.2 407.0,347.4 407.1,346.4 407.2,344.5 407.3,344.0 407.4,344.0 407.6,345.7 407.7,347.2 407.8,343.8 407.9,342.5 408.0,344.9 408.2,340.4 408.3,345.6 408.4,344.0 408.5,342.2 408.6,343.2 408.8,338.0 408.9,344.7 409.0,345.0 409.1,344.6 409.2,344.4 409.4,341.6 409.5,341.3 409.6,345.6 409.7,342.7 409.8,342.4 410.0,342.3 410.0,344.6 410.1,340.8 410.2,343.0 410.3,341.4 410.4,341.2 410.6,341.2 410.7,345.1 410.8,342.2 410.9,345.1 411.0,341.8 411.2,344.4 411.3,343.1 411.4,342.5 411.5,340.0 411.6,344.1 411.8,346.1 411.9,338.1 412.0,343.3 412.1,342.1 412.2,340.8 412.4,343.8 412.5,343.4 412.6,344.0 412.7,342.8 412.8,343.0 413.0,341.6 413.1,343.6 413.2,341.6 413.3,341.1 413.4,344.1 413.5,343.2 413.6,341.9 413.7,342.9 413.8,342.9 413.9,341.2 414.0,338.7 414.2,340.2 414.3,341.8 414.4,340.0 414.5,339.4 414.6,339.3 414.8,337.8 414.9,337.4 415.0,337.7 415.1,337.0 415.2,336.9 415.4,335.3 415.5,334.7 415.6,333.5 415.7,332.8 415.8,332.3 416.0,331.3 416.1,330.5 416.2,329.8 416.3,328.6 416.4,328.0 416.6,327.1 416.7,326.3 416.8,325.4 416.9,324.5 417.0,323.9 417.2,322.6 417.2,322.4 417.3,322.1 417.4,321.8 417.5,321.3 417.6,320.9 417.8,320.6 417.9,320.1 418.0,319.9 418.1,319.4 418.2,319.0 418.4,318.6 418.5,318.0 418.6,317.5 418.7,317.3 418.8,317.0 419.0,316.5 419.1,316.5 419.2,316.4 419.3,315.9 419.4,316.1 419.6,315.7 419.7,315.5 419.8,315.2 419.9,314.9 420.0,314.6 420.2,314.6 420.3,314.5 420.4,313.6 420.5,313.9 420.6,313.6 420.8,313.4 420.8,313.1 420.9,313.3 421.0,313.3 421.1,312.8 421.2,312.5 421.4,312.8 421.5,312.3 421.6,312.2 421.7,312.1 421.8,312.1 422.0,311.6 422.1,311.6 422.2,311.6 422.3,311.3 422.4,311.3 422.6,311.1 422.7,310.7 422.8,310.7 422.9,310.6 423.0,310.4 423.2,310.1 423.3,309.8 423.4,310.0 423.5,309.9 423.6,309.6 423.6,309.8 423.8,309.5 423.9,309.2 424.0,309.1 424.1,309.3 424.2,308.9 424.4,308.6 424.5,308.6 424.6,308.4 424.7,308.4 424.8,308.4 425.0,308.0 425.1,307.7 425.2,307.9 425.3,307.6 425.4,307.5 425.6,307.2 425.7,307.0 425.8,307.1 425.9,306.7 426.0,306.5 426.2,306.4 426.3,306.3 426.4,305.9 426.5,306.1 426.6,305.7 426.8,305.1 426.9,304.9 427.0,305.0 427.1,304.4 427.2,304.5 427.4,304.1 427.5,303.8 427.6,303.2 427.7,303.3 427.8,303.1 428.0,302.8 428.1,302.5 428.2,302.1 428.3,302.0 428.4,301.7 428.6,301.2 428.6,301.1 428.7,300.9 428.8,300.1 428.9,299.5 429.0,299.1 429.2,298.3 429.3,297.7 429.4,297.0 429.5,296.6 429.6,296.0 429.8,295.2 429.9,294.7 430.0,294.0 430.1,292.6 430.2,291.7 430.4,290.5 430.5,289.3 430.6,288.3 430.7,286.9 430.8,285.8 431.0,284.8 431.0,284.4 431.1,283.8 431.2,283.4 431.3,282.8 431.4,282.0 431.6,281.6 431.7,281.1 431.8,280.6 431.9,279.9 432.0,279.0 432.2,278.2 432.3,277.4 432.4,276.4 432.5,275.7 432.6,274.9 432.7,274.8 432.8,271.6 432.9,266.3 433.0,260.6 433.1,257.6 433.2,254.9 433.4,252.0 433.5,248.8 433.5,248.8 433.6,247.4 433.7,245.9 433.8,244.7 434.0,242.8 434.1,241.7 434.2,240.0 434.3,238.7 434.4,237.1 434.5,236.4 434.6,237.3 434.7,238.6 434.8,239.5 434.9,241.0 435.0,242.1 435.2,243.5 435.3,244.7 435.4,246.0 435.5,246.8 435.5,246.8 435.6,246.2 435.8,245.6 435.9,245.2 436.0,244.1 436.1,243.6 436.2,242.8 436.4,242.3 436.5,241.4 436.5,241.3 436.6,245.9 436.7,251.1 436.8,254.8 436.8,256.1 437.0,259.9 437.1,263.7 437.2,268.1 437.3,272.1 437.4,274.5 437.4,275.0 437.6,276.1 437.7,277.4 437.8,278.4 437.9,279.9 438.0,281.0 438.2,282.1 438.3,283.3 438.4,284.8 438.5,285.8 438.6,286.8 438.8,287.8 438.9,289.2 439.0,290.0 439.1,291.4 439.2,292.5 439.4,293.4 439.5,294.7 439.6,295.4 439.7,296.5 439.8,297.7 439.9,298.2 440.0,299.1 440.1,300.9 440.2,302.7 440.3,304.2 440.4,306.3 440.6,307.9 440.7,309.7 440.8,311.4 440.9,313.1 441.0,314.5 441.2,316.6 441.2,317.4 441.3,318.5 441.4,320.3 441.5,322.3 441.6,324.1 441.8,326.3 441.9,328.1 442.0,329.8 442.1,330.1"/>
</g>
<line x1="101.9" y1="25.6" x2="101.9" y2="375" stroke="#444" stroke-width="1.4" stroke-dasharray="3.6 2.58"/>
<rect x="28.5" y="3.5" width="414" height="376" fill="none" stroke="#222" stroke-width="1.2"/>
<path d="M28.5,50.5H33.8M28.5,36.35H33.8M28.5,28.08H33.8M28.5,22.2H33.8M28.5,17.65H33.8M28.5,13.93H33.8M28.5,10.78H33.8M28.5,8.05H33.8M28.5,97.5H33.8M28.5,83.35H33.8M28.5,75.08H33.8M28.5,69.2H33.8M28.5,64.65H33.8M28.5,60.93H33.8M28.5,57.78H33.8M28.5,55.05H33.8M28.5,52.65H33.8M28.5,144.5H33.8M28.5,130.35H33.8M28.5,122.08H33.8M28.5,116.2H33.8M28.5,111.65H33.8M28.5,107.93H33.8M28.5,104.78H33.8M28.5,102.05H33.8M28.5,99.65H33.8M28.5,191.5H33.8M28.5,177.35H33.8M28.5,169.08H33.8M28.5,163.2H33.8M28.5,158.65H33.8M28.5,154.93H33.8M28.5,151.78H33.8M28.5,149.05H33.8M28.5,146.65H33.8M28.5,238.5H33.8M28.5,224.35H33.8M28.5,216.08H33.8M28.5,210.2H33.8M28.5,205.65H33.8M28.5,201.93H33.8M28.5,198.78H33.8M28.5,196.05H33.8M28.5,193.65H33.8M28.5,285.5H33.8M28.5,271.35H33.8M28.5,263.08H33.8M28.5,257.2H33.8M28.5,252.65H33.8M28.5,248.93H33.8M28.5,245.78H33.8M28.5,243.05H33.8M28.5,240.65H33.8M28.5,332.5H33.8M28.5,318.35H33.8M28.5,310.08H33.8M28.5,304.2H33.8M28.5,299.65H33.8M28.5,295.93H33.8M28.5,292.78H33.8M28.5,290.05H33.8M28.5,287.65H33.8M28.5,365.35H33.8M28.5,357.08H33.8M28.5,351.2H33.8M28.5,346.65H33.8M28.5,342.93H33.8M28.5,339.78H33.8M28.5,337.05H33.8M28.5,334.65H33.8M74.5,379.5V372.3M120.5,379.5V372.3M166.5,379.5V372.3M212.5,379.5V372.3M258.5,379.5V372.3M304.5,379.5V372.3M350.5,379.5V372.3M396.5,379.5V372.3" stroke="#222" stroke-width="1.2" fill="none"/>
<g fill="#222">
<text x="66.81" y="394" font-size="14" textLength="15.69" lengthAdjust="spacingAndGlyphs">30</text>
<text x="159.03" y="394" font-size="14" textLength="15.46" lengthAdjust="spacingAndGlyphs">40</text>
<text x="250.78" y="394" font-size="14" textLength="15.72" lengthAdjust="spacingAndGlyphs">50</text>
<text x="342.62" y="394" font-size="14" textLength="15.88" lengthAdjust="spacingAndGlyphs">60</text>
<text x="434.62" y="394" font-size="14" textLength="15.89" lengthAdjust="spacingAndGlyphs">70</text>
</g>
<circle cx="51" cy="124.4" r="3.6" fill="none" stroke="#000" stroke-width="1.7"/>
<rect x="87.7" y="91.3" width="6.3" height="6.3" fill="none" stroke="#000" stroke-width="1.7"/>
<path d="M218.25,104.4 L222.2,109.7 L214.3,109.7 Z" fill="none" stroke="#000" stroke-width="1.9" stroke-linejoin="miter"/>
<circle cx="318.3" cy="123" r="4.8" fill="#000"/>
<rect x="403.1" y="246.2" width="6.8" height="6.6" fill="#000"/>
<rect x="403.2" y="326.1" width="7" height="6.6" fill="#000"/>
<g fill="#333">
<text x="38.19" y="100.9" font-size="10" textLength="23.26" lengthAdjust="spacingAndGlyphs">NaCl</text>
<text x="38.42" y="114" font-size="10" textLength="23.87" lengthAdjust="spacingAndGlyphs">(111)</text>
<text x="75.99" y="71.2" font-size="10" textLength="23.37" lengthAdjust="spacingAndGlyphs">NaCl</text>
<text x="75.81" y="84.2" font-size="10" textLength="24.08" lengthAdjust="spacingAndGlyphs">(200)</text>
<text x="203.13" y="80.5" font-size="12" textLength="27.65" lengthAdjust="spacingAndGlyphs">NaCl</text>
<text x="203.38" y="95.2" font-size="12" textLength="29.04" lengthAdjust="spacingAndGlyphs">(220)</text>
<text x="303.13" y="96.3" font-size="12" textLength="27.55" lengthAdjust="spacingAndGlyphs">NaCl</text>
<text x="303.06" y="111.1" font-size="12" textLength="29.57" lengthAdjust="spacingAndGlyphs">(222)</text>
<text x="390.71" y="227.3" font-size="12" textLength="28.08" lengthAdjust="spacingAndGlyphs">NaCl</text>
<text x="390.57" y="242.1" font-size="12" textLength="29.47" lengthAdjust="spacingAndGlyphs">(400)</text>
<text x="137.23" y="140.8" font-size="13" textLength="43.69" lengthAdjust="spacingAndGlyphs">500 nm</text>
<text x="136.79" y="198.7" font-size="13" textLength="43.83" lengthAdjust="spacingAndGlyphs">200 nm</text>
<text x="136.95" y="288.4" font-size="13" textLength="43.66" lengthAdjust="spacingAndGlyphs">100 nm</text>
<text x="136.92" y="350.8" font-size="13" textLength="37.11" lengthAdjust="spacingAndGlyphs">50 nm</text>
</g>
<g fill="#111">
<text x="82.43" y="21.6" font-size="11" font-weight="bold" textLength="39.17" lengthAdjust="spacingAndGlyphs">Si (200)</text>
<text x="400.93" y="21.2" font-size="11" font-weight="bold" textLength="39.68" lengthAdjust="spacingAndGlyphs">Si (400)</text>
<text x="4.56" y="17.8" font-size="16" font-weight="bold" textLength="19.27" lengthAdjust="spacingAndGlyphs">(a)</text>
<text x="451.86" y="17.8" font-size="16" font-weight="bold" textLength="20.28" lengthAdjust="spacingAndGlyphs">(b)</text>
<text x="181.56" y="416" font-size="16.5" font-weight="bold" textLength="105.63" lengthAdjust="spacingAndGlyphs">2 theta (deg.)</text>
<text x="566.19" y="416.4" font-size="16.5" font-weight="bold" textLength="24.58" lengthAdjust="spacingAndGlyphs">Phi</text>
<text transform="translate(15,288.7) rotate(-90)" x="-0.32" y="0" font-size="16.5" font-weight="bold" textLength="177.57" lengthAdjust="spacingAndGlyphs">Counts (log scale, a.u.)</text>
<text transform="translate(467.2,248.8) rotate(-90)" x="-0.31" y="0" font-size="16.5" font-weight="bold" textLength="98.16" lengthAdjust="spacingAndGlyphs">Counts (a.u.)</text>
</g>
<path fill="none" stroke="#c0141e" stroke-width="1.1" stroke-linejoin="round" d="M478.0,131.1 478.9,134.0 479.8,132.7 480.0,136.8 480.7,124.2 481.6,132.0 482.5,136.5 483.4,134.1 484.3,137.6 485.2,134.6 486.1,131.6 487.0,131.7 487.9,137.2 488.8,136.7 489.7,132.8 490.6,130.9 491.5,129.9 492.4,131.5 493.3,137.7 494.2,133.6 495.1,134.2 496.0,137.9 496.9,132.7 497.8,128.8 498.7,127.3 499.6,133.2 500.5,134.6 501.4,130.6 502.3,130.9 502.8,112.0 503.2,102.2 503.6,112.0 504.1,132.6 505.0,130.8 505.9,127.0 506.8,128.1 507.7,131.0 508.6,128.8 509.5,131.0 510.4,128.7 511.3,137.5 512.2,131.9 513.1,133.5 514.0,132.7 514.9,129.6 515.8,137.7 516.7,128.1 517.6,135.8 518.5,131.3 519.4,130.7 520.3,133.6 521.2,136.6 522.1,134.2 523.0,132.6 523.9,131.3 524.8,130.6 525.7,132.8 526.6,137.5 527.3,127.3 527.5,130.0 528.4,127.0 528.5,122.4 529.3,128.5 529.7,134.7 530.2,129.5 531.1,133.4 532.0,130.2 532.9,132.2 533.8,131.8 534.7,135.9 535.6,132.8 536.5,130.5 537.4,131.3 538.3,133.6 539.2,131.6 540.1,135.4 541.0,132.9 541.9,131.7 542.8,131.4 543.7,130.7 544.6,132.7 545.5,129.5 546.4,128.6 547.3,136.1 548.2,123.2 549.1,137.1 550.0,134.7 550.9,132.8 551.8,131.3 552.7,130.8 553.6,133.8 553.9,100.0 554.1,80.4 554.3,100.0 554.5,122.0 554.6,133.0 555.4,127.5 556.3,130.9 557.2,128.5 558.1,132.7 559.0,131.9 559.9,129.7 560.8,135.9 561.7,127.4 562.6,134.2 563.5,132.8 564.4,134.6 565.3,128.5 566.2,136.7 567.1,133.2 568.0,130.6 568.9,128.4 569.8,132.8 570.7,137.0 571.6,130.7 572.5,133.2 573.4,127.8 574.3,127.4 575.2,128.2 576.1,132.8 577.0,129.3 577.9,129.2 578.8,131.2 579.7,128.5 580.6,129.6 581.5,135.0 582.4,132.8 583.3,132.4 584.2,131.2 585.1,133.4 586.0,130.2 586.9,137.9 587.8,137.7 588.7,136.6 589.6,130.3 590.5,135.7 591.4,134.6 592.3,131.5 593.2,134.6 594.1,135.6 595.0,131.7 595.9,134.8 596.8,128.6 597.7,133.6 598.6,130.5 599.5,133.6 600.4,137.0 601.3,133.1 602.2,128.5 603.1,132.4 604.0,132.0 604.8,132.1 604.9,122.0 605.0,112.0 605.2,104.0 605.4,112.0 605.6,132.0 605.8,131.6 606.7,134.8 607.6,135.2 608.5,135.7 609.4,133.7 610.3,132.5 611.2,132.8 612.1,136.9 613.0,132.4 613.9,131.7 614.8,135.7 615.7,129.3 616.6,136.7 617.5,133.8 618.4,127.1 619.3,132.9 620.2,130.6 621.1,133.8 622.0,132.9 622.9,132.4 623.8,128.3 624.7,134.0 625.6,130.3 626.5,128.4 627.4,135.1 628.3,130.6 628.5,131.5 629.2,121.2 629.3,123.7 630.1,132.8 631.0,130.8 631.9,130.6 632.8,134.6 633.7,136.3 634.6,130.8 635.5,129.9 636.4,126.0 637.3,130.2 638.2,136.9 639.1,123.3 640.0,128.4 640.9,128.8 641.8,134.5 642.7,136.5 643.6,133.6 643.8,136.5 644.5,120.6 645.2,125.5 645.4,129.6 646.3,132.1 647.2,124.2 648.1,132.4 649.0,135.4 649.9,132.1 650.8,134.5 651.7,130.1 652.6,133.1 653.5,133.2 654.4,132.5 655.3,127.4 656.0,131.5 656.2,110.0 656.3,97.2 656.5,110.0 656.7,132.2 657.1,123.2 658.0,131.3 658.9,133.5 659.8,127.8 660.7,123.1 661.6,133.9 662.5,126.5 663.4,127.6 664.3,131.5 665.2,121.2 666.1,133.5 667.0,129.1 667.9,129.4 668.8,129.3 669.7,132.0 670.6,129.3 671.0,133.7 671.5,120.9 671.8,123.9 672.4,129.1 672.6,135.1 673.3,136.1 674.2,131.5 675.1,133.9 676.0,131.6 676.9,130.1 677.8,130.4 678.7,129.9 679.6,136.0 680.5,133.5 681.4,127.7 682.0,129.3"/>
<rect x="477.5" y="2.6" width="204.8" height="376.3" fill="none" stroke="#333" stroke-width="1.2"/>
<line x1="477.5" y1="358.4" x2="682.3" y2="358.4" stroke="#333" stroke-width="1.3"/>
<path stroke="#333" stroke-width="1.2" fill="none" d="M502.6,358.4V183.1M553.9,358.4V200.6M604.9,358.4V176.1M656.4,358.4V248.4"/>
<path stroke="#333" stroke-width="1.2" fill="none" d="M503.1,378.9V372.9M528.7,378.9V372.9M554.3,378.9V372.9M579.9,378.9V372.9M605.5,378.9V372.9M631.1,378.9V372.9M656.7,378.9V372.9"/>
<g fill="#333">
<text x="489.49" y="394.6" font-size="14" textLength="21.33" lengthAdjust="spacingAndGlyphs">-90</text>
<text x="550.29" y="394.6" font-size="14" textLength="8.03" lengthAdjust="spacingAndGlyphs">0</text>
<text x="596.86" y="394.6" font-size="14" textLength="16.36" lengthAdjust="spacingAndGlyphs">90</text>
<text x="645.17" y="394.6" font-size="14" textLength="23.63" lengthAdjust="spacingAndGlyphs">180</text>
<text x="635.51" y="153" font-size="10.5" textLength="34.47" lengthAdjust="spacingAndGlyphs">X 1000</text>
</g>
<text x="567.5" y="117.9" font-size="12" font-weight="bold" fill="#b0202a" textLength="28.84" lengthAdjust="spacingAndGlyphs">NaCl</text>
<text x="567.84" y="351.3" font-size="12" font-weight="bold" fill="#111" textLength="10.28" lengthAdjust="spacingAndGlyphs">Si</text>
</svg></body></html>
